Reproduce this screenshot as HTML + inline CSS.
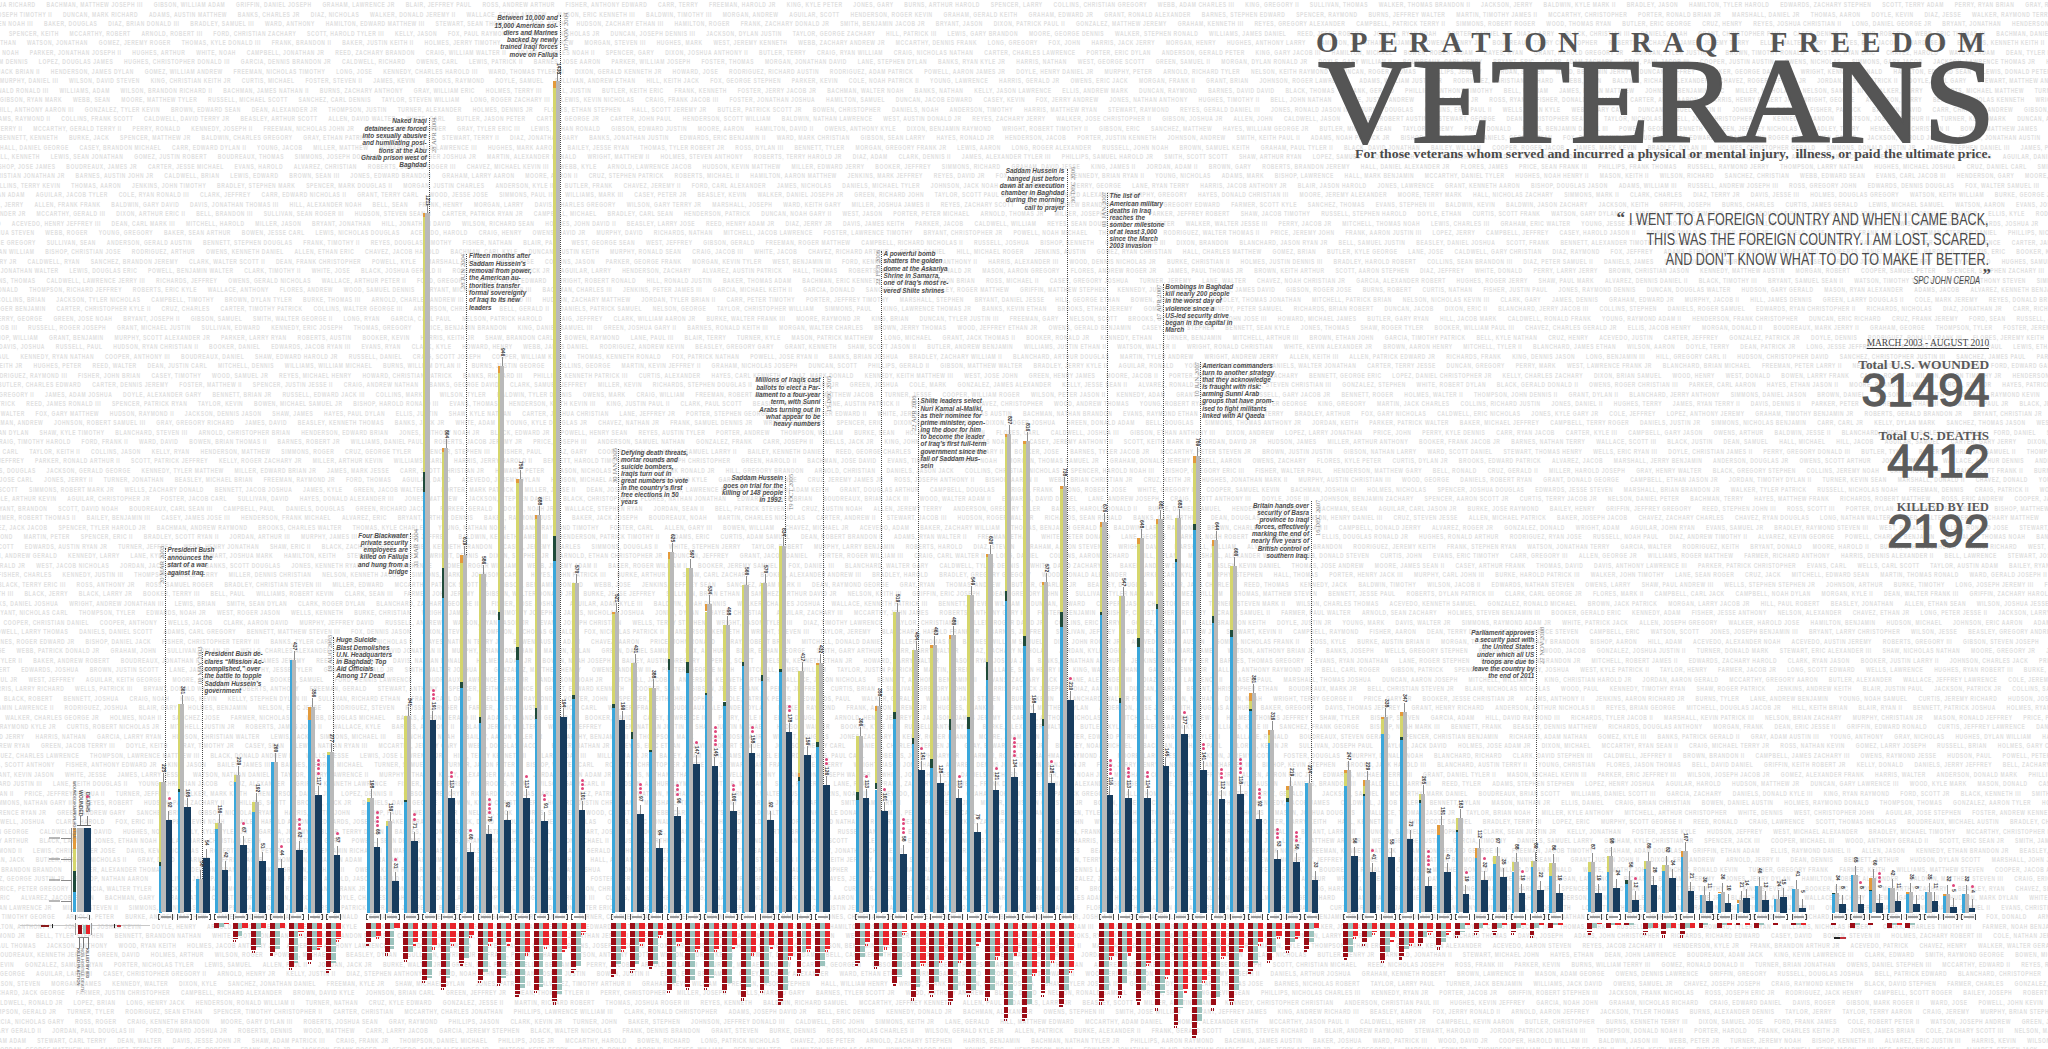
<!DOCTYPE html><html><head><meta charset="utf-8"><style>
html,body{margin:0;padding:0;}
body{width:2048px;height:1049px;position:relative;overflow:hidden;background:#fff;font-family:"Liberation Sans",sans-serif;}
.nm{position:absolute;left:0;white-space:nowrap;font:bold 7.4px/8px "Liberation Sans",sans-serif;color:#e0e0e0;transform:scaleX(0.67);transform-origin:0 0;letter-spacing:0.9px;}
.r{position:absolute;}
.bk{position:absolute;top:914px;width:15px;height:6px;}.bk i,.bk s{position:absolute;top:0;width:1.6px;height:6px;border:1px solid #4a4a4a;box-sizing:border-box;}.bk i{left:0;border-right:none;}.bk s{right:0;border-left:none;}.bk u{position:absolute;left:2.6px;right:2.6px;top:2.2px;height:1.6px;background:#9a9a9a;}
.st{position:absolute;width:3px;height:3px;border-radius:50%;background:#e0457b;}
.nm b{display:inline-block;width:16px;}
.an{position:absolute;white-space:nowrap;font:bold italic 6.4px/7px "Liberation Sans",sans-serif;color:#4c4c4c;}
.dt{position:absolute;white-space:nowrap;font:6.6px/7px "Liberation Serif",serif;color:#7d7d7d;transform:rotate(-90deg);transform-origin:0 0;}
.dl{position:absolute;width:0;border-left:1px dotted #4a4a4a;}
.vl{position:absolute;white-space:nowrap;font:bold 5px/5px "Liberation Sans",sans-serif;color:#333;transform:rotate(90deg);transform-origin:0 0;}
</style></head><body>
<div class="nm" style="top:1.4px;left:-40px">LEWIS, JOSHUA RICHARD<b></b>BACHMAN, MATTHEW JOSEPH III<b></b>GIBSON, WILLIAM ADAM<b></b>GRIFFIN, DANIEL JOSEPH<b></b>GRAHAM, LAWRENCE JR<b></b>BLAIR, JEFFREY PAUL<b></b>ROSS, ANDREW ARTHUR<b></b>FISHER, ANTHONY EDWARD<b></b>CARR, TERRY<b></b>FREEMAN, HAROLD JR<b></b>KING, KYLE PETER<b></b>JONES, GARY<b></b>BURNS, ARTHUR HAROLD<b></b>SPENCER, LARRY<b></b>COLLINS, CHRISTIAN GREGORY<b></b>WEBB, ADAM CHARLES III<b></b>KING, GREGORY II<b></b>SULLIVAN, THOMAS<b></b>WALKER, THOMAS BRANDON II<b></b>JACKSON, JERRY<b></b>BALDWIN, KYLE MARK II<b></b>BRADLEY, JASON<b></b>HAMILTON, TYLER HAROLD<b></b>EDWARDS, ZACHARY STEPHEN<b></b>SCOTT, TERRY ADAM<b></b>PERRY, RYAN BRIAN<b></b>GRAY, RYAN JESSE<b></b>HILL, LARRY ADAM III<b></b>NELSON, AUSTIN STEVEN III<b></b>BOOKER, PETER III<b></b>POWELL, TYLER ANTHONY II</div>
<div class="nm" style="top:10.9px;left:-26px">REED, JOSEPH TIMOTHY II<b></b>DUNCAN, MARK RICHARD<b></b>ADAMS, AUSTIN MATTHEW<b></b>BANKS, CHARLES JR<b></b>DIAZ, NICHOLAS<b></b>WALKER, DONALD JEREMY II<b></b>WALLACE, ETHAN ANDREW<b></b>MASON, ERIC KENNETH III<b></b>BALDWIN, TIMOTHY III<b></b>MORGAN, ANDREW<b></b>AGUILAR, SCOTT<b></b>HENDERSON, ROGER KEVIN<b></b>GRAHAM, GERALD KEITH<b></b>GRAHAM, EDWARD JR<b></b>GRANT, RONALD ALEXANDER<b></b>BARNES, STEPHEN EDWARD<b></b>SPENCER, RAYMOND<b></b>BURNS, JEFFREY WALTER<b></b>MARTIN, TIMOTHY JAMES II<b></b>MCCARTHY, CHRISTOPHER<b></b>PORTER, RONALD BRIAN JR<b></b>MARSHALL, DANIEL JR<b></b>THOMAS, AARON<b></b>DOYLE, KEVIN<b></b>DIAZ, JESSE<b></b>WALKER, RAYMOND TERRY<b></b>BALDWIN, JOHN<b></b>ACEVEDO, PAUL EDWARD<b></b>BARNES, NICHOLAS KEITH<b></b>LONG, ERIC STEVEN<b></b>MITCHELL, PETER III</div>
<div class="nm" style="top:20.4px;left:-40px">WHITE, STEVEN NOAH III<b></b>BAKER, DOUGLAS<b></b>DIAZ, BRIAN DONALD III<b></b>BRADLEY, SAMUEL III<b></b>WARD, ANTHONY<b></b>HAMILTON, EDWARD MATTHEW III<b></b>STEWART, SEAN THOMAS II<b></b>LONG, KEITH<b></b>HUDSON, ZACHARY ETHAN III<b></b>HAMILTON, ROGER<b></b>FRANK, ZACHARY DONALD JR<b></b>SMITH, BENJAMIN JACOB JR<b></b>BRYANT, JASON<b></b>DIXON, PATRICK PAUL II<b></b>GONZALEZ, MATTHEW JEREMY<b></b>GRAHAM, KENNETH III<b></b>REYES, GREGORY ALEXANDER<b></b>CAMPBELL, PATRICK TERRY II<b></b>SIMMONS, ROBERT ROGER<b></b>WOOD, THOMAS RYAN<b></b>BUTLER, ERIC GEORGE<b></b>CRUZ, HENRY<b></b>REYES, JOSHUA CHRISTIAN II<b></b>LONG, DANIEL GEORGE JR<b></b>BRYANT, JONATHAN<b></b>HENDERSON, CHRISTOPHER<b></b>BROWN, ERIC II<b></b>ANDERSON, GREGORY JR<b></b>HOLMES, STEVEN JACOB<b></b>DUNCAN, ERIC RONALD</div>
<div class="nm" style="top:29.9px;left:-41px">KELLY, NOAH<b></b>SPENCER, KEITH<b></b>MCCARTHY, ROBERT<b></b>ARNOLD, ROBERT III<b></b>FORD, CHRISTIAN ZACHARY<b></b>SCOTT, HAROLD TYLER III<b></b>KELLY, JASON<b></b>FOX, PAUL RAYMOND<b></b>CRUZ, JOHN NICHOLAS JR<b></b>DUNCAN, JOSEPH DENNIS III<b></b>JACKSON, DYLAN JUSTIN<b></b>TAYLOR, GEORGE ZACHARY<b></b>HILL, PATRICK III<b></b>LEWIS, GARY BRANDON<b></b>MOORE, GEORGE DENNIS<b></b>WALKER, STEPHEN RONALD<b></b>WILLIAMS, JAMES DANIEL<b></b>REED, JESSE ROBERT<b></b>JORDAN, RYAN NOAH<b></b>PORTER, SAMUEL II<b></b>DIAZ, LARRY<b></b>BLACK, CHRISTIAN III<b></b>DANIELS, NOAH<b></b>GRANT, CHRISTOPHER PAUL<b></b>CASEY, DENNIS III<b></b>BLAIR, ROBERT<b></b>WEBB, ERIC THOMAS III<b></b>BACHMAN, DANIEL<b></b>WALKER, NICHOLAS<b></b>GREEN, TIMOTHY PETER II<b></b>PERRY, CHARLES LARRY<b></b>FOX, CHARLES FRANK</div>
<div class="nm" style="top:39.4px;left:-56px">JORDAN, AUSTIN ETHAN<b></b>WATSON, JONATHAN<b></b>GOMEZ, JEREMY ROGER<b></b>THOMAS, KYLE DONALD III<b></b>FRANK, BRANDON II<b></b>BAKER, JUSTIN KEITH II<b></b>HOLMES, JERRY TIMOTHY<b></b>CAMPBELL, ANDREW<b></b>MORGAN, STEVEN III<b></b>HUGHES, MARK<b></b>WEST, JEREMY KENNETH<b></b>WEBB, ZACHARY ANDREW JR<b></b>MCCARTHY, DENNIS FRANK<b></b>LONG, GREGORY<b></b>FOX, JOHN<b></b>HARRIS, JACK JERRY<b></b>MORGAN, HENRY<b></b>HUGHES, ANTHONY LARRY<b></b>HAMILTON, JONATHAN BENJAMIN<b></b>OWENS, HENRY JR<b></b>BOUDREAUX, TERRY CHRISTOPHER<b></b>ROBERTS, ZACHARY<b></b>JAMES, JEREMY TERRY<b></b>ELLIS, WALTER LARRY<b></b>HAYES, ERIC JACOB<b></b>WARD, SEAN<b></b>EDWARDS, KENNETH KEITH II<b></b>BLANCHARD, JEFFREY FRANK II<b></b>SANCHEZ, PAUL GARY<b></b>EVANS, GREGORY BENJAMIN<b></b>NELSON, ERIC</div>
<div class="nm" style="top:48.9px;left:-47px">BALDWIN, JOSE NOAH<b></b>PARKER, JONATHAN JOSEPH II<b></b>HUGHES, ARTHUR<b></b>WHITE, NOAH<b></b>CAMPBELL, JONATHAN JR<b></b>REED, ZACHARY BRANDON<b></b>CRAIG, WILLIAM WALTER II<b></b>ADAMS, CHARLES NOAH II<b></b>SPENCER, GARY<b></b>DIXON, JOSHUA ANTHONY II<b></b>BUTLER, TERRY<b></b>CRAIG, RYAN WILLIAM<b></b>CRAIG, NICHOLAS NATHAN<b></b>CARTER, CHARLES LAWRENCE<b></b>PORTER, ERIC DYLAN<b></b>ANDERSON, GERALD PETER<b></b>KING, GARY JACOB III<b></b>HAMILTON, MICHAEL<b></b>BOWEN, ROBERT ADAM<b></b>HAYES, RYAN<b></b>GRANT, HAROLD GREGORY JR<b></b>MORGAN, TYLER JUSTIN III<b></b>BROWN, TIMOTHY RONALD<b></b>FOSTER, RYAN ERIC<b></b>CHAVEZ, HAROLD<b></b>WATSON, ADAM<b></b>DEAN, TYLER MICHAEL<b></b>RODRIGUEZ, RICHARD<b></b>POWELL, ZACHARY<b></b>CLARK, CHRISTOPHER<b></b>FORD, GEORGE III</div>
<div class="nm" style="top:58.4px;left:-59px">THOMPSON, WILLIAM DENNIS<b></b>LOPEZ, DOUGLAS JAMES<b></b>HUGHES, CHRISTOPHER DONALD III<b></b>GARCIA, DENNIS BRANDON JR<b></b>CALDWELL, RICHARD<b></b>OWENS, CARL<b></b>LEWIS, PATRICK II<b></b>BARNES, JOSE AARON<b></b>PARKER, WILLIAM JOSEPH<b></b>FOSTER, THOMAS<b></b>MORGAN, JONATHAN DAVID<b></b>LANE, STEPHEN DYLAN<b></b>BANKS, RYAN KYLE JR<b></b>HARRIS, NATHAN<b></b>WEST, GEORGE SCOTT<b></b>GREEN, SAMUEL II<b></b>MORGAN, DYLAN RONALD JR<b></b>DOYLE, GARY WILLIAM II<b></b>BOUDREAUX, CARL HENRY<b></b>BRYANT, ERIC<b></b>CARR, ADAM ZACHARY<b></b>GRAY, PAUL JACOB III<b></b>COOPER, JUSTIN AUSTIN<b></b>OWENS, NICHOLAS<b></b>SIMMONS, GARY JACOB<b></b>JACKSON, LAWRENCE THOMAS JR<b></b>HARRIS, GARY RYAN<b></b>THOMAS, WILLIAM WALTER<b></b>SPENCER, JACK JUSTIN<b></b>COLLINS, RICHARD LAWRENCE</div>
<div class="nm" style="top:67.9px;left:-27px">BURKE, JACK BRIAN II<b></b>HENDERSON, JAMES DYLAN<b></b>GOMEZ, WILLIAM ANDREW<b></b>FREEMAN, NICHOLAS TIMOTHY<b></b>LONG, JOSE<b></b>KENNEDY, CHARLES HAROLD III<b></b>WARD, THOMAS TYLER III<b></b>DIXON, GERALD KENNETH JR<b></b>HOWARD, JOSE<b></b>RODRIGUEZ, RICHARD AUSTIN<b></b>RODRIGUEZ, ADAM PATRICK<b></b>POWELL, AARON JAMES JR<b></b>DOYLE, HENRY DANIEL JR<b></b>MURPHY, PETER<b></b>ARNOLD, RICHARD TYLER<b></b>NELSON, KEITH RAYMOND<b></b>DUNCAN, ROGER THOMAS<b></b>PHILLIPS, JEREMY<b></b>JORDAN, STEVEN<b></b>WARD, BENJAMIN JERRY<b></b>DUNCAN, JEFFREY<b></b>WALKER, GEORGE DAVID JR<b></b>WRIGHT, KENNETH DONALD<b></b>HAMILTON, EDWARD SEAN<b></b>LEWIS, DONALD PETER III<b></b>KELLY, ADAM GARY JR<b></b>PORTER, JACK DOUGLAS<b></b>BALDWIN, JAMES II<b></b>THOMPSON, JACOB PETER<b></b>WALKER, AARON STEVEN</div>
<div class="nm" style="top:77.4px;left:0px">MURPHY, DANIEL III<b></b>WILSON, DAVID STEVEN<b></b>KING, CHRISTIAN KEITH JR<b></b>CURTIS, MICHAEL<b></b>FOSTER, STEVEN II<b></b>JAMES, KEVIN<b></b>BROOKS, RAYMOND<b></b>DOYLE, SAMUEL<b></b>SULLIVAN, ANDREW ETHAN<b></b>HILL, KEITH JACK<b></b>FOX, GEORGE STEPHEN<b></b>PARKER, KEVIN<b></b>COLE, NOAH PATRICK II<b></b>YOUNG, LAWRENCE<b></b>HARRIS, GERALD JR<b></b>OWENS, ERIC JACK<b></b>MORGAN, FRANK II<b></b>GRANT, BRIAN<b></b>JOHNSON, ROGER LAWRENCE<b></b>ADAMS, WILLIAM JUSTIN JR<b></b>RODRIGUEZ, CHRISTIAN RICHARD<b></b>WEBB, RYAN<b></b>BALDWIN, RICHARD ALEXANDER<b></b>CHAVEZ, ROGER JEFFREY JR<b></b>JORDAN, JESSE PATRICK II<b></b>DOYLE, PAUL GARY<b></b>STEWART, MATTHEW ANDREW<b></b>REED, ERIC<b></b>MILLER, DYLAN II<b></b>WRIGHT, HAROLD JAMES<b></b>BRADLEY, GERALD GEORGE<b></b>DOYLE, JOSEPH</div>
<div class="nm" style="top:86.9px;left:-52px">BOUDREAUX, RONALD RONALD III<b></b>WILLIAMS, ADAM<b></b>WILSON, BRANDON RICHARD II<b></b>BACHMAN, JAMES NATHAN II<b></b>BURNS, ZACHARY ANTHONY<b></b>GRAY, WILLIAM ERIC<b></b>HOLMES, TERRY III<b></b>HILL, JUSTIN<b></b>BUTLER, KEITH ERIC<b></b>FRANK, KENNETH<b></b>FOSTER, JERRY JACOB JR<b></b>BACHMAN, WALTER NOAH<b></b>BANKS, NATHAN<b></b>KELLY, JASON LAWRENCE<b></b>ELLIS, ANDREW MARK<b></b>DUNCAN, RAYMOND<b></b>BARNES, DAVID DAVID<b></b>BLACK, THOMAS<b></b>FRANK, GERALD<b></b>PHILLIPS, ANTHONY TIMOTHY<b></b>BELL, WILLIAM<b></b>JAMES, ETHAN MATTHEW<b></b>JOHNSON, BENJAMIN ERIC<b></b>MILLER, NICHOLAS<b></b>NELSON, SAMUEL III<b></b>WALKER, LARRY<b></b>ROBERTS, MICHAEL MATTHEW<b></b>TURNER, RICHARD JASON<b></b>JAMES, KEVIN NOAH<b></b>JAMES, RICHARD JEREMY<b></b>WEBB, GEORGE<b></b>WOOD, ERIC KENNETH</div>
<div class="nm" style="top:96.4px;left:0px">GIBSON, RYAN MARK<b></b>WEBB, SEAN<b></b>MOORE, MATTHEW TYLER<b></b>RUSSELL, MICHAEL SCOTT<b></b>SANCHEZ, CARL DENNIS<b></b>TAYLOR, STEVEN WILLIAM<b></b>LONG, ROGER ZACHARY III<b></b>LEWIS, KEVIN NICHOLAS<b></b>CRAIG, FRANK JACOB III<b></b>FOSTER, JONATHAN JOSHUA<b></b>HAMILTON, SAMUEL<b></b>DUNCAN, JACOB EDWARD<b></b>CASEY, KEVIN<b></b>FOX, JERRY ANDREW<b></b>JONES, NATHAN ANTHONY<b></b>HUGHES, TIMOTHY II<b></b>BELL, JOHN NATHAN<b></b>WHITE, JUSTIN ANDREW<b></b>REYES, JAMES JR<b></b>ROSS, RYAN<b></b>FISHER, DONALD BENJAMIN<b></b>CARTER, ADAM AARON<b></b>HARRIS, HENRY ROBERT JR<b></b>WRIGHT, GEORGE<b></b>ANDERSON, JERRY<b></b>BENNETT, NICHOLAS KENNETH<b></b>WRIGHT, RAYMOND ARTHUR II<b></b>BAILEY, TIMOTHY III<b></b>BAKER, JACK JOSE II<b></b>GARCIA, GEORGE DONALD<b></b>BOWEN, NICHOLAS AARON</div>
<div class="nm" style="top:105.9px;left:-55px">BURKE, ADAM<b></b>HILL, ANTHONY AARON III<b></b>GONZALEZ, TYLER KEVIN<b></b>BROWN, EDWARD SEAN<b></b>DEAN, ALEXANDER JR<b></b>THOMPSON, JUSTIN<b></b>TURNER, ALEXANDER<b></b>HOLMES, DENNIS JR<b></b>FLORES, ETHAN STEPHEN<b></b>HALL, SCOTT JEREMY JR<b></b>BUTLER, PATRICK SCOTT JR<b></b>BOWEN, CHRISTOPHER<b></b>DANIELS, NOAH<b></b>ANDERSON, TIMOTHY<b></b>HARRIS, MATTHEW RYAN<b></b>STEWART, RAYMOND<b></b>REYES, GERALD DANIEL III<b></b>JONES, RONALD JASON III<b></b>BURNS, DOUGLAS<b></b>COLLINS, ERIC PAUL II<b></b>WELLS, SEAN KYLE<b></b>WEBB, GARY CARL<b></b>DUNCAN, SAMUEL AUSTIN II<b></b>JOHNSON, KYLE ADAM<b></b>FISHER, PATRICK<b></b>BALDWIN, DAVID<b></b>CARR, CHRISTIAN ANDREW<b></b>GIBSON, ADAM<b></b>CARR, PATRICK NOAH III<b></b>GARCIA, LARRY HENRY<b></b>BOUDREAUX, RICHARD<b></b>MITCHELL, HAROLD KEITH</div>
<div class="nm" style="top:115.4px;left:-18px">WILLIAMS, RAYMOND II<b></b>COLLINS, FRANK SCOTT<b></b>CALDWELL, DAVID TERRY JR<b></b>BEASLEY, ARTHUR SCOTT<b></b>ALLEN, DAVID WALTER<b></b>WHITE, CARL<b></b>BUTLER, JASON PETER<b></b>CARTER, GEORGE JR<b></b>CARTER, JOHN PAUL<b></b>HENDERSON, SCOTT WILLIAM<b></b>BALDWIN, NATHAN LAWRENCE<b></b>WEST, AUSTIN DONALD JR<b></b>REYES, ZACHARY JERRY<b></b>WALKER, JOSE CHRISTOPHER II<b></b>GIBSON, JOSHUA JR<b></b>ALLEN, JOHN<b></b>CALDWELL, JASON<b></b>TURNER, ROBERT AUSTIN<b></b>STEWART, GEORGE<b></b>DEAN, CHRISTOPHER SEAN II<b></b>TAYLOR, NICHOLAS<b></b>BELL, JOHN CHRISTOPHER JR<b></b>KENNEDY, BRANDON<b></b>WATSON, JOSEPH ARTHUR II<b></b>TURNER, KEVIN MARK<b></b>DUNCAN, ADAM ZACHARY<b></b>MARSHALL, JUSTIN DYLAN<b></b>ARNOLD, JOSHUA<b></b>SANCHEZ, GARY DENNIS<b></b>STEWART, LARRY<b></b>HILL, JONATHAN JESSE</div>
<div class="nm" style="top:124.9px;left:-51px">DAVIS, ARTHUR TERRY II<b></b>MCCARTHY, GERALD TERRY II<b></b>PERRY, RONALD<b></b>KENNEDY, JOSEPH II<b></b>FREEMAN, NICHOLAS JOHN JR<b></b>TAYLOR, CARL ALEXANDER<b></b>GRAY, TYLER ERIC III<b></b>LEWIS, ETHAN RONALD<b></b>GIBSON, EDWARD JUSTIN<b></b>MOORE, AARON<b></b>HAMILTON, DAVID II<b></b>OWENS, ANTHONY KYLE<b></b>DIXON, BENJAMIN RAYMOND<b></b>WRIGHT, ROBERT TIMOTHY II<b></b>GIBSON, ERIC<b></b>SANCHEZ, MATTHEW<b></b>HAYES, WILLIAM GEORGE JR<b></b>BUTLER, MICHAEL SEAN<b></b>TAYLOR, JEREMY<b></b>PRICE, DONALD<b></b>HAYES, BENJAMIN DANIEL III<b></b>POWELL, GEORGE KENNETH<b></b>GREEN, JEFFREY NICHOLAS<b></b>BRADLEY, TERRY<b></b>HENDERSON, CHRISTIAN II<b></b>BOWEN, MATTHEW JAMES<b></b>JONES, JESSE ANTHONY II<b></b>LEWIS, JACK DONALD<b></b>WARD, DENNIS JACOB<b></b>ARNOLD, KYLE</div>
<div class="nm" style="top:134.4px;left:-1px">BENNETT, KENNETH<b></b>BURKE, JACK<b></b>SPENCER, MATTHEW JR<b></b>BALDWIN, CHARLES GREGORY<b></b>GRAY, ETHAN PATRICK<b></b>LOPEZ, JEFFREY<b></b>STEWART, TERRY II<b></b>DIAZ, JONATHAN GARY<b></b>BANKS, JONATHAN JUSTIN<b></b>EDWARDS, ERIC BENJAMIN II<b></b>WARD, MARK CHRISTIAN<b></b>GIBSON, SEAN LARRY<b></b>HAYES, RONALD JR<b></b>HENDERSON, JACOB<b></b>PORTER, JUSTIN KENNETH<b></b>JOHNSON, ANDREW<b></b>SMITH, KEITH PAUL II<b></b>ADAMS, NOAH PATRICK JR<b></b>BISHOP, JOSE ARTHUR<b></b>DANIELS, GEORGE RYAN<b></b>FOX, DYLAN DANIEL II<b></b>HUDSON, BRIAN EDWARD<b></b>FRANK, JOHN ROGER JR<b></b>BOWEN, ROGER<b></b>JACKSON, HAROLD JOSE II<b></b>CURTIS, JONATHAN AUSTIN<b></b>BENNETT, KENNETH<b></b>MOORE, ROGER III<b></b>BRYANT, DONALD GARY<b></b>PERRY, ARTHUR<b></b>JENKINS, ANTHONY II<b></b>SPENCER, CHRISTIAN GERALD</div>
<div class="nm" style="top:143.9px;left:0px">HALL, DANIEL GEORGE<b></b>CASEY, BRANDON MICHAEL<b></b>CARR, EDWARD DYLAN II<b></b>YOUNG, JACOB<b></b>MILLER, MATTHEW<b></b>HOWARD, DONALD LAWRENCE III<b></b>HUGHES, MARK AARON<b></b>BAILEY, JESSE RYAN<b></b>THOMAS, TYLER ROBERT JR<b></b>ROSS, DYLAN III<b></b>BENNETT, TYLER<b></b>MORGAN, GREGORY FRANK JR<b></b>LEWIS, AARON<b></b>LONG, ROGER ALEXANDER<b></b>RUSSELL, JOHN NOAH<b></b>BROWN, SAMUEL KEITH<b></b>GRAHAM, PAUL TYLER II<b></b>BLACK, DAVID JONATHAN<b></b>BAILEY, WILLIAM<b></b>COOPER, ROGER JACOB<b></b>JAMES, MARK KEVIN<b></b>BRADLEY, DYLAN III<b></b>HOLMES, CHRISTOPHER GERALD<b></b>SIMMONS, DONALD JUSTIN JR<b></b>JAMES, STEPHEN DANIEL III<b></b>JAMES, PETER<b></b>PHILLIPS, RONALD PATRICK II<b></b>BLANCHARD, SCOTT II<b></b>KENNEDY, MICHAEL JEFFREY<b></b>WOOD, CARL LAWRENCE JR</div>
<div class="nm" style="top:153.4px;left:-22px">MITCHELL, KENNETH<b></b>LEWIS, SEAN JONATHAN<b></b>GOMEZ, JUSTIN ROBERT<b></b>BOUDREAUX, THOMAS<b></b>SIMMONS, JOSEPH DOUGLAS<b></b>CHAVEZ, ROGER JOSHUA JR<b></b>MARTIN, ALEXANDER RONALD<b></b>WRIGHT, MATTHEW II<b></b>HOLMES, STEVEN ANTHONY<b></b>ROBERTS, TERRY HAROLD JR<b></b>DIAZ, ADAM<b></b>CLARK, DENNIS II<b></b>JAMES, ALEXANDER TYLER III<b></b>PHILLIPS, SAMUEL HAROLD JR<b></b>SMITH, SCOTT SCOTT<b></b>SHAW, ARTHUR RYAN<b></b>LOPEZ, SAMUEL<b></b>LONG, TIMOTHY<b></b>BANKS, RICHARD HAROLD<b></b>BACHMAN, BRANDON NATHAN III<b></b>WRIGHT, NATHAN ALEXANDER<b></b>MILLER, ZACHARY<b></b>ACEVEDO, RYAN JACK III<b></b>REED, SEAN<b></b>FORD, ADAM DOUGLAS<b></b>AGUILAR, DANIEL BENJAMIN<b></b>BURKE, BRANDON MARK<b></b>MASON, CHRISTIAN JR<b></b>DOYLE, NOAH CHRISTIAN<b></b>WILLIAMS, EDWARD JOSEPH</div>
<div class="nm" style="top:162.9px;left:-8px">BISHOP, JOSE JAMES<b></b>BOUDREAUX, JAMES JR<b></b>CARTER, JESSE MICHAEL<b></b>EVANS, HAROLD<b></b>ALVAREZ, CHRISTIAN<b></b>ROBERTS, DONALD ROGER III<b></b>CHAVEZ, MICHAEL KEVIN III<b></b>WEBB, KYLE<b></b>ARNOLD, LAWRENCE JACOB<b></b>HUDSON, KEVIN MATTHEW<b></b>MILLER, EDWARD JERRY<b></b>BOOKER, JEFFREY<b></b>SIMMONS, RICHARD<b></b>GRAHAM, DAVID JESSE<b></b>KING, JAMES II<b></b>JORDAN, ADAM II<b></b>BROWN, GARY<b></b>ROBERTS, BRANDON JEREMY<b></b>HALL, DANIEL ALEXANDER JR<b></b>FLORES, JAMES<b></b>PRICE, SEAN FRANK III<b></b>PHILLIPS, FRANK THOMAS<b></b>RUSSELL, RAYMOND JERRY<b></b>THOMPSON, LARRY NATHAN<b></b>HUGHES, MICHAEL JOSHUA<b></b>CRUZ, DANIEL CARL<b></b>SMITH, KYLE<b></b>DOYLE, JACK AARON JR<b></b>GARCIA, SCOTT III<b></b>FREEMAN, RYAN<b></b>HENDERSON, DYLAN<b></b>ALVAREZ, GARY CHRISTIAN</div>
<div class="nm" style="top:172.4px;left:-40px">COOPER, CHRISTIAN JONATHAN JR<b></b>BARNES, AUSTIN JOHN JR<b></b>CALDWELL, BRIAN<b></b>LEWIS, EDWARD<b></b>BROWN, SEAN III<b></b>JONES, EDWARD BRANDON<b></b>GRAHAM, LARRY AARON<b></b>MOORE, AARON II<b></b>CRUZ, STEPHEN PATRICK<b></b>ROBERTS, MICHAEL II<b></b>HAMILTON, AARON MATTHEW<b></b>JENKINS, MARK JEFFREY<b></b>REYES, DAVID JR<b></b>FOX, SCOTT DAVID III<b></b>KENNEDY, BRIAN RYAN II<b></b>YOUNG, NICHOLAS<b></b>ADAMS, MARK<b></b>BISHOP, LAWRENCE<b></b>HALL, MARK BENJAMIN<b></b>MCCARTHY, DANIEL TYLER<b></b>HUGHES, NOAH HENRY II<b></b>MASON, KEITH II<b></b>WILSON, RICHARD<b></b>SANCHEZ, CHRISTIAN<b></b>WEBB, EDWARD SEAN<b></b>EVANS, CARL JACOB III<b></b>HENDERSON, GARY<b></b>MOORE, RAYMOND RONALD<b></b>DANIELS, PAUL II<b></b>WARD, JACOB<b></b>WOOD, DOUGLAS RAYMOND<b></b>CURTIS, ANDREW JACOB</div>
<div class="nm" style="top:181.9px;left:-9px">COLLINS, TERRY KEVIN<b></b>THOMAS, AARON<b></b>JENKINS, JOHN TIMOTHY<b></b>BRADLEY, STEPHEN MARK<b></b>SPENCER, MARK DOUGLAS II<b></b>MORGAN, JUSTIN CHARLES<b></b>ANDERSON, KYLE II<b></b>BUTLER, FRANK<b></b>CHAVEZ, JEREMY II<b></b>FORD, CARL ALEXANDER<b></b>JAMES, NICHOLAS<b></b>DANIELS, MICHAEL TYLER<b></b>JOHNSON, JACK NOAH<b></b>CASEY, BRANDON<b></b>PERRY, GEORGE<b></b>LANE, RYAN TERRY<b></b>HARRIS, JACOB ANTHONY JR<b></b>BLAIR, JASON HAROLD<b></b>JONES, LAWRENCE<b></b>GRANT, KENNETH AARON<b></b>BISHOP, DOUGLAS JASON<b></b>ADAMS, WILLIAM III<b></b>RUSSELL, ANDREW JOSEPH III<b></b>ROSS, GREGORY JOHN<b></b>EDWARDS, DENNIS DOUGLAS<b></b>FOX, WALTER SAMUEL III<b></b>TAYLOR, HENRY<b></b>REED, CHRISTOPHER<b></b>LOPEZ, SCOTT ADAM<b></b>WARD, PAUL GREGORY III<b></b>BARNES, EDWARD ZACHARY</div>
<div class="nm" style="top:191.4px;left:-36px">OWENS, SEAN ADAM<b></b>AGUILAR, JACOB TYLER<b></b>COLE, RYAN RONALD III<b></b>CLARK, JEFFREY<b></b>CARR, EDWARD NICHOLAS II<b></b>GRANT, TERRY CARL<b></b>WOOD, JESSE JOSE<b></b>SIMMONS, PAUL III<b></b>WILLIAMS, MARK III<b></b>CASEY, PETER JR<b></b>BEASLEY, KEVIN<b></b>WALKER, DANIEL JOSEPH JR<b></b>GREEN, RICHARD JOHN<b></b>TAYLOR, SCOTT PAUL JR<b></b>CALDWELL, RONALD ALEXANDER<b></b>MURPHY, GREGORY<b></b>HAYES, DONALD CHRISTIAN III<b></b>MOORE, JEREMY ALEXANDER<b></b>MOORE, TERRY MARK<b></b>HALL, NICHOLAS ZACHARY<b></b>SIMMONS, MARK II<b></b>CLARK, CHARLES<b></b>DIAZ, TERRY JR<b></b>DAVIS, JESSE III<b></b>HOLMES, DOUGLAS GREGORY<b></b>WATSON, KEITH WILLIAM<b></b>BURKE, GEORGE JR<b></b>WALKER, KENNETH II<b></b>POWELL, RYAN III<b></b>BURKE, PATRICK JASON<b></b>CRUZ, JESSE<b></b>ELLIS, PATRICK</div>
<div class="nm" style="top:200.9px;left:-33px">THOMPSON, JERRY<b></b>ALLEN, FRANK FRANK<b></b>BALDWIN, GARY DAVID<b></b>DAVIS, JONATHAN THOMAS III<b></b>HILL, ALEXANDER NOAH<b></b>BELL, SEAN<b></b>FRANK, HENRY<b></b>MORGAN, LARRY<b></b>DAVIS, CHARLES GREGORY<b></b>WILSON, GARY TERRY JR<b></b>MARSHALL, JOSEPH<b></b>WARD, KEITH GARY<b></b>MILLER, JOSHUA JAMES II<b></b>REYES, ZACHARY SCOTT<b></b>BROOKS, ANDREW BRANDON<b></b>BOUDREAUX, GREGORY EDWARD<b></b>FARMER, SCOTT KYLE<b></b>SANCHEZ, THOMAS<b></b>EVANS, STEPHEN III<b></b>BALDWIN, KEVIN<b></b>BALDWIN, JASON ZACHARY<b></b>JACKSON, KEITH<b></b>GRIFFIN, JOSEPH<b></b>BURNS, CHARLES<b></b>CURTIS, JAMES GERALD<b></b>LEWIS, MICHAEL SAMUEL<b></b>WATSON, AARON<b></b>EVANS, JOSEPH<b></b>CALDWELL, FRANK JR<b></b>HAYES, KYLE<b></b>LANE, AUSTIN<b></b>BOWEN, ADAM<b></b>DOYLE, DANIEL TIMOTHY</div>
<div class="nm" style="top:210.4px;left:-56px">CAMPBELL, ALEXANDER JR<b></b>MCCARTHY, GERALD III<b></b>DIXON, ARTHUR ERIC II<b></b>BELL, BRANDON III<b></b>SULLIVAN, SEAN ROGER III<b></b>HUDSON, STEVEN SEAN II<b></b>CARTER, PATRICK RYAN JR<b></b>CAMPBELL, MICHAEL<b></b>BRADLEY, CARL SEAN<b></b>HENDERSON, PATRICK<b></b>DUNCAN, NOAH GARY II<b></b>WEST, JASON<b></b>PORTER, PETER MICHAEL<b></b>ARNOLD, THOMAS JR<b></b>MILLER, JOSEPH DENNIS JR<b></b>PARKER, JEFFREY ROBERT<b></b>SHAW, JACOB TIMOTHY<b></b>RUSSELL, STEPHEN HAROLD<b></b>DOYLE, ETHAN<b></b>CURTIS, SCOTT FRANK<b></b>WATSON, GARY DYLAN II<b></b>GIBSON, LAWRENCE TIMOTHY<b></b>BLACK, DOUGLAS PAUL<b></b>BANKS, MARK JOHN<b></b>JORDAN, JOSHUA ALEXANDER<b></b>ELLIS, KYLE<b></b>RODRIGUEZ, GREGORY JR<b></b>MARSHALL, WILLIAM RONALD<b></b>BENNETT, PAUL RYAN JR<b></b>CASEY, ROBERT BENJAMIN</div>
<div class="nm" style="top:219.9px;left:-48px">CLARK, DONALD<b></b>ACEVEDO, HENRY JEFFREY III<b></b>DEAN, CARL MARK III<b></b>MITCHELL, HAROLD<b></b>MILLER, JASON<b></b>BRYANT, JONATHAN<b></b>HILL, JONATHAN DAVID<b></b>WILSON, RICHARD SEAN<b></b>HOLMES, JOHN DAVID II<b></b>BEASLEY, LARRY JOSE<b></b>REED, HENRY ADAM JR<b></b>DIAZ, JERRY JR<b></b>DAVIS, JAMES KEITH<b></b>PARKER, JACOB<b></b>CALDWELL, WILLIAM<b></b>REYES, SEAN DOUGLAS III<b></b>KING, PETER<b></b>WALKER, WALTER JESSE III<b></b>PERRY, JACOB JR<b></b>MITCHELL, THOMAS NOAH<b></b>LEWIS, CHARLES III<b></b>GRAHAM, ERIC WALTER<b></b>YOUNG, JESSE JEFFREY<b></b>BROOKS, NOAH TIMOTHY III<b></b>ELLIS, PATRICK BRIAN<b></b>TAYLOR, BRIAN<b></b>LEWIS, DENNIS HENRY<b></b>RICHARDS, JOSHUA JR<b></b>CASEY, PATRICK ROGER III<b></b>JORDAN, ZACHARY<b></b>PRICE, JUSTIN<b></b>STEWART, ETHAN</div>
<div class="nm" style="top:229.4px;left:-42px">WRIGHT, JOSHUA STEVEN<b></b>WEBB, ROGER<b></b>YOUNG, GREGORY<b></b>BAKER, SEAN ARTHUR<b></b>BOWEN, JESSE CARL<b></b>LEWIS, NICHOLAS DOUGLAS<b></b>ACEVEDO, HAROLD<b></b>CRAIG, HENRY<b></b>OWENS, DAVID JR<b></b>MURPHY, DAVID<b></b>RICHARDS, NATHAN<b></b>MITCHELL, JACOB LAWRENCE<b></b>FOSTER, LAWRENCE TIMOTHY<b></b>BRYANT, CHRISTOPHER JR<b></b>POWELL, NOAH MICHAEL<b></b>THOMAS, KYLE JR<b></b>RODRIGUEZ, WALTER THOMAS II<b></b>PRICE, JEREMY JOHN<b></b>FRANK, AARON JUSTIN III<b></b>LOPEZ, JERRY<b></b>CAMPBELL, JEFFREY<b></b>CASEY, HAROLD JASON II<b></b>BOWEN, RONALD II<b></b>BOWEN, TERRY JR<b></b>DANIELS, JOSE<b></b>LEWIS, FRANK JAMES<b></b>BACHMAN, STEPHEN DANIEL<b></b>PHILLIPS, NICHOLAS<b></b>PRICE, CHRISTIAN<b></b>KELLY, SCOTT DENNIS JR<b></b>BAILEY, NICHOLAS STEVEN<b></b>GARCIA, GERALD II</div>
<div class="nm" style="top:238.9px;left:-50px">WEBB, LAWRENCE GREGORY<b></b>SULLIVAN, SEAN<b></b>ANDERSON, GERALD AUSTIN<b></b>BENNETT, STEPHEN DOUGLAS<b></b>FRANK, TIMOTHY II<b></b>REYES, DOUGLAS TIMOTHY<b></b>FISHER, NATHAN<b></b>BLAIR, PAUL<b></b>WEST, GEORGE SEAN<b></b>WEST, JEFFREY<b></b>GIBSON, GERALD<b></b>FREEMAN, ROGER MATTHEW<b></b>CAMPBELL, RICHARD NICHOLAS II<b></b>RUSSELL, JOSHUA<b></b>BISHOP, KENNETH<b></b>GRAY, LAWRENCE III<b></b>DIXON, BRANDON<b></b>BLANCHARD, JASON RYAN JR<b></b>BELL, SAMUEL JUSTIN<b></b>BEASLEY, DANIEL JOSHUA<b></b>SCOTT, FRANK<b></b>BENNETT, ALEXANDER TIMOTHY III<b></b>ACEVEDO, CHARLES RAYMOND<b></b>WEST, DANIEL STEPHEN<b></b>BAILEY, DANIEL WALTER<b></b>GRANT, LAWRENCE<b></b>CARTER, JAMES JOSHUA<b></b>BLAIR, BRIAN ZACHARY II<b></b>HAMILTON, FRANK<b></b>CLARK, SCOTT III<b></b>SULLIVAN, MATTHEW</div>
<div class="nm" style="top:248.4px;left:-42px">DUNCAN, DYLAN WILLIAM<b></b>BISHOP, CHRISTIAN JOSE<b></b>RODRIGUEZ, ARTHUR<b></b>OWENS, KENNETH DANIEL<b></b>ALLEN, ETHAN ERIC<b></b>CHAVEZ, JACOB HAROLD<b></b>BACHMAN, CARL KYLE<b></b>DUNCAN, AUSTIN KEITH<b></b>MURPHY, RONALD SEAN<b></b>CRAIG, JACOB III<b></b>WHITE, JACOB<b></b>CHAVEZ, RICHARD ARTHUR<b></b>GRANT, DANIEL<b></b>HILL, MICHAEL ROGER<b></b>JENKINS, AUSTIN<b></b>GOMEZ, RYAN CHRISTIAN<b></b>HALL, CHARLES MATTHEW<b></b>GOMEZ, BRIAN<b></b>BUTLER, KYLE GEORGE<b></b>LANE, JOSE<b></b>CALDWELL, GARY CHRISTIAN<b></b>DIAZ, RAYMOND<b></b>FOX, JEFFREY<b></b>ADAMS, ETHAN NOAH<b></b>BROWN, THOMAS RICHARD<b></b>ROBERTS, DANIEL<b></b>DUNCAN, HAROLD II<b></b>CURTIS, ERIC<b></b>BOOKER, KYLE<b></b>SHAW, JERRY III<b></b>JONES, JESSE MARK<b></b>HARRIS, RYAN JESSE II<b></b>GREEN, HAROLD RICHARD JR</div>
<div class="nm" style="top:257.9px;left:-44px">PRICE, GREGORY JR<b></b>CALDWELL, RYAN<b></b>SANCHEZ, BRANDON JEREMY<b></b>CLARK, WALTER SCOTT II<b></b>DEAN, FRANK CHRISTOPHER<b></b>POWELL, KYLE<b></b>MARSHALL, DANIEL<b></b>SMITH, JOSE<b></b>COLLINS, JASON<b></b>PARKER, GEORGE FRANK<b></b>MORGAN, KEVIN TYLER<b></b>WEST, BENJAMIN III<b></b>FORD, KENNETH JOHN<b></b>EVANS, ANTHONY II<b></b>HARRIS, ALEXANDER III<b></b>WOOD, DENNIS NICHOLAS JR<b></b>BURKE, CHRISTIAN II<b></b>HOLMES, JUSTIN DENNIS III<b></b>BRADLEY, HAROLD ROBERT<b></b>COLLINS, SEAN BRANDON III<b></b>DIAZ, PETER SAMUEL II<b></b>DANIELS, JAMES<b></b>DAVIS, EDWARD ARTHUR III<b></b>BLACK, TYLER JESSE<b></b>GRIFFIN, JUSTIN<b></b>ROSS, TERRY<b></b>PERRY, HAROLD<b></b>HUGHES, SAMUEL ARTHUR II<b></b>BLAIR, GERALD PAUL<b></b>WRIGHT, JOSEPH ROGER<b></b>KENNEDY, RICHARD JERRY</div>
<div class="nm" style="top:267.4px;left:-27px">FLORES, JONATHAN WALTER<b></b>LEWIS, DOUGLAS ERIC<b></b>POWELL, BENJAMIN WALTER<b></b>CLARK, TIMOTHY II<b></b>WHITE, JOSE<b></b>BLACK, JOSHUA GERALD II<b></b>ROBERTS, CHARLES PATRICK JR<b></b>AGUILAR, LARRY<b></b>HENDERSON, ZACHARY<b></b>ALVAREZ, AUSTIN PATRICK<b></b>HALL, THOMAS<b></b>ROBERTS, MARK<b></b>FARMER, DONALD JR<b></b>MASON, AARON GREGORY<b></b>FLORES, ANDREW ROGER JR<b></b>JAMES, PAUL THOMAS JR<b></b>BROWN, KEITH ARTHUR<b></b>SCOTT, AARON STEPHEN<b></b>DIAZ, JEFFREY<b></b>WHITE, DONALD<b></b>PERRY, LARRY JERRY<b></b>BROWN, CHRISTIAN JASON<b></b>KENNEDY, MATTHEW AUSTIN<b></b>MORGAN, ROBERT<b></b>COOPER, SAMUEL PETER<b></b>SPENCER, STEPHEN ZACHARY III<b></b>BELL, DAVID KYLE<b></b>WARD, JEFFREY GREGORY<b></b>AGUILAR, AUSTIN SEAN<b></b>JACKSON, ARTHUR MICHAEL<b></b>EVANS, MICHAEL</div>
<div class="nm" style="top:276.9px;left:-15px">OWENS, THOMAS<b></b>CALDWELL, LAWRENCE JERRY III<b></b>RICHARDS, JEFFREY<b></b>OWENS, GERALD NICHOLAS<b></b>WALLACE, ARTHUR PETER II<b></b>FORD, GREGORY<b></b>REYES, KEVIN EDWARD<b></b>WRIGHT, ROBERT RONALD<b></b>HILL, RONALD JUSTIN<b></b>BAKER, THOMAS ADAM<b></b>BACHMAN, ERIC KENNETH<b></b>MITCHELL, BRANDON BRIAN<b></b>ROSS, MICHAEL II<b></b>CASEY, GREGORY JOSHUA<b></b>TURNER, JEREMY<b></b>LANE, WALTER<b></b>CHAVEZ, NOAH CHRISTIAN JR<b></b>GARCIA, ALEXANDER ROBERT<b></b>HUGHES, ROGER JERRY<b></b>SHAW, PAUL MARK<b></b>ALVAREZ, DENNIS DANIEL II<b></b>BLACK, TIMOTHY III<b></b>BRYANT, SAMUEL SEAN II<b></b>WATSON, TIMOTHY TIMOTHY<b></b>PERRY, ANTHONY STEVEN<b></b>SIMMONS, PETER DOUGLAS<b></b>BOOKER, WALTER JACOB II<b></b>TURNER, ANDREW HAROLD JR<b></b>BROOKS, JACOB<b></b>ALLEN, TYLER JEFFREY</div>
<div class="nm" style="top:286.4px;left:-27px">CARR, RONALD<b></b>THOMPSON, RICHARD JEFFREY<b></b>ROBERTS, ERIC KYLE<b></b>WALLACE, ANTHONY<b></b>FLORES, ANDREW<b></b>WOOD, SAMUEL DENNIS<b></b>BRYANT, MICHAEL CHRISTOPHER III<b></b>BACHMAN, CHARLES III<b></b>JENKINS, PETER JAMES III<b></b>GARCIA, MICHAEL KEITH II<b></b>GARCIA, DONALD<b></b>SANCHEZ, MARK<b></b>BEASLEY, ROGER MATTHEW<b></b>GRIFFIN, MATTHEW STEPHEN<b></b>KENNEDY, JUSTIN ARTHUR<b></b>FOSTER, JAMES DAVID<b></b>GIBSON, ROGER JOSE<b></b>BURNS, ROBERT<b></b>CURTIS, NATHAN<b></b>FISHER, JUSTIN PAUL<b></b>JONES, RAYMOND DENNIS<b></b>DUNCAN, DOUGLAS WALTER<b></b>HUDSON, GARY GERALD<b></b>MASON, RYAN ALEXANDER<b></b>ADAMS, JACOB<b></b>ALVAREZ, KENNETH BENJAMIN JR<b></b>MARTIN, PATRICK DONALD II<b></b>DUNCAN, JASON GERALD<b></b>RICHARDS, ROGER<b></b>GIBSON, JASON JOHN</div>
<div class="nm" style="top:295.9px;left:-3px">COLLINS, BRIAN<b></b>JACKSON, TYLER NICHOLAS<b></b>CAMPBELL, TIMOTHY<b></b>BROWN, DYLAN TYLER<b></b>BURKE, THOMAS III<b></b>ARNOLD, CHARLES ANDREW III<b></b>CLARK, HAROLD III<b></b>HUDSON, ZACHARY MATTHEW<b></b>JORDAN, TYLER BRIAN II<b></b>CARR, PETER TIMOTHY<b></b>PORTER, JEFFREY TIMOTHY<b></b>MARSHALL, STEPHEN<b></b>BRYANT, DANIEL JESSE<b></b>HILL, GEORGE ETHAN<b></b>BOWEN, JERRY DANIEL<b></b>BRADLEY, THOMAS JONATHAN<b></b>MITCHELL, PATRICK BRIAN<b></b>NELSON, NICHOLAS KEVIN III<b></b>CLARK, GARY<b></b>JAMES, DENNIS<b></b>GRAHAM, EDWARD JR<b></b>MURPHY, JACOB II<b></b>HILL, JAMES DENNIS<b></b>GREEN, LARRY DOUGLAS II<b></b>COLE, MARK JEREMY<b></b>REYES, DONALD BRIAN<b></b>SANCHEZ, DOUGLAS EDWARD<b></b>HOLMES, PATRICK JACOB<b></b>BOWEN, CHARLES ETHAN<b></b>PARKER, MARK NATHAN III</div>
<div class="nm" style="top:305.4px;left:-36px">GRIFFIN, ROGER BENJAMIN<b></b>CARTER, CHRISTOPHER KYLE II<b></b>CRUZ, CHARLES<b></b>CARTER, TIMOTHY PATRICK<b></b>COLLINS, WALTER GEORGE III<b></b>ANDERSON, CHRISTIAN II<b></b>BELL, GERALD II<b></b>DANIELS, PATRICK SAMUEL<b></b>NELSON, GEORGE<b></b>TAYLOR, CHRISTOPHER WILLIAM<b></b>SIMMONS, PAUL<b></b>KING, LAWRENCE THOMAS JR<b></b>BANKS, KEVIN ETHAN<b></b>BROOKS, ETHAN JEREMY<b></b>GOMEZ, EDWARD<b></b>KENNEDY, PETER SAMUEL<b></b>RICHARDS, BRIAN ROBERT<b></b>DUNCAN, JACOB<b></b>DIXON, ERIC II<b></b>BLANCHARD, JERRY JACOB III<b></b>COLLINS, STEPHEN<b></b>DANIELS, ROGER SAMUEL<b></b>EDWARDS, RYAN CHRISTOPHER II<b></b>RICHARDS, NICHOLAS<b></b>DIAZ, JONATHAN JR<b></b>CARR, RICHARD ANTHONY<b></b>JENKINS, CHARLES BRIAN<b></b>ROSS, CHARLES SCOTT III<b></b>COLE, ZACHARY NOAH<b></b>YOUNG, SEAN CHARLES</div>
<div class="nm" style="top:314.9px;left:-6px">PERRY, GEORGE<b></b>GREEN, JOSE NOAH<b></b>BRYANT, JOSEPH II<b></b>GIBSON, SAMUEL<b></b>SMITH, WALTER GEORGE II<b></b>LONG, RYAN<b></b>GARCIA, CARL PAUL<b></b>NELSON, PATRICK HAROLD<b></b>CRAIG, JEFFREY<b></b>CLARK, WILLIAM AARON JR<b></b>BURKE, WALTER FRANK III<b></b>MOORE, RAYMOND JR<b></b>KING, BRIAN<b></b>DUNCAN, TYLER JUSTIN III<b></b>FREEMAN, GARY<b></b>NELSON, SCOTT<b></b>BROOKS, DYLAN JESSE<b></b>FOX, JOHN JOSE III<b></b>HOWARD, MICHAEL JAMES<b></b>BUTLER, GARY RYAN<b></b>HILL, JACOB MARK<b></b>CALDWELL, RONALD FRANK<b></b>YOUNG, RAYMOND ADAM II<b></b>HENDERSON, FRANK CHRISTOPHER<b></b>DUNCAN, ERIC RICHARD<b></b>CRUZ, FRANK JEREMY<b></b>FORD, SEAN<b></b>RUSSELL, JERRY ROBERT<b></b>KENNEDY, CHARLES<b></b>BROOKS, JESSE ZACHARY II<b></b>GRAY, DANIEL II<b></b>SHAW, PAUL LAWRENCE</div>
<div class="nm" style="top:324.4px;left:-38px">TAYLOR, JACOB III<b></b>RUSSELL, ROGER JOSEPH<b></b>GRANT, MICHAEL JUSTIN<b></b>SULLIVAN, EDWARD<b></b>KENNEDY, ERIC JOSEPH<b></b>THOMAS, GREGORY<b></b>PRICE, BENJAMIN BRANDON<b></b>KING, DANIEL SAMUEL III<b></b>GREEN, JOSHUA GARY II<b></b>BARNES, RONALD KEITH III<b></b>MORGAN, WALTER CHARLES<b></b>BROWN, JERRY THOMAS<b></b>WOOD, JEFFREY ETHAN JR<b></b>OWENS, GERALD BENJAMIN<b></b>CASEY, PETER STEPHEN<b></b>BENNETT, SEAN KYLE<b></b>JONES, THOMAS<b></b>SHAW, ROGER TYLER<b></b>BOOKER, WILLIAM PAUL III<b></b>CHAVEZ, CHARLES GERALD JR<b></b>ELLIS, JACOB HENRY<b></b>MORGAN, DONALD II<b></b>BOUDREAUX, MARK JERRY II<b></b>GRAHAM, GEORGE<b></b>THOMPSON, TYLER<b></b>FOSTER, JEREMY CHRISTIAN<b></b>HAMILTON, MICHAEL WALTER<b></b>LEWIS, BENJAMIN GREGORY<b></b>ROSS, JOSEPH<b></b>MCCARTHY, JOHN</div>
<div class="nm" style="top:333.9px;left:-13px">BISHOP, WILLIAM<b></b>GRANT, BENJAMIN<b></b>MURPHY, SCOTT ALEXANDER JR<b></b>PARKER, LARRY RYAN<b></b>ROBERTS, AUSTIN<b></b>BOOKER, KEVIN<b></b>HARRIS, KEITH JR<b></b>SHAW, BRANDON CARL<b></b>BOWEN, RAYMOND<b></b>LANE, PAUL III<b></b>BLAIR, TERRY<b></b>TURNER, KYLE<b></b>MASON, PATRICK MATTHEW<b></b>LONG, MICHAEL<b></b>GRANT, JACK THOMAS II<b></b>BOOKER, RONALD JR<b></b>KENNEDY, ETHAN<b></b>TURNER, BENJAMIN<b></b>MITCHELL, ARTHUR III<b></b>BROWN, ETHAN JOHN<b></b>GARCIA, TIMOTHY PATRICK<b></b>BELL, KYLE NATHAN<b></b>CRUZ, HENRY<b></b>ACEVEDO, JUSTIN<b></b>CARTER, JEFFREY<b></b>GONZALEZ, PATRICK JR<b></b>DOYLE, DENNIS<b></b>RODRIGUEZ, RONALD FRANK III<b></b>FLORES, JEREMY KEITH<b></b>DAVIS, DENNIS III<b></b>EDWARDS, GEORGE TERRY<b></b>MORGAN, RICHARD<b></b>WILLIAMS, ROBERT<b></b>WILSON, KYLE III</div>
<div class="nm" style="top:343.4px;left:-1px">DAVIS, JOSHUA<b></b>RUSSELL, PAUL<b></b>HUDSON, RYAN CHRISTIAN II<b></b>BOOKER, DANIEL<b></b>EDWARDS, JACOB RYAN III<b></b>EVANS, RYAN<b></b>CLARK, KYLE<b></b>HOWARD, HENRY<b></b>WEBB, JAMES DANIEL<b></b>RODRIGUEZ, ANDREW KEVIN<b></b>BEASLEY, GREGORY GARY<b></b>GRANT, KENNETH<b></b>SHAW, SCOTT JASON II<b></b>BUTLER, ANDREW BENJAMIN<b></b>WILLIAMS, JUSTIN ETHAN II<b></b>WATSON, WALTER II<b></b>WRIGHT, RONALD CHRISTIAN<b></b>WHITE, KEVIN ALEXANDER JR<b></b>BROWN, AARON HENRY<b></b>MITCHELL, TYLER II<b></b>BLANCHARD, JAMES ETHAN<b></b>WILSON, AARON<b></b>DOYLE, TERRY<b></b>DEAN, PATRICK JR<b></b>LONG, JESSE JEFFREY<b></b>DOYLE, TERRY GEORGE<b></b>COLE, PAUL<b></b>LEWIS, ETHAN STEPHEN<b></b>YOUNG, ROBERT GERALD<b></b>WALLACE, MARK JERRY<b></b>BAKER, JACK<b></b>MORGAN, GERALD FRANK<b></b>WELLS, KENNETH JR</div>
<div class="nm" style="top:352.9px;left:-58px">BURKE, EDWARD PAUL<b></b>KENNEDY, RYAN NATHAN<b></b>COOPER, ANTHONY III<b></b>BOUDREAUX, DANIEL<b></b>SHAW, EDWARD HAROLD JR<b></b>RUSSELL, DANIEL<b></b>CRAIG, SCOTT JOSEPH<b></b>COOPER, WILLIAM KEVIN<b></b>THOMAS, KENNETH RONALD<b></b>FOX, PATRICK NATHAN<b></b>POWELL, JOSE RYAN II<b></b>BANKS, BRIAN JOSHUA<b></b>BRADLEY, ZACHARY WILLIAM II<b></b>BLANCHARD, ARTHUR DOUGLAS<b></b>MARTIN, TYLER ANDREW<b></b>WRIGHT, ANDREW JERRY<b></b>ALLEN, KEITH III<b></b>ALLEN, PATRICK EDWARD JR<b></b>RICHARDS, FRANK<b></b>KING, DENNIS JASON<b></b>LONG, BENJAMIN III<b></b>HILL, GREGORY CARL II<b></b>HUDSON, CHRISTOPHER DAVID<b></b>SANCHEZ, CHRISTOPHER JUSTIN III<b></b>SANCHEZ, JAMES PAUL<b></b>PARKER, STEPHEN JR<b></b>SMITH, NICHOLAS ZACHARY<b></b>CARR, WILLIAM SCOTT<b></b>BROOKS, ERIC JACK</div>
<div class="nm" style="top:362.4px;left:-32px">WILSON, KEITH JR<b></b>HUGHES, PETER<b></b>REED, WALTER<b></b>DEAN, JUSTIN CARL<b></b>MITCHELL, DENNIS<b></b>WILLIAMS, WILLIAM MICHAEL<b></b>BURNS, WILLIAM DYLAN II<b></b>BURNS, JUSTIN GEORGE<b></b>COLLINS, GEORGE<b></b>MARTIN, KEVIN JEFFREY II<b></b>GRAHAM, NICHOLAS JOSEPH<b></b>DUNCAN, SCOTT<b></b>PHILLIPS, GERALD II<b></b>GIBSON, MATTHEW WALTER<b></b>BRADLEY, JERRY KYLE II<b></b>AGUILAR, RONALD<b></b>YOUNG, DONALD AARON<b></b>DANIELS, WALTER JONATHAN<b></b>CARTER, TERRY JESSE<b></b>DUNCAN, GREGORY<b></b>PERRY, MARK<b></b>WEST, LAWRENCE FRANK JR<b></b>BLANCHARD, BRIAN MICHAEL<b></b>FREEMAN, PETER LARRY II<b></b>NELSON, AUSTIN<b></b>WARD, RONALD BRIAN<b></b>FORD, EDWARD GARY<b></b>ROSS, JOHN CHARLES<b></b>WOOD, KEITH<b></b>CLARK, LARRY<b></b>ADAMS, JONATHAN HENRY<b></b>HUGHES, BENJAMIN</div>
<div class="nm" style="top:371.9px;left:-9px">RODRIGUEZ, RAYMOND III<b></b>FISHER, JOHN BRIAN<b></b>CASEY, TIMOTHY<b></b>WOOD, SAMUEL JR<b></b>REYES, MICHAEL HENRY<b></b>HOWARD, CHRISTIAN PATRICK<b></b>BANKS, RICHARD III<b></b>PHILLIPS, KENNETH PATRICK III<b></b>CURTIS, ALEXANDER<b></b>HAYES, CARL KENNETH<b></b>DIAZ, MARK DONALD<b></b>KENNEDY, KEITH MATTHEW III<b></b>WEST, JOSE JOHN<b></b>GREEN, HENRY JAMES<b></b>MOORE, JACOB II<b></b>PORTER, HENRY DAVID<b></b>BLAIR, ZACHARY<b></b>BENNETT, GEORGE ERIC<b></b>LOPEZ, DANIEL CHRISTOPHER JR<b></b>KELLY, CHARLES ZACHARY<b></b>DIXON, BRIAN SAMUEL<b></b>WOOD, HENRY<b></b>WEST, DONALD<b></b>BOWEN, LARRY FRANK<b></b>CASEY, ROGER<b></b>WILSON, AARON TIMOTHY JR<b></b>HENDERSON, PETER KYLE<b></b>GRAHAM, TYLER JOSE<b></b>BACHMAN, LARRY<b></b>HAMILTON, JONATHAN<b></b>GONZALEZ, WILLIAM NATHAN</div>
<div class="nm" style="top:381.4px;left:-2px">BUTLER, CHARLES EDWARD<b></b>CARTER, DENNIS JEREMY<b></b>FOSTER, MATTHEW II<b></b>SPENCER, JUSTIN JESSE II<b></b>CRAIG, ANDREW NATHAN<b></b>BANKS, GEORGE DAVID<b></b>CLARK, SAMUEL JEFFREY<b></b>MILLER, KEVIN<b></b>RICHARDS, STEPHEN DOUGLAS II<b></b>FARMER, JAMES CARL JR<b></b>GREEN, JOSHUA<b></b>COLE, MARK<b></b>GONZALEZ, JAMES ALEXANDER<b></b>KELLY, JESSE SEAN II<b></b>ALVAREZ, RONALD TIMOTHY II<b></b>MARTIN, STEVEN CHRISTIAN III<b></b>GONZALEZ, STEPHEN<b></b>WHITE, ROBERT DYLAN<b></b>BLACK, GERALD DONALD II<b></b>OWENS, ROGER CHRISTIAN III<b></b>PARKER, CARL AARON<b></b>HAYES, ETHAN JASON II<b></b>MOORE, BRANDON DANIEL<b></b>GARCIA, RYAN JR<b></b>HAYES, PATRICK<b></b>BLANCHARD, JOSEPH JOSE<b></b>SHAW, NOAH<b></b>GRANT, GREGORY ANTHONY<b></b>WATSON, ANTHONY JONATHAN II</div>
<div class="nm" style="top:390.9px;left:-21px">CRUZ, GREGORY II<b></b>JAMES, ADAM JOSHUA<b></b>DOYLE, ALEXANDER GARY<b></b>BENNETT, BRIAN JR<b></b>RUSSELL, EDWARD JACK III<b></b>COLLINS, MARK II<b></b>WILSON, TYLER<b></b>BALDWIN, TYLER DENNIS<b></b>OWENS, MARK<b></b>CRAIG, WILLIAM<b></b>FREEMAN, ROBERT ARTHUR<b></b>JOHNSON, MATTHEW JACOB<b></b>TURNER, JESSE<b></b>COOPER, WILLIAM ROGER<b></b>WILSON, PETER JASON II<b></b>KENNEDY, ADAM<b></b>GRANT, MARK AARON<b></b>RUSSELL, GARY JACOB JR<b></b>BENNETT, ROGER<b></b>HOLMES, WALTER II<b></b>THOMPSON, JOHN DENNIS II<b></b>GRANT, DYLAN II<b></b>BLANCHARD, JERRY ANTHONY<b></b>SIMMONS, DANIEL JASON<b></b>BROWN, DANIEL<b></b>NELSON, JAMES KEITH II<b></b>JENKINS, RAYMOND KEVIN<b></b>WILSON, NOAH JACK<b></b>BAILEY, TIMOTHY JERRY<b></b>MARSHALL, SEAN LARRY<b></b>NELSON, MARK GERALD<b></b>DANIELS, FRANK</div>
<div class="nm" style="top:400.4px;left:-58px">DUNCAN, ADAM PATRICK<b></b>REED, JAMES RONALD III<b></b>SPENCER, PATRICK RYAN<b></b>TAYLOR, KEVIN<b></b>BOWEN, MICHAEL SAMUEL JR<b></b>BISHOP, HAROLD RONALD III<b></b>EVANS, THOMAS<b></b>HENDERSON, KEITH KEVIN III<b></b>KING, JUSTIN PAUL II<b></b>CLARK, PAUL SCOTT<b></b>BEASLEY, ARTHUR II<b></b>LANE, AUSTIN PATRICK II<b></b>SPENCER, TERRY<b></b>CHAVEZ, CHRISTOPHER<b></b>WOOD, ANDREW THOMAS<b></b>YOUNG, ROBERT RYAN II<b></b>CALDWELL, PETER GEORGE<b></b>KING, GREGORY<b></b>MARTIN, JACK CHARLES<b></b>COLLINS, RICHARD JUSTIN<b></b>JONES, DANIEL II<b></b>HUGHES, TERRY<b></b>JAMES, RYAN TERRY II<b></b>DAVIS, DENNIS II<b></b>PARKER, PETER<b></b>HUGHES, JONATHAN III<b></b>HAMILTON, PAUL JR<b></b>BLACK, JEFFREY DOUGLAS<b></b>THOMAS, CHRISTIAN JEREMY<b></b>MOORE, AARON RAYMOND II<b></b>REYES, KENNETH JOSHUA JR</div>
<div class="nm" style="top:409.9px;left:-27px">FLORES, WALTER<b></b>FOX, GARY MATTHEW<b></b>HUDSON, RAYMOND II<b></b>JACKSON, DENNIS JASON<b></b>SHAW, JAMES<b></b>HAYES, PAUL DYLAN<b></b>ELLIS, JUSTIN<b></b>SHAW, KYLE NATHAN<b></b>CARTER, JOSHUA CHRISTIAN<b></b>LANE, JEFFREY JR<b></b>PORTER, STEPHEN GEORGE<b></b>DUNCAN, WALTER EDWARD II<b></b>WHITE, JEREMY<b></b>FRANK, DOUGLAS AUSTIN<b></b>BACHMAN, NATHAN BRANDON<b></b>EVANS, RAYMOND ETHAN<b></b>DOYLE, BRANDON TERRY<b></b>BRADLEY, ARTHUR<b></b>FOX, GARY NICHOLAS<b></b>CALDWELL, ERIC NICHOLAS<b></b>JONES, KYLE GARY JR<b></b>COLE, JEFFREY<b></b>LOPEZ, ANTHONY JEREMY<b></b>GRAHAM, TIMOTHY BENJAMIN JR<b></b>ROBERTS, GERALD BRANDON JR<b></b>BRYANT, CHRISTIAN JR<b></b>AGUILAR, WALTER JOSE JR<b></b>GIBSON, RICHARD KYLE<b></b>WILSON, DONALD JACK JR<b></b>ANDERSON, JOHN JEREMY<b></b>FOSTER, WALTER</div>
<div class="nm" style="top:419.4px;left:-15px">FREEMAN, ANDREW<b></b>JOHNSON, ROBERT SAMUEL III<b></b>GRAY, GREGORY RICHARD<b></b>JAMES, DAVID<b></b>BEASLEY, KENNETH THOMAS<b></b>BANKS, JACK JR<b></b>WHITE, ADAM<b></b>YOUNG, KYLE DOUGLAS JR<b></b>CHAVEZ, NATHAN JR<b></b>FRANK, SAMUEL DENNIS JR<b></b>WRIGHT, SEAN MARK<b></b>SPENCER, ERIC<b></b>DIXON, DOUGLAS STEPHEN<b></b>DIXON, ROGER JOSHUA<b></b>GREEN, DONALD ADAM<b></b>BELL, DOUGLAS<b></b>SIMMONS, THOMAS ANTHONY JR<b></b>JORDAN, KEITH<b></b>PARKER, PATRICK WALTER<b></b>BAKER, MICHAEL JEFFREY<b></b>CAMPBELL, TERRY ROGER<b></b>DANIELS, JUSTIN JR<b></b>SIMMONS, NICHOLAS BENJAMIN<b></b>CARR, CARL JR<b></b>KELLY, DYLAN MARK<b></b>SANCHEZ, THOMAS JASON<b></b>WEST, JUSTIN NATHAN<b></b>JACKSON, PETER SCOTT III<b></b>HUDSON, CHRISTIAN ROGER II<b></b>MASON, RYAN BENJAMIN III<b></b>WHITE, JUSTIN</div>
<div class="nm" style="top:428.9px;left:-58px">ROBERTS, CHRISTIAN DYLAN<b></b>SHAW, KYLE TIMOTHY<b></b>BLANCHARD, STEVEN III<b></b>ARNOLD, CHRISTOPHER BRIAN<b></b>HENDERSON, EDWARD BRIAN<b></b>JONES, ANTHONY NOAH JR<b></b>BLACK, EDWARD JR<b></b>POWELL, HENRY SEAN<b></b>REYES, AUSTIN TYLER<b></b>PORTER, ANDREW<b></b>THOMPSON, WILLIAM<b></b>BURKE, SEAN<b></b>HOLMES, PETER BRANDON<b></b>FLORES, CARL<b></b>CALDWELL, JOSHUA III<b></b>GIBSON, ETHAN ANTHONY III<b></b>DIXON, ANDREW<b></b>LOPEZ, LARRY JONATHAN<b></b>PRICE, JOHN<b></b>PERRY, KYLE DENNIS<b></b>CARR, RYAN JACOB<b></b>CARTER, KYLE III<b></b>CAMPBELL, GARY JASON<b></b>OWENS, ARTHUR<b></b>BALDWIN, JESSE II<b></b>BLANCHARD, ANDREW<b></b>BAILEY, KYLE AARON<b></b>FORD, DANIEL<b></b>SHAW, EDWARD<b></b>BLAIR, KEITH ANTHONY<b></b>MARSHALL, NICHOLAS<b></b>HUDSON, NATHAN II<b></b>STEWART, KYLE AUSTIN</div>
<div class="nm" style="top:438.4px;left:-59px">CLARK, BRIAN<b></b>CRAIG, TIMOTHY HAROLD<b></b>FORD, FRANK II<b></b>WARD, DAVID<b></b>BOWEN, BRIAN THOMAS II<b></b>BARNES, ROBERT JR<b></b>WILLIAMS, DANIEL PAUL<b></b>ROBERTS, JACOB JEREMY JR<b></b>PRICE, JOSEPH III<b></b>ANDERSON, SAMUEL NATHAN<b></b>GONZALEZ, FRANK<b></b>CARR, JOSEPH II<b></b>WELLS, JACK JR<b></b>KING, JOHN<b></b>RICHARDS, THOMAS NOAH JR<b></b>CASEY, JEREMY ANTHONY II<b></b>SCOTT, KEITH MARK II<b></b>JORDAN, DAVID JR<b></b>HUDSON, JAMES<b></b>MILLER, ARTHUR ANTHONY<b></b>BOOKER, FRANK JACOB JR<b></b>BARNES, NATHAN TERRY<b></b>WALLACE, SCOTT III<b></b>BLACK, JUSTIN<b></b>DEAN, SAMUEL<b></b>HALL, MICHAEL<b></b>HILL, JACOB<b></b>AGUILAR, SAMUEL<b></b>CARTER, GARY JERRY<b></b>DIXON, ZACHARY SEAN<b></b>NELSON, ROBERT HAROLD<b></b>COOPER, KENNETH<b></b>PRICE, TERRY<b></b>LONG, FRANK DENNIS</div>
<div class="nm" style="top:447.9px;left:-26px">JORDAN, CARL<b></b>TAYLOR, KEITH II<b></b>COLLINS, JASON<b></b>KELLY, RYAN<b></b>HENDERSON, MATTHEW<b></b>SIMMONS, ROGER<b></b>CRUZ, GEORGE TYLER<b></b>SPENCER, STEPHEN III<b></b>FISHER, PAUL<b></b>DIAZ, GARY<b></b>COOPER, RONALD<b></b>KELLY, SAMUEL LARRY II<b></b>BAILEY, KENNETH DANIEL<b></b>REED, GEORGE CHARLES<b></b>CAMPBELL, AARON GARY II<b></b>BOOKER, JOSE<b></b>BARNES, TYLER JACOB JR<b></b>MCCARTHY, PETER STEVEN JR<b></b>BROWN, JUSTIN JUSTIN<b></b>GIBSON, NATHAN LARRY<b></b>WARD, SCOTT DANIEL<b></b>STEWART, THOMAS HENRY<b></b>WELLS, ERIC RYAN III<b></b>DOYLE, CHRISTIAN JAMES II<b></b>PERRY, GREGORY DONALD III<b></b>BUTLER, TYLER<b></b>ROBERTS, CHRISTIAN SAMUEL II<b></b>THOMPSON, LARRY II<b></b>DANIELS, BRIAN III<b></b>BAKER, JOSE<b></b>HUDSON, GERALD<b></b>GIBSON, HENRY II</div>
<div class="nm" style="top:457.4px;left:-42px">FOX, DANIEL JEFFREY<b></b>PARKER, RONALD ARTHUR II<b></b>SCOTT, PATRICK JEFFREY<b></b>KELLY, ROGER ZACHARY JR<b></b>MILLER, ARTHUR KEVIN<b></b>WILLIAMS, CARL<b></b>HARRIS, JERRY HAROLD II<b></b>BENNETT, HAROLD TIMOTHY<b></b>DOYLE, JOSEPH CHRISTOPHER<b></b>GREEN, HAROLD II<b></b>BACHMAN, JOSE DAVID<b></b>EVANS, TIMOTHY JR<b></b>DIXON, NOAH<b></b>MORGAN, THOMAS SAMUEL JR<b></b>GRAHAM, DONALD JEREMY<b></b>BELL, AARON<b></b>OWENS, ZACHARY<b></b>FLORES, KYLE PETER<b></b>CURTIS, DYLAN JR<b></b>BROOKS, EDWARD PATRICK<b></b>ALVAREZ, JACOB<b></b>MARSHALL, JERRY BENJAMIN<b></b>ANDERSON, DOUGLAS JR<b></b>OWENS, SCOTT ARTHUR<b></b>JONES, TIMOTHY<b></b>WALLACE, ARTHUR DENNIS<b></b>ANDERSON, ARTHUR<b></b>BEASLEY, JERRY<b></b>WEST, TIMOTHY TERRY<b></b>WEBB, WILLIAM JASON<b></b>TURNER, JAMES</div>
<div class="nm" style="top:466.9px;left:-23px">DANIELS, DOUGLAS<b></b>JACKSON, GERALD GEORGE<b></b>KENNEDY, TYLER MATTHEW<b></b>MILLER, EDWARD BRIAN JR<b></b>JAMES, MARK JESSE<b></b>CARR, SCOTT CHRISTIAN JR<b></b>HOWARD, PETER<b></b>MASON, NICHOLAS<b></b>GONZALEZ, FRANK RONALD JR<b></b>HILL, GREGORY BRANDON<b></b>ARNOLD, CHRISTIAN<b></b>DANIELS, JASON JACK<b></b>COLLINS, CHRISTIAN NICHOLAS<b></b>SPENCER, HAROLD NOAH III<b></b>BISHOP, GREGORY ERIC III<b></b>FISHER, WALTER PAUL<b></b>HENDERSON, MATTHEW GARY<b></b>BELL, RONALD<b></b>CRUZ, GERALD II<b></b>MILLER, HAROLD JOSEPH<b></b>GRAY, HENRY WALTER<b></b>BLACK, GREGORY STEPHEN<b></b>COLLINS, JEREMY NOAH<b></b>CARR, ROGER JR<b></b>CRAIG, SCOTT FRANK II<b></b>BURNS, ETHAN TYLER<b></b>MCCARTHY, ROBERT II<b></b>FRANK, RONALD DONALD II<b></b>GRAHAM, DYLAN<b></b>DIAZ, ANTHONY SEAN</div>
<div class="nm" style="top:476.4px;left:-25px">BURNS, JOSE CARL<b></b>JONES, JERRY II<b></b>TURNER, JONATHAN<b></b>BEASLEY, MICHAEL BRIAN<b></b>FREEMAN, RAYMOND JR<b></b>FORD, THOMAS<b></b>AGUILAR, DAVID<b></b>ACEVEDO, JEREMY DYLAN<b></b>HUDSON, MICHAEL AUSTIN<b></b>AGUILAR, DAVID KYLE<b></b>GARCIA, GARY LAWRENCE<b></b>CRUZ, JEREMY JAMES JR<b></b>ROSS, JOSEPH ANTHONY II<b></b>BISHOP, AARON II<b></b>WEBB, BRIAN CHRISTIAN JR<b></b>CRUZ, KEITH JR<b></b>HUGHES, JONATHAN MARK II<b></b>MURPHY, AUSTIN CHRISTIAN III<b></b>WOOD, GEORGE<b></b>DANIELS, ROBERT RYAN<b></b>GRANT, DONALD GEORGE<b></b>CAMPBELL, ETHAN JASON JR<b></b>JORDAN, TIMOTHY DYLAN II<b></b>TURNER, KEVIN SEAN<b></b>MARSHALL, DONALD II<b></b>CHAVEZ, DONALD<b></b>YOUNG, ROGER ANDREW<b></b>HOLMES, JESSE ARTHUR JR<b></b>BOOKER, STEVEN ADAM<b></b>SCOTT, JACOB PATRICK III</div>
<div class="nm" style="top:485.9px;left:-44px">DEAN, HENRY SCOTT<b></b>SIMMONS, ROBERT MARK JR<b></b>WELLS, ZACHARY DONALD<b></b>BENNETT, JACOB JOSHUA<b></b>JAMES, KYLE<b></b>GREEN, JACOB WALTER II<b></b>PORTER, MARK PATRICK<b></b>MILLER, JESSE II<b></b>DEAN, JOSEPH JASON<b></b>SMITH, LAWRENCE STEVEN<b></b>ANDERSON, ADAM KEITH<b></b>GRANT, DOUGLAS ARTHUR<b></b>CAMPBELL, DOUGLAS<b></b>WRIGHT, FRANK<b></b>LONG, ROBERT JOSE<b></b>WHITE, GREGORY II<b></b>COOPER, SAMUEL KEVIN<b></b>BACHMAN, JOSHUA III<b></b>HOLMES, NICHOLAS<b></b>SPENCER, JOSHUA DOUGLAS<b></b>EDWARDS, JESSE STEVEN<b></b>MARSHALL, BRIAN BRANDON JR<b></b>WALKER, TYLER PATRICK<b></b>RUSSELL, NICHOLAS NOAH<b></b>FREEMAN, DENNIS<b></b>CRAIG, PATRICK II<b></b>WOOD, NOAH PAUL<b></b>MARTIN, CARL NATHAN<b></b>BROWN, ERIC ANTHONY<b></b>BLANCHARD, HAROLD GARY<b></b>HUGHES, RAYMOND</div>
<div class="nm" style="top:495.4px;left:-8px">COLE, ARTHUR KEVIN<b></b>AGUILAR, CHRISTOPHER JR<b></b>FOSTER, JACOB CARL<b></b>SULLIVAN, DAVID<b></b>HAYES, DONALD ALEXANDER III<b></b>JONES, MATTHEW<b></b>JACKSON, STEPHEN DANIEL<b></b>BLACK, CHRISTOPHER<b></b>FLORES, NATHAN JONATHAN<b></b>EDWARDS, ROGER BRIAN<b></b>BOUDREAUX, BRIAN JACK III<b></b>WOOD, WALTER ADAM II<b></b>EDWARDS, DAVID DANIEL<b></b>LANE, ANDREW JOSEPH<b></b>CRAIG, SCOTT ANTHONY III<b></b>DOYLE, JOSE III<b></b>JOHNSON, BENJAMIN ZACHARY<b></b>SPENCER, AARON SCOTT JR<b></b>CURTIS, TERRY JACOB JR<b></b>NELSON, DANIEL PETER<b></b>BACHMAN, TERRY<b></b>HAYES, MATTHEW FRANK<b></b>RICHARDS, ROBERT MATTHEW<b></b>ROSS, ERIC ANDREW<b></b>COOPER, JACK JOSHUA II<b></b>TAYLOR, DAVID SAMUEL III<b></b>CARTER, BENJAMIN<b></b>AGUILAR, AARON<b></b>BOUDREAUX, SEAN ZACHARY</div>
<div class="nm" style="top:504.9px;left:-9px">BRYANT, BRANDON<b></b>SCOTT, DAVID NOAH<b></b>BOUDREAUX, CARL SEAN III<b></b>CAMPBELL, PAUL<b></b>DANIELS, DOUGLAS<b></b>GREEN, RICHARD JACOB<b></b>PARKER, GERALD<b></b>DOYLE, NOAH JR<b></b>WALLACE, STEPHEN RYAN<b></b>JORDAN, SEAN II<b></b>BELL, PATRICK STEVEN II<b></b>CRUZ, AUSTIN NOAH<b></b>ALLEN, JEREMY TERRY<b></b>ANDERSON, GREGORY TYLER<b></b>BARNES, HAROLD DONALD II<b></b>BURKE, DANIEL SAMUEL<b></b>HENDERSON, ZACHARY II<b></b>BACHMAN, SEAN<b></b>AGUILAR, CARL JASON JR<b></b>BURKE, JOSE RAYMOND<b></b>BAILEY, HENRY<b></b>GRIFFIN, JEFFREY GREGORY<b></b>REED, STEPHEN JOHN III<b></b>ROSS, SCOTT III<b></b>PORTER, DYLAN<b></b>TURNER, PETER LARRY JR<b></b>BISHOP, MATTHEW SAMUEL<b></b>WILLIAMS, MICHAEL II<b></b>EVANS, RYAN MARK<b></b>ALLEN, LAWRENCE RAYMOND JR<b></b>CLARK, GREGORY FRANK</div>
<div class="nm" style="top:514.4px;left:-10px">FARMER, ROBERT THOMAS II<b></b>BAILEY, BENJAMIN III<b></b>CASEY, JAMES JOSE III<b></b>HENDERSON, FRANK MICHAEL<b></b>ALVAREZ, ERIC<b></b>BRYANT, ARTHUR DENNIS<b></b>BAKER, RAYMOND JUSTIN<b></b>BAKER, JACK JOSEPH<b></b>BOUDREAUX, NOAH<b></b>MARTIN, CHARLES NICHOLAS<b></b>CARTER, ANDREW II<b></b>STEWART, JACOB III<b></b>HUDSON, ROGER WALTER<b></b>RICHARDS, SEAN RONALD<b></b>BANKS, CARL ARTHUR<b></b>DEAN, DOUGLAS JOSE JR<b></b>JOHNSON, HENRY DANIEL III<b></b>CRUZ, STEVEN JESSE<b></b>ALLEN, MICHAEL PATRICK<b></b>BAKER, JOSEPH JACOB<b></b>CHAVEZ, ZACHARY CHARLES<b></b>CHAVEZ, RYAN DOUGLAS<b></b>LONG, NATHAN WALTER<b></b>REED, WALTER<b></b>PERRY, ZACHARY MATTHEW<b></b>STEWART, SEAN<b></b>BRYANT, JACOB<b></b>CRAIG, CHRISTOPHER JR<b></b>TURNER, WALTER PAUL JR<b></b>WEST, GEORGE<b></b>BLANCHARD, MATTHEW III</div>
<div class="nm" style="top:523.9px;left:-14px">LOPEZ, JACK JACOB<b></b>SPENCER, TYLER HAROLD JR<b></b>BACHMAN, ANDREW RAYMOND<b></b>BROOKS, CHARLES WALTER<b></b>THOMAS, KYLE CHARLES<b></b>YOUNG, NATHAN NOAH<b></b>FRANK, RAYMOND TIMOTHY<b></b>FOSTER, CARL<b></b>ALLEN, GARY III<b></b>BOWEN, WILLIAM<b></b>CHAVEZ, MICHAEL JR<b></b>ACEVEDO, ADAM<b></b>BAKER, ZACHARY WILLIAM<b></b>THOMAS, BENJAMIN GERALD II<b></b>BALDWIN, LARRY RAYMOND<b></b>BROWN, CHARLES<b></b>ACEVEDO, ADAM II<b></b>CAMPBELL, DONALD JERRY<b></b>ALVAREZ, ROGER JR<b></b>GONZALEZ, DONALD<b></b>WRIGHT, ADAM<b></b>AGUILAR, JOHN RYAN<b></b>EVANS, SAMUEL JR<b></b>BRADLEY, RAYMOND STEVEN III<b></b>WEST, RONALD III<b></b>ALLEN, RONALD JOSE<b></b>STEWART, RYAN GREGORY JR<b></b>GRANT, JOSE JR<b></b>BURKE, DANIEL BRANDON III<b></b>COOPER, JEREMY DANIEL<b></b>FREEMAN, WILLIAM III</div>
<div class="nm" style="top:533.4px;left:-58px">ROSS, TYLER RAYMOND<b></b>MARTIN, PETER<b></b>SPENCER, ERIC II<b></b>BRADLEY, SCOTT RYAN II<b></b>JORDAN, ARTHUR III<b></b>MURPHY, JAMES III<b></b>CRAIG, CHARLES JEFFREY<b></b>BALDWIN, KENNETH JAMES III<b></b>HENDERSON, PATRICK TIMOTHY II<b></b>ADAMS, ERIC<b></b>CURTIS, ADAM SAMUEL<b></b>DEAN, ROBERT BRANDON II<b></b>ADAMS, RYAN WALTER II<b></b>FREEMAN, ETHAN<b></b>WHITE, PETER DONALD<b></b>LANE, GEORGE<b></b>PARKER, NOAH ROBERT<b></b>JONES, CHARLES<b></b>ELLIS, DOUGLAS RONALD JR<b></b>HUGHES, RONALD ARTHUR<b></b>RODRIGUEZ, RYAN JOSE<b></b>RUSSELL, NOAH PAUL<b></b>DIAZ, ANDREW TIMOTHY II<b></b>ALVAREZ, KEVIN GEORGE<b></b>POWELL, CHARLES BENJAMIN<b></b>GONZALEZ, THOMAS NOAH<b></b>BANKS, MATTHEW DYLAN<b></b>CASEY, JACK JESSE JR<b></b>AGUILAR, GREGORY TYLER JR<b></b>BAILEY, KENNETH III</div>
<div class="nm" style="top:542.9px;left:-30px">BLACK, SCOTT<b></b>EDWARDS, AUSTIN RYAN JR<b></b>TURNER, JEFFREY<b></b>WEBB, HENRY JONATHAN<b></b>SHAW, ERIC II<b></b>BLACK, ZACHARY KEITH<b></b>TURNER, KENNETH BRANDON<b></b>CASEY, JEREMY CHARLES<b></b>SIMMONS, DOUGLAS II<b></b>WHITE, STEPHEN JERRY<b></b>TAYLOR, ROBERT<b></b>MURPHY, LARRY BENJAMIN<b></b>ROBERTS, HAROLD<b></b>DIAZ, STEVEN<b></b>GRAHAM, AARON STEVEN II<b></b>WRIGHT, DAVID<b></b>MARSHALL, WILLIAM<b></b>ALVAREZ, LAWRENCE BRANDON<b></b>RODRIGUEZ, JEREMY KEITH<b></b>FRANK, STEPHEN RYAN<b></b>WATSON, JONATHAN TERRY<b></b>GARCIA, WALTER<b></b>RODRIGUEZ, KEITH<b></b>BRYANT, DONALD<b></b>MOORE, HAROLD II<b></b>BURNS, ETHAN JOSHUA II<b></b>CRAIG, RICHARD<b></b>WEST, JOSHUA JONATHAN II<b></b>ALLEN, ANTHONY JACOB III<b></b>JACKSON, ANTHONY<b></b>HARRIS, KEVIN<b></b>WOOD, LAWRENCE</div>
<div class="nm" style="top:552.4px;left:-32px">ANDERSON, ANDREW GERALD<b></b>KENNEDY, LARRY<b></b>LANE, KYLE JERRY<b></b>STEWART, JOSHUA MARK<b></b>HAMILTON, KEITH<b></b>STEWART, KEVIN PETER<b></b>WRIGHT, DENNIS<b></b>DIXON, STEPHEN JR<b></b>ARNOLD, ETHAN CHRISTOPHER JR<b></b>DUNCAN, JEFFREY<b></b>GRANT, JACOB DANIEL<b></b>PORTER, ROGER WILLIAM III<b></b>CRAIG, CARL WALTER II<b></b>LONG, DANIEL<b></b>COLLINS, AARON RICHARD<b></b>HILL, DYLAN<b></b>MARSHALL, ALEXANDER WALTER<b></b>WEBB, DONALD STEVEN<b></b>CURTIS, JOHN<b></b>EVANS, ERIC TIMOTHY<b></b>CARR, GREGORY III<b></b>ALLEN, GEORGE JR<b></b>WILLIAMS, ROGER MATTHEW<b></b>FARMER, RICHARD ANTHONY<b></b>HARRIS, DENNIS ALEXANDER II<b></b>BELL, LAWRENCE<b></b>STEWART, JOSEPH NATHAN II<b></b>PERRY, HENRY LAWRENCE<b></b>WALKER, JOHN<b></b>WILLIAMS, ERIC DYLAN II<b></b>THOMPSON, DANIEL NICHOLAS</div>
<div class="nm" style="top:561.9px;left:-37px">BARNES, GERALD JR<b></b>WEST, JACOB NICHOLAS<b></b>JORDAN, JACK CHARLES<b></b>BANKS, SCOTT DOUGLAS<b></b>JONES, KENNETH RYAN<b></b>TAYLOR, LAWRENCE<b></b>GOMEZ, ROGER WILLIAM<b></b>WEBB, JEREMY ADAM II<b></b>BAKER, ROGER WILLIAM II<b></b>BOOKER, JEREMY SAMUEL<b></b>FOX, DANIEL III<b></b>BLANCHARD, WALTER GARY<b></b>CALDWELL, TYLER DENNIS<b></b>WHITE, DAVID ZACHARY III<b></b>BAKER, ANDREW DONALD<b></b>BEASLEY, KEVIN DANIEL<b></b>THOMAS, JOSE ANDREW<b></b>MOORE, JAMES SEAN II<b></b>CASEY, ARTHUR FRANK<b></b>THOMAS, DAVID<b></b>DAVIS, ANTHONY LAWRENCE III<b></b>PARKER, PATRICK CHRISTOPHER<b></b>EVANS, CARL<b></b>WELLS, CARL SCOTT<b></b>TAYLOR, AUSTIN ADAM<b></b>BAILEY, RYAN JUSTIN II<b></b>MURPHY, DENNIS JONATHAN II<b></b>BRADLEY, JONATHAN<b></b>CHAVEZ, CHRISTOPHER JOSHUA<b></b>BLAIR, HENRY TIMOTHY III</div>
<div class="nm" style="top:571.4px;left:-2px">FISHER, CHARLES<b></b>KENNEDY, JUSTIN III<b></b>THOMPSON, HAROLD TERRY<b></b>MILLER, DENNIS CHRISTIAN<b></b>NELSON, KENNETH JACOB<b></b>SIMMONS, MARK<b></b>JOHNSON, CARL<b></b>HAYES, JOHN PATRICK III<b></b>BURKE, ARTHUR II<b></b>SHAW, CARL ZACHARY<b></b>BOOKER, ALEXANDER ANDREW III<b></b>BRADLEY, HAROLD<b></b>BRADLEY, GREGORY GREGORY<b></b>WOOD, RONALD ALEXANDER<b></b>BURKE, CARL KYLE<b></b>MURPHY, STEPHEN<b></b>HALL, THOMAS<b></b>PORTER, HENRY JACK III<b></b>MURPHY, CARL JOHN III<b></b>BURKE, HAROLD PATRICK III<b></b>WALKER, JOHN TIMOTHY<b></b>LANE, SEAN ROGER<b></b>CRUZ, JACK<b></b>MITCHELL, EDWARD SEAN<b></b>MARTIN, THOMAS RONALD<b></b>WARD, GERALD JOSEPH II<b></b>LONG, CHARLES BRIAN<b></b>PORTER, PATRICK III<b></b>GARCIA, DOUGLAS TERRY<b></b>ACEVEDO, ETHAN<b></b>DEAN, NOAH AARON JR</div>
<div class="nm" style="top:580.9px;left:-60px">BRADLEY, JOSE<b></b>BLACK, TERRY ERIC III<b></b>ROSS, ANTHONY JR<b></b>ROSS, SAMUEL ROGER<b></b>BRADLEY, CHRISTIAN STEVEN III<b></b>MILLER, EDWARD<b></b>MCCARTHY, PATRICK SCOTT JR<b></b>GIBSON, BENJAMIN DONALD<b></b>WEBB, JOSE<b></b>JENKINS, JEFFREY SEAN<b></b>SANCHEZ, ADAM MARK II<b></b>DEAN, RAYMOND GEORGE<b></b>GRAY, RYAN<b></b>THOMAS, ANDREW<b></b>BUTLER, CHARLES JR<b></b>BEASLEY, DOUGLAS<b></b>WALKER, JACK CHARLES<b></b>REED, THOMAS<b></b>KENNEDY, JACK<b></b>BALDWIN, TIMOTHY<b></b>WILSON, JACOB II<b></b>EDWARDS, NATHAN STEVEN<b></b>OWENS, LARRY<b></b>SHAW, PAUL ANDREW III<b></b>WELLS, STEPHEN STEPHEN JR<b></b>JOHNSON, ARTHUR<b></b>BURKE, TIMOTHY<b></b>LONG, JOSEPH JEREMY III<b></b>FREEMAN, DENNIS BRANDON<b></b>BLAIR, RYAN PAUL<b></b>WILSON, CHRISTOPHER III<b></b>WEST, ALEXANDER WALTER</div>
<div class="nm" style="top:590.4px;left:-59px">POWELL, SEAN KEITH III<b></b>BLACK, JERRY<b></b>BLACK, LARRY JR<b></b>BOOKER, TERRY III<b></b>BELL, PAUL<b></b>WILLIAMS, ROBERT KEVIN<b></b>CLARK, SEAN III<b></b>FARMER, JOHN JEREMY<b></b>GIBSON, WALTER DONALD JR<b></b>BURKE, JESSE JEFFREY<b></b>SULLIVAN, BRIAN ETHAN<b></b>SANCHEZ, ARTHUR DAVID JR<b></b>NELSON, KEITH III<b></b>GRIFFIN, ERIC JOSEPH<b></b>DEAN, GREGORY JOHN II<b></b>SULLIVAN, TYLER NATHAN III<b></b>GOMEZ, WILLIAM<b></b>THOMAS, MATTHEW STEVEN<b></b>BENNETT, JESSE PAUL<b></b>ROBERTS, DYLAN PATRICK III<b></b>CLARK, CARL GEORGE JR<b></b>FLORES, MARK II<b></b>CAMPBELL, CARL JACK<b></b>CAMPBELL, NOAH DYLAN<b></b>MORGAN, KYLE II<b></b>DEAN, WALTER FRANK III<b></b>GRIFFIN, ZACHARY HAROLD JR<b></b>ARNOLD, ADAM ETHAN JR<b></b>TURNER, PATRICK II<b></b>ARNOLD, JASON<b></b>BEASLEY, LARRY</div>
<div class="nm" style="top:599.9px;left:-19px">BROOKS, DANIEL JOSHUA<b></b>WRIGHT, ANDREW JONATHAN III<b></b>LEWIS, BRIAN<b></b>SMITH, SEAN DYLAN<b></b>CLARK, ROGER DYLAN<b></b>BLANCHARD, ZACHARY GEORGE III<b></b>FISHER, JOSE JOSHUA<b></b>AGUILAR, ADAM KYLE III<b></b>BALDWIN, NOAH DENNIS<b></b>WALKER, CHARLES JOSHUA<b></b>WALLACE, KENNETH PATRICK III<b></b>BENNETT, STEVEN WILLIAM<b></b>DUNCAN, EDWARD<b></b>COOPER, JASON CHRISTOPHER III<b></b>TURNER, STEVEN MARK II<b></b>WILSON, CHARLES THOMAS<b></b>ACEVEDO, KENNETH SAMUEL<b></b>GONZALEZ, RONALD MICHAEL<b></b>BROWN, JACK PATRICK<b></b>MORGAN, LARRY JACOB JR<b></b>HILL, PAUL ROBERT<b></b>BEASLEY, JONATHAN<b></b>ALLEN, ETHAN SEAN<b></b>WILSON, JOSHUA JESSE<b></b>WATSON, TIMOTHY KYLE<b></b>ADAMS, JONATHAN JOHN<b></b>WRIGHT, HAROLD JUSTIN III<b></b>SPENCER, CHARLES HAROLD</div>
<div class="nm" style="top:609.4px;left:-53px">HILL, MARK<b></b>BRYANT, NICHOLAS CARL<b></b>THOMPSON, TYLER<b></b>EDWARDS, NOAH JR<b></b>WEST, ROGER JASON<b></b>WELLS, KENNETH<b></b>BURKE, CHRISTIAN<b></b>WRIGHT, JAMES<b></b>SHAW, TIMOTHY JOSEPH<b></b>JAMES, NICHOLAS JOSHUA<b></b>JONES, DYLAN<b></b>HAYES, CHRISTIAN<b></b>AGUILAR, ZACHARY III<b></b>MCCARTHY, JOHN JAMES<b></b>ROBERTS, ANTHONY GARY III<b></b>FOSTER, BENJAMIN<b></b>BISHOP, CHRISTOPHER GREGORY<b></b>CRAIG, SAMUEL II<b></b>FARMER, PAUL WALTER<b></b>ARNOLD, SEAN ZACHARY<b></b>HOLMES, STEVEN BENJAMIN III<b></b>BOOKER, GERALD ERIC<b></b>KENNEDY, ADAM<b></b>FISHER, JESSE ANTHONY<b></b>NELSON, ALEXANDER<b></b>CHAVEZ, ETHAN JR<b></b>LONG, PETER JESSE II<b></b>JACKSON, LARRY GEORGE<b></b>BAILEY, MICHAEL<b></b>MORGAN, ROBERT III<b></b>LANE, LARRY THOMAS<b></b>GOMEZ, KEITH</div>
<div class="nm" style="top:618.9px;left:-58px">WALKER, AUSTIN<b></b>COOPER, CHRISTIAN DANIEL<b></b>COOPER, ANTHONY<b></b>WELLS, JACOB<b></b>CLARK, AARON DAVID<b></b>MURPHY, JEFFREY DAVID<b></b>RUSSELL, ANDREW<b></b>WATSON, RYAN JASON JR<b></b>EVANS, JOSEPH CHRISTIAN<b></b>WELLS, TERRY STEPHEN<b></b>WRIGHT, JASON TYLER III<b></b>DIAZ, TIMOTHY LAWRENCE<b></b>TAYLOR, CHRISTIAN II<b></b>ALLEN, ROGER DAVID JR<b></b>COLLINS, ERIC LARRY<b></b>GOMEZ, JEREMY II<b></b>HALL, BRANDON KEITH<b></b>DOYLE, JUSTIN JR<b></b>YOUNG, MARK<b></b>DAVIS, WALTER JR<b></b>SIMMONS, RAYMOND ADAM JR<b></b>WHITE, PATRICK JACK<b></b>ALLEN, JOSEPH GREGORY<b></b>WALKER, HAROLD JOSE<b></b>HAMILTON, BENJAMIN<b></b>HUDSON, MICHAEL<b></b>JOHNSON, ERIC AARON<b></b>ADAMS, ROBERT RICHARD<b></b>JACKSON, HENRY<b></b>BURKE, RYAN<b></b>FISHER, GARY DAVID III<b></b>BURNS, JASON BRIAN</div>
<div class="nm" style="top:628.4px;left:-15px">CALDWELL, LARRY THOMAS<b></b>DANIELS, DANIEL SCOTT<b></b>ADAMS, CARL GREGORY<b></b>BENNETT, MATTHEW STEVEN III<b></b>FOX, DENNIS JASON<b></b>DIXON, STEVEN<b></b>THOMPSON, NICHOLAS GERALD<b></b>FOX, NICHOLAS PATRICK II<b></b>ANDERSON, KENNETH<b></b>WRIGHT, STEVEN III<b></b>TAYLOR, JEREMY<b></b>BLANCHARD, HAROLD FRANK JR<b></b>BARNES, JEFFREY<b></b>SULLIVAN, JEFFREY<b></b>BUTLER, ROGER MATTHEW JR<b></b>STEWART, KEVIN II<b></b>CAMPBELL, RAYMOND<b></b>FISHER, AARON<b></b>DEAN, TERRY DYLAN<b></b>DEAN, LAWRENCE STEVEN<b></b>CAMPBELL, ERIC<b></b>WATSON, SCOTT<b></b>JONES, JOSEPH BENJAMIN III<b></b>BRYANT, LARRY CHRISTOPHER<b></b>WILSON, JESSE<b></b>BEASLEY, GREGORY ANDREW<b></b>GONZALEZ, ADAM RAYMOND III<b></b>FISHER, DENNIS JAMES<b></b>ROSS, JOSEPH STEVEN<b></b>COLE, SCOTT SAMUEL III</div>
<div class="nm" style="top:637.9px;left:-12px">BARNES, ROGER EDWARD JR<b></b>BISHOP, DANIEL JACK<b></b>FISHER, CHRISTOPHER TERRY III<b></b>BANKS, TYLER CARL III<b></b>MOORE, NICHOLAS II<b></b>HAYES, NATHAN TERRY JR<b></b>BOWEN, AUSTIN ADAM<b></b>CHAVEZ, AARON<b></b>PRICE, JOHN RONALD<b></b>GRAY, ROBERT BRIAN<b></b>MITCHELL, DONALD DANIEL<b></b>MILLER, THOMAS II<b></b>BARNES, WILLIAM SAMUEL<b></b>DIAZ, JOHN ROGER JR<b></b>ACEVEDO, ADAM AUSTIN<b></b>GOMEZ, NICHOLAS FRANK II<b></b>ROSS, KYLE<b></b>BURKE, AUSTIN BRIAN II<b></b>MORGAN, TERRY II<b></b>WELLS, GARY BRANDON<b></b>BISHOP, AARON<b></b>HILL, ADAM<b></b>ACEVEDO, ALEXANDER NOAH<b></b>ACEVEDO, AUSTIN JEREMY<b></b>ROBERTS, GREGORY III<b></b>GIBSON, STEVEN JOSEPH<b></b>FISHER, DENNIS JR<b></b>MORGAN, JOSEPH<b></b>GRANT, JESSE SAMUEL<b></b>BEASLEY, LAWRENCE ADAM<b></b>ANDERSON, ALEXANDER JEREMY</div>
<div class="nm" style="top:647.4px;left:-45px">MASON, GEORGE<b></b>WEBB, PATRICK DONALD JR<b></b>GRAHAM, JOHN<b></b>SULLIVAN, DYLAN JR<b></b>WELLS, CHARLES ALEXANDER III<b></b>EDWARDS, DAVID JONATHAN II<b></b>MURPHY, BRIAN JONATHAN<b></b>MARTIN, DYLAN<b></b>GREEN, DANIEL SAMUEL<b></b>FOX, ARTHUR<b></b>BLAIR, ETHAN GEORGE<b></b>SMITH, GARY ARTHUR<b></b>CARR, LARRY WALTER<b></b>DIAZ, ZACHARY NICHOLAS<b></b>JORDAN, KYLE ROGER<b></b>AGUILAR, RICHARD JAMES<b></b>WATSON, ANTHONY BRIAN JR<b></b>BANKS, JOSEPH<b></b>WELLS, GREGORY STEPHEN<b></b>BROOKS, GERALD<b></b>WOOD, JACOB<b></b>GONZALEZ, JOSHUA JUSTIN II<b></b>TURNER, DONALD MARK<b></b>STEWART, ERIC ALEXANDER III<b></b>SHAW, NICHOLAS NATHAN<b></b>MOORE, GREGORY JR<b></b>JONES, JASON BRIAN<b></b>DIXON, FRANK THOMAS<b></b>DANIELS, JEREMY JR<b></b>HUDSON, DENNIS<b></b>ACEVEDO, ROGER JOSEPH III</div>
<div class="nm" style="top:656.9px;left:-39px">CAMPBELL, TYLER II<b></b>BAKER, ANDREW ROBERT<b></b>BOUDREAUX, JONATHAN RYAN III<b></b>WALKER, JAMES JEREMY<b></b>REED, TERRY GERALD<b></b>DAVIS, NATHAN DONALD<b></b>HOLMES, ADAM JR<b></b>BOWEN, NOAH JOSEPH<b></b>BAILEY, AUSTIN GREGORY<b></b>PERRY, SCOTT<b></b>NELSON, KENNETH ETHAN JR<b></b>HOWARD, LARRY WALTER<b></b>MASON, RYAN JOSHUA JR<b></b>BANKS, JONATHAN ARTHUR<b></b>JENKINS, TIMOTHY PETER<b></b>BARNES, THOMAS GREGORY<b></b>EVANS, RYAN JONATHAN<b></b>LANE, ROGER STEPHEN<b></b>RODRIGUEZ, ETHAN BRANDON JR<b></b>MITCHELL, ROBERT JAMES II<b></b>EDWARDS, ZACHARY HAROLD<b></b>CLARK, RYAN JASON<b></b>BOOKER, JUSTIN LARRY II<b></b>JOHNSON, CHARLES JACK<b></b>PRICE, STEVEN DENNIS<b></b>WHITE, DOUGLAS III<b></b>BRYANT, MICHAEL NATHAN<b></b>WARD, PAUL RYAN<b></b>THOMAS, CHARLES STEVEN II</div>
<div class="nm" style="top:666.4px;left:-32px">DIAZ, ROBERT<b></b>EDWARDS, JOSHUA<b></b>BROWN, JUSTIN SCOTT<b></b>LANE, JAMES DANIEL<b></b>MURPHY, JESSE TYLER<b></b>GONZALEZ, RONALD JR<b></b>SMITH, WALTER JOSHUA II<b></b>GONZALEZ, MATTHEW HENRY<b></b>OWENS, ANDREW III<b></b>PORTER, GEORGE NOAH<b></b>MITCHELL, JAMES WILLIAM<b></b>TAYLOR, JUSTIN PATRICK<b></b>MARTIN, JEREMY<b></b>WALLACE, SEAN HENRY II<b></b>KING, WALTER ETHAN<b></b>GARCIA, DENNIS JR<b></b>ALLEN, ANTHONY RAYMOND JR<b></b>BELL, CARL ROGER<b></b>GIBSON, PATRICK<b></b>SPENCER, ADAM<b></b>BEASLEY, JOSHUA<b></b>WEST, KYLE PATRICK II<b></b>TAYLOR, HENRY<b></b>FARMER, JACOB JR<b></b>LONG, SCOTT EDWARD<b></b>WELLS, LAWRENCE<b></b>HUGHES, RYAN ROBERT III<b></b>BURKE, JEFFREY JR<b></b>WATSON, JERRY GARY<b></b>ROSS, LARRY GREGORY<b></b>ROBERTS, TIMOTHY<b></b>FISHER, CHRISTOPHER III</div>
<div class="nm" style="top:675.9px;left:-31px">JONES, PAUL JR<b></b>WEST, JEFFREY<b></b>AGUILAR, KEITH GEORGE<b></b>MOORE, ARTHUR RICHARD III<b></b>BOOKER, SAMUEL<b></b>FORD, DENNIS LAWRENCE<b></b>BOUDREAUX, LAWRENCE TERRY JR<b></b>ANDERSON, NOAH JR<b></b>MITCHELL, JACOB<b></b>ANDERSON, KENNETH ARTHUR<b></b>WALLACE, JASON NICHOLAS<b></b>BENNETT, ANTHONY BENJAMIN III<b></b>EVANS, ZACHARY JACK<b></b>LANE, ALEXANDER III<b></b>DIAZ, JUSTIN LAWRENCE II<b></b>CASEY, PAUL<b></b>MARSHALL, THOMAS JOSHUA<b></b>DUNCAN, AARON JOSEPH<b></b>MITCHELL, WILLIAM II<b></b>KING, CHRISTIAN HAROLD JR<b></b>JORDAN, AARON GERALD<b></b>MCCARTHY, GREGORY AARON<b></b>BUTLER, ALEXANDER<b></b>WALLACE, JEFFREY LAWRENCE<b></b>COLE, JEREMY<b></b>GONZALEZ, ETHAN SCOTT<b></b>HUGHES, TYLER<b></b>TAYLOR, JEREMY TYLER III<b></b>FOX, SCOTT LAWRENCE<b></b>FORD, CHRISTIAN HAROLD</div>
<div class="nm" style="top:685.4px;left:-11px">HARRIS, LARRY RICHARD<b></b>WELLS, PATRICK III<b></b>BRYANT, DONALD WALTER II<b></b>ROBERTS, ANTHONY<b></b>FREEMAN, GERALD<b></b>STEWART, ANTHONY<b></b>SPENCER, KEITH LAWRENCE<b></b>GRANT, EDWARD KENNETH<b></b>COOPER, SEAN<b></b>GIBSON, JESSE FRANK<b></b>PERRY, JEFFREY<b></b>CURTIS, BRIAN<b></b>SULLIVAN, GREGORY JOHN III<b></b>HARRIS, PATRICK JOSEPH<b></b>DIAZ, AARON II<b></b>DUNCAN, MARK<b></b>BRYANT, CHRISTOPHER ETHAN<b></b>BOUDREAUX, MARK JR<b></b>BELL, CHRISTIAN STEVEN JR<b></b>BLAIR, NICHOLAS NICHOLAS<b></b>WOOD, PAUL<b></b>KENNEDY, TIMOTHY RYAN<b></b>SHAW, ROGER PATRICK<b></b>JENKINS, ANDREW KEITH<b></b>BLAIR, JUSTIN PAUL<b></b>JACKSON, PATRICK JR<b></b>COLLINS, SAMUEL ANTHONY JR<b></b>COLE, ZACHARY<b></b>PRICE, BRIAN MATTHEW JR<b></b>BROWN, BRANDON ANTHONY<b></b>PERRY, ADAM HENRY</div>
<div class="nm" style="top:694.9px;left:-55px">SANCHEZ, SEAN<b></b>BLACK, ROBERT<b></b>BENNETT, JOSHUA<b></b>CRAIG, NOAH<b></b>KING, KEVIN<b></b>KELLY, STEPHEN DYLAN III<b></b>SULLIVAN, RICHARD ETHAN<b></b>FRANK, CARL DAVID<b></b>BELL, HENRY RAYMOND<b></b>PORTER, JOHN<b></b>SPENCER, KEITH CHRISTOPHER<b></b>COLE, PATRICK PETER<b></b>EDWARDS, PAUL<b></b>WALKER, GERALD<b></b>WILLIAMS, JACK STEVEN<b></b>BURKE, KEVIN<b></b>BLANCHARD, WALTER FRANK<b></b>GIBSON, NATHAN<b></b>DEAN, NOAH<b></b>WRIGHT, TERRY GEORGE II<b></b>PRICE, GARY JR<b></b>BOOKER, JESSE CHRISTIAN JR<b></b>ADAMS, ANTHONY II<b></b>JENKINS, AARON RICHARD JR<b></b>BURNS, TYLER<b></b>LANE, ANDREW BENJAMIN<b></b>YOUNG, NOAH SAMUEL<b></b>CURTIS, JEREMY RICHARD<b></b>HUDSON, JOSE KEITH<b></b>COLLINS, JOHN JACK JR<b></b>MARTIN, FRANK<b></b>THOMAS, NICHOLAS RAYMOND<b></b>NELSON, JESSE NOAH</div>
<div class="nm" style="top:704.4px;left:-50px">SANCHEZ, BENJAMIN LAWRENCE II<b></b>RODRIGUEZ, JOSHUA<b></b>BLAIR, GARY<b></b>HOLMES, BENJAMIN<b></b>NELSON, ERIC JESSE<b></b>RODRIGUEZ, STEVEN<b></b>RUSSELL, ROGER<b></b>FARMER, JUSTIN AUSTIN II<b></b>PRICE, CARL<b></b>WALKER, FRANK<b></b>BOUDREAUX, ALEXANDER DYLAN<b></b>PARKER, RAYMOND<b></b>FRANK, AARON JEREMY JR<b></b>HUGHES, FRANK III<b></b>KENNEDY, MATTHEW DYLAN<b></b>ANDERSON, JOSE JR<b></b>SMITH, DOUGLAS ARTHUR<b></b>BAKER, GREGORY<b></b>DAVIS, THOMAS JEFFREY<b></b>GRANT, HENRY RICHARD<b></b>ANDERSON, ARTHUR NICHOLAS II<b></b>REYES, BRIAN GEORGE<b></b>MITCHELL, DOUGLAS JACOB JR<b></b>HILL, KEITH BRIAN<b></b>BLAIR, RYAN II<b></b>BENNETT, PATRICK JOSHUA<b></b>HOLMES, RYAN TERRY III<b></b>FOSTER, JOSE<b></b>LANE, JOSEPH CHARLES<b></b>PORTER, KYLE AUSTIN<b></b>JORDAN, KENNETH KYLE III</div>
<div class="nm" style="top:713.9px;left:-56px">SULLIVAN, MARK<b></b>WALKER, CHARLES GEORGE JR<b></b>HOLMES, NOAH II<b></b>SANCHEZ, JOSE<b></b>FARMER, NICHOLAS II<b></b>WEBB, DOUGLAS MICHAEL<b></b>BANKS, AARON GERALD III<b></b>ADAMS, BRANDON GERALD II<b></b>BOOKER, DAVID<b></b>CASEY, LAWRENCE III<b></b>PERRY, KYLE II<b></b>ELLIS, DOUGLAS<b></b>ARNOLD, HENRY JEFFREY<b></b>JACKSON, JAMES JEREMY<b></b>CARTER, ANTHONY NICHOLAS III<b></b>MITCHELL, THOMAS MATTHEW II<b></b>HOLMES, THOMAS JEFFREY<b></b>SHAW, TYLER<b></b>BISHOP, STEVEN<b></b>GARCIA, ADAM<b></b>HILL, DAVID RAYMOND III<b></b>RICHARDS, TYLER JACOB II<b></b>MARSHALL, KEVIN PATRICK III<b></b>NELSON, BRIAN ZACHARY<b></b>MURPHY, CHRISTIAN JR<b></b>MASON, RONALD JEFFREY<b></b>PRICE, PAUL DAVID<b></b>SHAW, RYAN SAMUEL<b></b>WILLIAMS, DONALD<b></b>PHILLIPS, FRANK JR<b></b>SHAW, DYLAN DAVID</div>
<div class="nm" style="top:723.4px;left:-33px">FREEMAN, RAYMOND KYLE JR<b></b>CURTIS, ROBERT NICHOLAS JR<b></b>MITCHELL, JUSTIN JR<b></b>ROBERTS, JAMES JOHN II<b></b>WALLACE, KYLE<b></b>BARNES, ANTHONY II<b></b>BLAIR, JEREMY WALTER<b></b>WRIGHT, JEFFREY<b></b>GREEN, NATHAN JUSTIN<b></b>SHAW, JUSTIN MICHAEL<b></b>HUDSON, WALTER<b></b>BOOKER, KYLE III<b></b>RUSSELL, ANTHONY III<b></b>BURKE, ALEXANDER WALTER<b></b>BUTLER, KYLE<b></b>FARMER, AARON KYLE<b></b>WILLIAMS, KYLE III<b></b>SANCHEZ, FRANK GEORGE<b></b>BISHOP, NOAH MARK III<b></b>BENNETT, FRANK<b></b>BEASLEY, DENNIS MATTHEW<b></b>RICHARDS, DOUGLAS ANTHONY<b></b>MORGAN, FRANK<b></b>DEAN, ERIC JESSE II<b></b>GRIFFIN, EDWARD RONALD<b></b>CURTIS, JEFFREY LAWRENCE<b></b>DANIELS, JONATHAN JOSEPH JR<b></b>WILLIAMS, GARY JOSEPH II<b></b>WOOD, MARK DENNIS<b></b>DANIELS, SCOTT JR</div>
<div class="nm" style="top:732.9px;left:-44px">DIXON, HAROLD JERRY<b></b>HARRIS, NATHAN<b></b>GARCIA, LARRY RYAN<b></b>HUDSON, CHRISTIAN WALTER<b></b>LEWIS, JACK<b></b>SIMMONS, MICHAEL III<b></b>BLANCHARD, NOAH<b></b>BAILEY, AARON TYLER JR<b></b>MCCARTHY, BENJAMIN III<b></b>THOMPSON, MARK<b></b>GRANT, JOSHUA JR<b></b>WRIGHT, DOUGLAS<b></b>JONES, ZACHARY<b></b>KELLY, ROGER FRANK<b></b>MOORE, ADAM SEAN JR<b></b>PORTER, EDWARD PATRICK II<b></b>LONG, JOHN KYLE III<b></b>WALLACE, RONALD<b></b>BOUDREAUX, STEVEN GERALD<b></b>SPENCER, CHRISTIAN BENJAMIN<b></b>RICHARDS, ADAM NATHAN<b></b>GOMEZ, KYLE III<b></b>BANKS, PATRICK GERALD II<b></b>GRAY, ADAM AUSTIN III<b></b>YOUNG, ANTHONY<b></b>GRAY, NICHOLAS<b></b>HUGHES, DYLAN WILLIAM<b></b>HALL, NOAH BRANDON<b></b>BOUDREAUX, GEORGE<b></b>ROBERTS, THOMAS RAYMOND JR<b></b>CALDWELL, JUSTIN</div>
<div class="nm" style="top:742.4px;left:-41px">FLORES, ANDREW RYAN<b></b>GREEN, JACOB TERRY III<b></b>DOYLE, KEITH<b></b>GRAY, TIMOTHY JR<b></b>CASEY, SEAN<b></b>LEWIS, NATHAN RYAN III<b></b>MCCARTHY, JEREMY GARY<b></b>WEBB, DOUGLAS JACOB<b></b>BAKER, NATHAN JR<b></b>REYES, ERIC ETHAN<b></b>DAVIS, ROBERT SAMUEL<b></b>JOHNSON, HENRY CARL<b></b>DANIELS, CHARLES STEPHEN JR<b></b>GRAY, EDWARD STEVEN JR<b></b>BEASLEY, NOAH MICHAEL<b></b>BACHMAN, ZACHARY PAUL<b></b>FLORES, KEVIN JR<b></b>SULLIVAN, JOSEPH PAUL<b></b>TAYLOR, JACK DAVID<b></b>HOLMES, JOSE ADAM JR<b></b>DIXON, MICHAEL<b></b>MCCARTHY, RYAN SEAN II<b></b>CRAIG, MICHAEL TERRY JR<b></b>ROSS, NATHAN KEVIN<b></b>GOMEZ, LARRY JOSEPH<b></b>RUSSELL, BRIAN<b></b>HOLMES, GARY CHRISTIAN III<b></b>BLANCHARD, ANTHONY ERIC<b></b>EVANS, JOSEPH<b></b>ROSS, STEVEN JUSTIN<b></b>BUTLER, SEAN KYLE</div>
<div class="nm" style="top:751.9px;left:-23px">RODRIGUEZ, CHARLES LAWRENCE<b></b>THOMPSON, LAWRENCE MATTHEW III<b></b>BLACK, DONALD ANDREW III<b></b>WELLS, JESSE<b></b>LEWIS, JOSE LAWRENCE JR<b></b>HILL, TERRY KENNETH II<b></b>CLARK, ADAM III<b></b>MILLER, JACK JR<b></b>BAILEY, ADAM<b></b>WILLIAMS, MICHAEL EDWARD<b></b>LONG, PAUL CARL<b></b>ROBERTS, JOSEPH GARY JR<b></b>FARMER, RONALD<b></b>BACHMAN, RAYMOND JR<b></b>MOORE, LARRY JESSE<b></b>JACKSON, JEREMY SCOTT<b></b>FOSTER, DOUGLAS<b></b>MURPHY, DONALD NOAH<b></b>BLANCHARD, RICHARD<b></b>CLARK, DAVID STEPHEN III<b></b>CALDWELL, JEFFREY II<b></b>BROWN, BRANDON II<b></b>CAMPBELL, JAMES ZACHARY III<b></b>OWENS, RAYMOND JESSE<b></b>HUDSON, PAUL<b></b>POWELL, PETER<b></b>SCOTT, GREGORY KEVIN<b></b>HUDSON, JESSE<b></b>EVANS, CHARLES SCOTT<b></b>ADAMS, GERALD ZACHARY<b></b>BALDWIN, STEPHEN DOUGLAS III</div>
<div class="nm" style="top:761.4px;left:-25px">JENKINS, SCOTT ANTHONY<b></b>FISHER, ANTHONY EDWARD JR<b></b>KING, JASON<b></b>BAILEY, JAMES III<b></b>BARNES, GEORGE MICHAEL<b></b>TURNER, SAMUEL III<b></b>TURNER, JASON PETER<b></b>BISHOP, WALTER CARL<b></b>ROBERTS, CHRISTOPHER JEFFREY<b></b>STEWART, CARL FRANK<b></b>ALLEN, JERRY<b></b>WRIGHT, JASON JONATHAN<b></b>ALVAREZ, DENNIS JR<b></b>MARTIN, BENJAMIN JR<b></b>FORD, JERRY HENRY<b></b>NELSON, RYAN CHARLES III<b></b>BISHOP, KEVIN STEPHEN<b></b>BROOKS, JACK HAROLD III<b></b>BLANCHARD, AUSTIN TERRY II<b></b>YOUNG, CHRISTIAN<b></b>FLORES, JASON THOMAS<b></b>BELL, DAVID DANIEL<b></b>GRIFFIN, KEITH ROBERT JR<b></b>KELLY, DONALD<b></b>DANIELS, JERRY JEFFREY<b></b>BELL, ZACHARY NICHOLAS JR<b></b>BOOKER, JOSE BENJAMIN<b></b>WARD, BENJAMIN<b></b>GOMEZ, SAMUEL JONATHAN<b></b>DOYLE, MATTHEW RAYMOND JR</div>
<div class="nm" style="top:770.9px;left:-13px">BRYANT, KEVIN JASON<b></b>WHITE, JESSE<b></b>JAMES, LARRY JESSE<b></b>WATSON, NATHAN DANIEL<b></b>TAYLOR, TERRY LAWRENCE II<b></b>MURPHY, ETHAN<b></b>KELLY, ALEXANDER RYAN III<b></b>JORDAN, JUSTIN ADAM JR<b></b>EVANS, NATHAN ETHAN III<b></b>CALDWELL, ANTHONY<b></b>HAMILTON, JOSEPH WALTER<b></b>WHITE, JOSE CHARLES<b></b>DANIELS, RICHARD<b></b>SPENCER, ERIC NOAH JR<b></b>MARSHALL, CHRISTOPHER JEFFREY JR<b></b>ALLEN, AARON ERIC JR<b></b>EDWARDS, MICHAEL JERRY III<b></b>GRANT, DANIEL TYLER II<b></b>MASON, MICHAEL KEVIN III<b></b>PARKER, ERIC JEFFREY III<b></b>WILSON, JOSEPH JACOB JR<b></b>GOMEZ, ALEXANDER FRANK<b></b>HARRIS, WALTER<b></b>ANDERSON, DONALD MARK<b></b>PHILLIPS, KEITH JERRY<b></b>SHAW, CHRISTIAN II<b></b>WILLIAMS, KEITH JR<b></b>COOPER, STEPHEN<b></b>WILSON, PATRICK</div>
<div class="nm" style="top:780.4px;left:-38px">HAYES, EDWARD JUSTIN III<b></b>LANE, KEITH DOUGLAS II<b></b>YOUNG, CHRISTIAN JACOB<b></b>CRUZ, ALEXANDER<b></b>GRIFFIN, KENNETH LAWRENCE<b></b>FISHER, ROGER JEREMY<b></b>BROOKS, RYAN<b></b>WILSON, GARY CARL II<b></b>HUDSON, ARTHUR RAYMOND<b></b>BUTLER, WILLIAM<b></b>SHAW, ROGER II<b></b>LANE, RYAN<b></b>FRANK, ZACHARY<b></b>CALDWELL, FRANK DENNIS JR<b></b>HOWARD, ALEXANDER GEORGE III<b></b>COLE, SCOTT II<b></b>YOUNG, KYLE AUSTIN<b></b>DANIELS, BRANDON III<b></b>CALDWELL, LARRY III<b></b>REED, TYLER<b></b>ADAMS, STEPHEN STEPHEN<b></b>LOPEZ, HENRY JOSHUA<b></b>AGUILAR, HAROLD<b></b>HUDSON, MATTHEW JR<b></b>DUNCAN, GARY LAWRENCE III<b></b>WOOD, KYLE MARK<b></b>MASON, DONALD<b></b>CASEY, EDWARD II<b></b>GIBSON, WALTER JR<b></b>POWELL, JERRY KYLE<b></b>JAMES, BRIAN ANTHONY JR<b></b>STEWART, NICHOLAS JR</div>
<div class="nm" style="top:789.9px;left:-40px">REYES, NATHAN II<b></b>PRICE, JEFFREY JOSHUA II<b></b>TURNER, JEFFREY<b></b>WALKER, MARK KEITH<b></b>HENDERSON, DANIEL JR<b></b>LOPEZ, DENNIS II<b></b>GIBSON, GREGORY<b></b>RICHARDS, DOUGLAS CARL III<b></b>LOPEZ, PATRICK II<b></b>WATSON, NATHAN ZACHARY<b></b>ARNOLD, WALTER AUSTIN<b></b>BURNS, NOAH III<b></b>ACEVEDO, HAROLD ADAM<b></b>GRAHAM, JOHN III<b></b>PERRY, PATRICK GREGORY<b></b>HALL, THOMAS<b></b>HUGHES, AARON PETER<b></b>CRUZ, GERALD III<b></b>JACKSON, SAMUEL<b></b>MCCARTHY, MARK DANIEL<b></b>BOUDREAUX, BRIAN SCOTT<b></b>WILLIAMS, DANIEL SCOTT III<b></b>GARCIA, ZACHARY<b></b>DANIELS, DONALD KYLE III<b></b>KING, RYAN RAYMOND<b></b>FORD, SCOTT JR<b></b>BLACK, KENNETH III<b></b>SMITH, FRANK<b></b>BARNES, JAMES ANDREW III<b></b>BRADLEY, THOMAS<b></b>MARTIN, JESSE ANDREW<b></b>COOPER, HAROLD</div>
<div class="nm" style="top:799.4px;left:-8px">SIMMONS, NATHAN GARY III<b></b>REYES, ROBERT<b></b>HUDSON, PAUL ZACHARY II<b></b>PHILLIPS, SCOTT<b></b>BROOKS, JACK JR<b></b>DANIELS, DAVID GEORGE<b></b>BOWEN, KEVIN CHRISTOPHER<b></b>HOWARD, JUSTIN CHRISTIAN<b></b>MARSHALL, TIMOTHY ANTHONY<b></b>GARCIA, JERRY EDWARD III<b></b>SMITH, JAMES RYAN<b></b>COOPER, PETER JR<b></b>MILLER, CHRISTIAN CHRISTIAN JR<b></b>BOWEN, ROGER<b></b>CRAIG, DYLAN CHRISTOPHER II<b></b>KENNEDY, JACOB JAMES<b></b>CALDWELL, JACOB TYLER<b></b>BENNETT, DYLAN<b></b>MASON, NATHAN JR<b></b>ELLIS, DANIEL<b></b>CRAIG, BRIAN CHRISTIAN<b></b>BOWEN, DANIEL AUSTIN<b></b>HOLMES, RAYMOND DONALD<b></b>THOMPSON, THOMAS<b></b>GONZALEZ, AARON TYLER<b></b>HOLMES, KENNETH JR<b></b>OWENS, RICHARD<b></b>THOMPSON, JEFFREY GREGORY<b></b>CALDWELL, PAUL<b></b>DEAN, KENNETH BRANDON</div>
<div class="nm" style="top:808.9px;left:-35px">SHAW, LAWRENCE RYAN JR<b></b>GREEN, ANDREW GARY<b></b>SANCHEZ, BRIAN<b></b>GIBSON, NICHOLAS RYAN<b></b>HARRIS, JUSTIN JOHN<b></b>BISHOP, PAUL<b></b>WEST, ARTHUR<b></b>NELSON, JACK<b></b>BURNS, STEPHEN<b></b>WOOD, CHRISTIAN<b></b>WEBB, CARL III<b></b>WATSON, GERALD WALTER<b></b>FRANK, KYLE DONALD<b></b>THOMAS, PETER<b></b>OWENS, CARL<b></b>WEBB, JOHN ADAM II<b></b>GREEN, TYLER PAUL<b></b>HAMILTON, NATHAN<b></b>RUSSELL, NICHOLAS<b></b>MASON, JOSHUA DOUGLAS<b></b>WALLACE, THOMAS JASON JR<b></b>TAYLOR, BRIAN NOAH<b></b>MILLER, KYLE ANTHONY<b></b>MITCHELL, ARTHUR CHRISTOPHER<b></b>WHITE, DENNIS<b></b>WEST, CHRISTOPHER JOHN<b></b>AGUILAR, JOSE STEPHEN<b></b>FOSTER, ANDREW KENNETH II<b></b>HALL, LAWRENCE ANTHONY<b></b>BURKE, DANIEL<b></b>WARD, SAMUEL ETHAN III<b></b>LONG, DANIEL ZACHARY</div>
<div class="nm" style="top:818.4px;left:-8px">POWELL, JOSHUA<b></b>CLARK, HAROLD<b></b>FOX, ERIC III<b></b>LOPEZ, KEVIN NOAH<b></b>BAILEY, HAROLD AARON<b></b>EDWARDS, JOSEPH<b></b>BAKER, BRANDON<b></b>CLARK, DAVID<b></b>BOUDREAUX, JERRY DOUGLAS<b></b>OWENS, ERIC RONALD<b></b>SMITH, ZACHARY DONALD JR<b></b>MOORE, EDWARD NATHAN<b></b>ROBERTS, JESSE ADAM<b></b>PARKER, ZACHARY JEFFREY<b></b>ROSS, JOHN<b></b>WRIGHT, JOSHUA CHRISTIAN<b></b>FISHER, TIMOTHY II<b></b>FOSTER, LARRY KEITH<b></b>HALL, KENNETH III<b></b>DAVIS, SCOTT SAMUEL<b></b>BRADLEY, TERRY III<b></b>LOPEZ, ERIC<b></b>MURPHY, SCOTT GEORGE II<b></b>REED, RONALD<b></b>CRAIG, LAWRENCE<b></b>SCOTT, THOMAS NICHOLAS<b></b>BOUDREAUX, MICHAEL AUSTIN<b></b>BRADLEY, CHRISTIAN JR<b></b>FRANK, MICHAEL<b></b>MILLER, GEORGE ADAM<b></b>GRIFFIN, LARRY BRIAN<b></b>HOLMES, KENNETH<b></b>MITCHELL, KENNETH</div>
<div class="nm" style="top:827.9px;left:-51px">ALVAREZ, AUSTIN GEORGE<b></b>CALDWELL, RYAN DAVID<b></b>HUGHES, NOAH<b></b>KELLY, KYLE TYLER JR<b></b>GARCIA, JEREMY<b></b>BLAIR, TERRY DYLAN<b></b>BARNES, JASON HAROLD<b></b>FOSTER, THOMAS PAUL III<b></b>STEWART, JOSEPH III<b></b>DOYLE, EDWARD II<b></b>DIXON, FRANK<b></b>MARTIN, BRIAN PAUL<b></b>RUSSELL, ANTHONY<b></b>EVANS, JASON DYLAN<b></b>GRAY, HAROLD<b></b>HENDERSON, FRANK DOUGLAS<b></b>ALLEN, JEFFREY JR<b></b>BLAIR, ANTHONY DONALD<b></b>BRYANT, LARRY III<b></b>DUNCAN, SAMUEL CHRISTOPHER III<b></b>CLARK, SEAN JUSTIN JR<b></b>KELLY, JONATHAN<b></b>FOSTER, JESSE KYLE<b></b>HUDSON, JEFFREY<b></b>WEST, MICHAEL ALEXANDER<b></b>BRADLEY, MICHAEL TIMOTHY<b></b>MCCARTHY, CHRISTOPHER III<b></b>CAMPBELL, FRANK BRANDON<b></b>HALL, WILLIAM NOAH<b></b>HOLMES, RICHARD KEITH II<b></b>HILL, MARK</div>
<div class="nm" style="top:837.4px;left:-47px">DANIELS, TERRY ARTHUR<b></b>BLACK, LARRY<b></b>JONES, ETHAN NOAH<b></b>BLANCHARD, CHRISTIAN KEITH<b></b>TAYLOR, STEVEN GARY<b></b>POWELL, SEAN DENNIS II<b></b>YOUNG, BRIAN DONALD JR<b></b>YOUNG, AARON MICHAEL II<b></b>RUSSELL, ARTHUR JR<b></b>FRANK, SCOTT BRANDON<b></b>FRANK, DYLAN SCOTT<b></b>COLE, KEVIN<b></b>EVANS, GARY FRANK<b></b>STEWART, JOSEPH ROBERT<b></b>HARRIS, KENNETH NICHOLAS<b></b>BALDWIN, JONATHAN DONALD JR<b></b>LOPEZ, MATTHEW ARTHUR<b></b>WEBB, GEORGE JUSTIN<b></b>GARCIA, TIMOTHY<b></b>DANIELS, SAMUEL LARRY<b></b>GRAHAM, KYLE CHRISTIAN JR<b></b>SPENCER, JACK III<b></b>COOPER, MICHAEL III<b></b>WOOD, ANTHONY GERALD II<b></b>SCOTT, ERIC SEAN JR<b></b>SMITH, JAMES DYLAN<b></b>HOWARD, JOHN SCOTT<b></b>PRICE, JERRY JOSHUA<b></b>SHAW, NOAH NICHOLAS<b></b>YOUNG, DANIEL</div>
<div class="nm" style="top:846.9px;left:-44px">BENNETT, RAYMOND II<b></b>LEWIS, CHRISTOPHER JOSE<b></b>DAVIS, KEVIN NICHOLAS<b></b>ROBERTS, ADAM PETER<b></b>MASON, BENJAMIN RICHARD II<b></b>WARD, DOUGLAS II<b></b>WELLS, DYLAN JOSEPH<b></b>LOPEZ, LARRY GERALD<b></b>THOMPSON, STEVEN<b></b>BOWEN, CHRISTIAN SAMUEL JR<b></b>MCCARTHY, JONATHAN CHARLES II<b></b>CALDWELL, ANDREW NOAH<b></b>PERRY, MATTHEW JAMES<b></b>BEASLEY, SAMUEL III<b></b>BANKS, GREGORY JR<b></b>BLAIR, MARK NOAH<b></b>FREEMAN, KENNETH PATRICK<b></b>HAMILTON, GERALD GEORGE III<b></b>FREEMAN, JACOB TIMOTHY<b></b>GRAHAM, ADAM DOUGLAS<b></b>GRIFFIN, ETHAN ADAM<b></b>ELLIS, RAYMOND DANIEL II<b></b>ALLEN, JASON<b></b>KENNEDY, ETHAN BRANDON JR<b></b>BEASLEY, HENRY NOAH<b></b>MCCARTHY, KENNETH ROGER<b></b>ROBERTS, FRANK KEVIN<b></b>CAMPBELL, CHRISTIAN HAROLD<b></b>SPENCER, SAMUEL DAVID</div>
<div class="nm" style="top:856.4px;left:-21px">MORGAN, JACK<b></b>BUTLER, RONALD NICHOLAS II<b></b>GRAY, DAVID<b></b>FARMER, JEFFREY JACOB<b></b>THOMPSON, JONATHAN ADAM<b></b>GRAHAM, RICHARD TIMOTHY III<b></b>BAILEY, PAUL<b></b>REYES, STEPHEN<b></b>HALL, ALEXANDER II<b></b>FLORES, ETHAN<b></b>GRAY, CHRISTIAN BRIAN II<b></b>FOX, KEITH JEFFREY<b></b>OWENS, SCOTT DENNIS II<b></b>SIMMONS, KEITH DENNIS<b></b>NELSON, TERRY<b></b>PORTER, KYLE TIMOTHY<b></b>BAILEY, JAMES ANDREW<b></b>MCCARTHY, JEFFREY LAWRENCE JR<b></b>BRYANT, NATHAN RAYMOND<b></b>GRAY, DENNIS SEAN III<b></b>GRANT, JUSTIN JOHN II<b></b>DIXON, ERIC ANDREW<b></b>ARNOLD, JERRY II<b></b>DEAN, DENNIS<b></b>BENNETT, ARTHUR<b></b>HUDSON, DYLAN SCOTT<b></b>MARSHALL, JOHN JUSTIN<b></b>BLAIR, WILLIAM<b></b>FLORES, HENRY STEPHEN<b></b>REED, KYLE III<b></b>ALVAREZ, BRIAN<b></b>HALL, DONALD DONALD III</div>
<div class="nm" style="top:865.9px;left:-24px">GOMEZ, BRANDON BRANDON<b></b>CARTER, ALEXANDER THOMAS III<b></b>ANDERSON, BRANDON FRANK<b></b>GRIFFIN, ZACHARY II<b></b>OWENS, KEVIN RICHARD<b></b>SULLIVAN, MICHAEL III<b></b>CARTER, DOUGLAS JOSHUA<b></b>BROOKS, TIMOTHY III<b></b>HAMILTON, TERRY<b></b>JORDAN, RONALD CHRISTOPHER<b></b>WALLACE, THOMAS WALTER<b></b>SHAW, CHRISTIAN DANIEL<b></b>WATSON, DENNIS LAWRENCE<b></b>JONES, ALEXANDER II<b></b>BOUDREAUX, STEVEN FRANK II<b></b>BOUDREAUX, RONALD<b></b>CALDWELL, MATTHEW RONALD<b></b>MILLER, DYLAN RONALD<b></b>WHITE, TIMOTHY JOHN<b></b>SANCHEZ, RONALD KEVIN<b></b>TURNER, GREGORY FRANK<b></b>FARMER, KEITH<b></b>WILLIAMS, MATTHEW STEVEN<b></b>COOPER, JACOB ADAM II<b></b>FOSTER, HENRY NICHOLAS JR<b></b>PHILLIPS, ERIC JERRY<b></b>JENKINS, CHRISTOPHER JOSE<b></b>HALL, SEAN JR</div>
<div class="nm" style="top:875.4px;left:-24px">ALVAREZ, GEORGE JUSTIN JR<b></b>BISHOP, NATHAN AARON<b></b>SULLIVAN, JACK PAUL II<b></b>WARD, AUSTIN PETER II<b></b>ARNOLD, JASON HAROLD II<b></b>JORDAN, DAVID SAMUEL<b></b>MILLER, ANTHONY STEVEN<b></b>FOSTER, GERALD CHRISTOPHER<b></b>WEST, JACK JR<b></b>GRIFFIN, JEFFREY II<b></b>HAYES, JEREMY<b></b>GIBSON, ALEXANDER III<b></b>EDWARDS, HAROLD WILLIAM<b></b>GONZALEZ, ZACHARY DONALD III<b></b>JACKSON, JONATHAN DONALD<b></b>PORTER, ARTHUR<b></b>WRIGHT, ROBERT<b></b>THOMAS, DAVID<b></b>LEWIS, LAWRENCE ARTHUR<b></b>MORGAN, LAWRENCE<b></b>RICHARDS, BENJAMIN JEREMY<b></b>JONES, JERRY DYLAN<b></b>HAMILTON, ROBERT ALEXANDER<b></b>BALDWIN, MATTHEW STEVEN III<b></b>CRAIG, ERIC JAMES<b></b>WHITE, JOSHUA BENJAMIN<b></b>CALDWELL, RONALD JERRY<b></b>DAVIS, CHRISTOPHER ROGER<b></b>HARRIS, TIMOTHY FRANK</div>
<div class="nm" style="top:884.9px;left:-4px">PRICE, PETER GREGORY<b></b>GARCIA, WALTER TYLER<b></b>JACKSON, WILLIAM TIMOTHY II<b></b>REED, RYAN<b></b>EVANS, FRANK JR<b></b>JOHNSON, THOMAS CHARLES<b></b>SULLIVAN, KEVIN JONATHAN<b></b>GIBSON, CHRISTIAN CHRISTIAN<b></b>ELLIS, JOSHUA ZACHARY JR<b></b>FLORES, JOHN CARL<b></b>CURTIS, SAMUEL<b></b>FOSTER, ETHAN WILLIAM III<b></b>MCCARTHY, MARK WALTER<b></b>BROOKS, RICHARD II<b></b>LOPEZ, SEAN NOAH<b></b>EVANS, TYLER JOSE<b></b>YOUNG, HAROLD JAMES<b></b>GARCIA, ARTHUR II<b></b>YOUNG, JONATHAN CHARLES JR<b></b>SPENCER, SAMUEL DYLAN<b></b>MOORE, TYLER TIMOTHY III<b></b>KING, STEVEN JR<b></b>BOOKER, ERIC AARON<b></b>MCCARTHY, ZACHARY<b></b>BEASLEY, RYAN<b></b>CHAVEZ, SEAN CARL<b></b>SIMMONS, FRANK ARTHUR<b></b>LEWIS, JUSTIN<b></b>BOWEN, BRANDON NOAH II<b></b>CRUZ, NOAH DONALD II</div>
<div class="nm" style="top:894.4px;left:-45px">HENDERSON, ERIC<b></b>ALVAREZ, JACOB ETHAN<b></b>BACHMAN, GARY<b></b>GRAY, NATHAN CHRISTIAN JR<b></b>NELSON, HAROLD II<b></b>DOYLE, CHARLES NOAH<b></b>FORD, DOUGLAS CHRISTOPHER<b></b>KING, ROBERT ROGER III<b></b>CURTIS, CHRISTOPHER<b></b>CRAIG, RONALD ALEXANDER<b></b>BANKS, WILLIAM AARON<b></b>MILLER, WALTER<b></b>ANDERSON, KENNETH CARL JR<b></b>WRIGHT, CHARLES ADAM<b></b>HUDSON, WALTER<b></b>TAYLOR, ALEXANDER<b></b>HOLMES, GEORGE RICHARD<b></b>BRYANT, MARK<b></b>DANIELS, DENNIS GERALD<b></b>JONES, NOAH III<b></b>HENDERSON, JOHN JR<b></b>MILLER, DANIEL LAWRENCE JR<b></b>BLANCHARD, AUSTIN<b></b>WALLACE, ZACHARY<b></b>LEWIS, GARY JOHN II<b></b>HUDSON, MARK DYLAN<b></b>WHITE, MARK JEREMY<b></b>LOPEZ, SCOTT<b></b>RUSSELL, AUSTIN HENRY<b></b>STEWART, AUSTIN JR<b></b>BURKE, ROGER PETER</div>
<div class="nm" style="top:903.9px;left:-37px">OWENS, BRIAN LAWRENCE JR<b></b>MILLER, STEVEN II<b></b>SIMMONS, DENNIS JASON<b></b>COOPER, JACK ROGER JR<b></b>ANDERSON, PATRICK<b></b>FRANK, JEFFREY<b></b>BENNETT, ROGER NICHOLAS II<b></b>ANDERSON, PETER ERIC III<b></b>WILSON, DONALD JR<b></b>MARTIN, JEFFREY JEREMY III<b></b>DIXON, JUSTIN JEFFREY<b></b>HARRIS, PAUL KEVIN<b></b>FOX, ANTHONY JOHN<b></b>CARR, JACK III<b></b>FLORES, JONATHAN NATHAN II<b></b>ANDERSON, ARTHUR III<b></b>GRAHAM, JACOB<b></b>CURTIS, ARTHUR BENJAMIN<b></b>GREEN, ANTHONY DAVID<b></b>ALLEN, JACOB KEITH<b></b>LONG, TIMOTHY JOSEPH<b></b>FRANK, BRANDON<b></b>DIAZ, TIMOTHY BENJAMIN III<b></b>OWENS, TYLER DONALD<b></b>TURNER, DANIEL SAMUEL II<b></b>EVANS, CHRISTIAN ZACHARY JR<b></b>WATSON, HENRY TIMOTHY<b></b>KENNEDY, GREGORY<b></b>CAMPBELL, RONALD MATTHEW</div>
<div class="nm" style="top:913.4px;left:-26px">FOSTER, TIMOTHY GEORGE<b></b>ARNOLD, PETER<b></b>BURKE, ANDREW MATTHEW<b></b>JAMES, ANDREW WILLIAM III<b></b>LONG, DONALD<b></b>EDWARDS, CHRISTOPHER SCOTT<b></b>MORGAN, GREGORY FRANK III<b></b>TURNER, CHARLES ADAM II<b></b>HAYES, BRANDON PATRICK<b></b>WEST, DANIEL JR<b></b>JONES, CHRISTIAN ETHAN<b></b>LOPEZ, HENRY III<b></b>YOUNG, BENJAMIN NOAH<b></b>BLAIR, JOSHUA III<b></b>LEWIS, JASON LAWRENCE<b></b>ADAMS, JOSHUA<b></b>BOUDREAUX, BENJAMIN FRANK<b></b>COLLINS, JONATHAN ERIC II<b></b>WEST, JOSEPH II<b></b>MARTIN, NATHAN DAVID III<b></b>FRANK, JOSHUA KYLE<b></b>RUSSELL, BRIAN RAYMOND<b></b>BLANCHARD, BENJAMIN III<b></b>REED, CHRISTIAN ANTHONY JR<b></b>FOX, DONALD<b></b>ARNOLD, BRANDON<b></b>SCOTT, EDWARD III<b></b>SHAW, JOSHUA<b></b>SCOTT, KEVIN KEITH<b></b>FARMER, DAVID STEVEN II</div>
<div class="nm" style="top:922.9px;left:-17px">HAMILTON, ANTHONY III<b></b>JOHNSON, JOSHUA KEVIN<b></b>DOYLE, HENRY<b></b>ARNOLD, HAROLD GERALD<b></b>WEST, AUSTIN KYLE<b></b>BOOKER, AARON II<b></b>GOMEZ, GREGORY III<b></b>MARSHALL, BENJAMIN<b></b>EDWARDS, ANTHONY<b></b>BAILEY, THOMAS ALEXANDER<b></b>MASON, ALEXANDER<b></b>HAMILTON, JOSHUA BRIAN II<b></b>HENDERSON, ANDREW III<b></b>LEWIS, LAWRENCE ADAM III<b></b>AGUILAR, KEVIN SAMUEL<b></b>GRAY, TYLER III<b></b>ARNOLD, HENRY<b></b>WALKER, JOSHUA DENNIS<b></b>LEWIS, ANDREW<b></b>BALDWIN, CHRISTIAN SCOTT III<b></b>THOMAS, MARK<b></b>RUSSELL, CARL JUSTIN II<b></b>HOWARD, TYLER RYAN<b></b>WILLIAMS, NICHOLAS ROBERT<b></b>CLARK, CHARLES TIMOTHY III<b></b>FARMER, NOAH BENJAMIN II<b></b>MITCHELL, NATHAN CHRISTOPHER III<b></b>RUSSELL, GARY<b></b>FLORES, GERALD GERALD<b></b>HOWARD, KYLE AARON II</div>
<div class="nm" style="top:932.4px;left:-43px">BOOKER, RAYMOND JR<b></b>BELL, TYLER STEPHEN<b></b>BENNETT, BRANDON NATHAN<b></b>WHITE, SCOTT JONATHAN<b></b>SULLIVAN, BRANDON DENNIS<b></b>CRAIG, CARL II<b></b>BURKE, ANTHONY GARY<b></b>JOHNSON, JONATHAN JESSE III<b></b>BENNETT, ROBERT<b></b>FRANK, RYAN<b></b>MORGAN, KENNETH KEVIN<b></b>WEBB, CHRISTOPHER<b></b>YOUNG, DAVID<b></b>THOMAS, NOAH BENJAMIN<b></b>BROOKS, RYAN III<b></b>BLANCHARD, MATTHEW JR<b></b>FORD, NATHAN KEITH<b></b>DUNCAN, LARRY JEFFREY<b></b>FORD, GARY<b></b>CLARK, RICHARD THOMAS<b></b>DAVIS, JOSEPH<b></b>ADAMS, JOHN CHRISTOPHER<b></b>RICHARDS, RICHARD EDWARD<b></b>CASEY, DAVID<b></b>BOWEN, STEVEN III<b></b>HOLMES, ZACHARY ROBERT III<b></b>COLE, NATHAN JERRY JR<b></b>BROOKS, SCOTT CARL<b></b>GRIFFIN, ROBERT DYLAN II<b></b>PERRY, KEVIN PETER II<b></b>WALKER, PAUL</div>
<div class="nm" style="top:941.9px;left:-38px">BRADLEY, PAUL THOMAS<b></b>JACKSON, ANTHONY<b></b>WOOD, RYAN KEITH<b></b>HOLMES, JACOB ANTHONY JR<b></b>ANDERSON, ANTHONY LAWRENCE II<b></b>BOUDREAUX, EDWARD<b></b>REYES, HAROLD KEITH II<b></b>OWENS, JOSEPH RICHARD<b></b>FOX, HAROLD JERRY II<b></b>DOYLE, GEORGE SCOTT<b></b>NELSON, BENJAMIN WALTER<b></b>SANCHEZ, DAVID PAUL<b></b>RODRIGUEZ, JOSEPH JASON II<b></b>MARSHALL, ADAM KENNETH<b></b>ROBERTS, FRANK JR<b></b>MASON, KYLE<b></b>THOMPSON, ETHAN ERIC<b></b>GRAHAM, KEVIN ALEXANDER<b></b>ACEVEDO, AARON STEVEN<b></b>REYES, JACOB ZACHARY II<b></b>HENDERSON, KYLE JR<b></b>FRANK, BRANDON ARTHUR JR<b></b>ACEVEDO, PATRICK<b></b>CHAVEZ, HENRY<b></b>WALKER, WALTER GERALD<b></b>GRAHAM, CHRISTIAN<b></b>GREEN, KEITH<b></b>DUNCAN, JEREMY WALTER<b></b>GIBSON, JACK EDWARD<b></b>HOWARD, HAROLD SEAN</div>
<div class="nm" style="top:951.4px;left:-4px">BOUDREAUX, KENNETH JERRY<b></b>GREEN, DAVID<b></b>HOLMES, ARTHUR<b></b>WILSON, ROGER<b></b>POWELL, MICHAEL II<b></b>BEASLEY, DYLAN<b></b>SULLIVAN, PATRICK JR<b></b>FRANK, PETER RICHARD<b></b>WATSON, ANTHONY SCOTT<b></b>WILSON, ANDREW KEVIN<b></b>STEWART, DYLAN ADAM<b></b>BELL, CARL KENNETH<b></b>COLE, HAROLD GEORGE<b></b>FOSTER, MATTHEW MICHAEL<b></b>JORDAN, BRIAN<b></b>MURPHY, THOMAS<b></b>KING, AARON<b></b>BLAIR, NICHOLAS<b></b>BUTLER, HENRY JR<b></b>ARNOLD, JONATHAN II<b></b>STEWART, MICHAEL JOHN<b></b>HAYES, ETHAN<b></b>DEAN, JOHN LAWRENCE<b></b>BOUDREAUX, ADAM JACK<b></b>KING, KEVIN LAWRENCE III<b></b>CLARK, EDWARD<b></b>SMITH, RAYMOND GEORGE<b></b>BOWEN, MICHAEL FRANK JR<b></b>RUSSELL, DOUGLAS II<b></b>WARD, FRANK III<b></b>TAYLOR, RICHARD JEFFREY JR<b></b>CAMPBELL, NOAH<b></b>JOHNSON, CHARLES III</div>
<div class="nm" style="top:960.9px;left:-29px">GOMEZ, KEVIN<b></b>GONZALEZ, SAMUEL RYAN<b></b>PORTER, NICHOLAS TYLER<b></b>LEWIS, SAMUEL<b></b>ALLEN, PAUL II<b></b>JORDAN, JACK JR<b></b>BURKE, WALTER JR<b></b>GREEN, PAUL PETER<b></b>ELLIS, BENJAMIN<b></b>PERRY, JACOB<b></b>ARNOLD, DYLAN III<b></b>MURPHY, MICHAEL ANDREW<b></b>CARTER, GEORGE II<b></b>GIBSON, JUSTIN GEORGE<b></b>THOMPSON, ARTHUR<b></b>MCCARTHY, RYAN<b></b>ALVAREZ, AUSTIN KEVIN II<b></b>DUNCAN, JOSEPH JOSEPH<b></b>SCOTT, CHRISTIAN MICHAEL<b></b>REED, NICHOLAS JOSEPH<b></b>ROSS, FRANK III<b></b>PARKER, KEVIN<b></b>BURNS, WILLIAM TERRY III<b></b>GOMEZ, RONALD DONALD II<b></b>TURNER, BRIAN JONATHAN<b></b>OWENS, DANIEL STEPHEN III<b></b>MCCARTHY, EDWARD II<b></b>REYES, ROGER<b></b>ROBERTS, NOAH<b></b>FOX, WALTER STEVEN<b></b>TAYLOR, DOUGLAS GERALD<b></b>MITCHELL, ROGER JAMES</div>
<div class="nm" style="top:970.4px;left:-24px">GRANT, GEORGE<b></b>AGUILAR, LARRY II<b></b>CASEY, CHRISTOPHER GREGORY II<b></b>ARNOLD, HENRY JR<b></b>KELLY, JUSTIN II<b></b>DIAZ, STEPHEN ANTHONY II<b></b>FORD, NOAH JOHN<b></b>BACHMAN, JOSEPH JUSTIN<b></b>BOWEN, JUSTIN II<b></b>ELLIS, ERIC BENJAMIN<b></b>CASEY, ZACHARY ALEXANDER<b></b>WARD, ETHAN ETHAN<b></b>BURNS, GARY RONALD<b></b>COOPER, SCOTT EDWARD II<b></b>WOOD, ERIC BRANDON III<b></b>SPENCER, JEREMY JOSEPH II<b></b>DANIELS, ARTHUR JOSHUA<b></b>GRAHAM, KENNETH ROBERT<b></b>BROWN, LAWRENCE III<b></b>MASON, ADAM GEORGE<b></b>OWENS, DENNIS LAWRENCE<b></b>GRIFFIN, GREGORY<b></b>RUSSELL, DOUGLAS JOSHUA<b></b>BELL, PATRICK EDWARD<b></b>BLANCHARD, CHRISTOPHER<b></b>PRICE, CHRISTOPHER GEORGE II<b></b>CRUZ, ALEXANDER JEFFREY II<b></b>BANKS, LARRY JEREMY<b></b>FORD, CHRISTIAN</div>
<div class="nm" style="top:979.9px;left:-11px">NELSON, STEVEN<b></b>MORGAN, JAMES<b></b>KENNEDY, WALTER<b></b>DIXON, KYLE<b></b>SANCHEZ, JONATHAN DANIEL<b></b>FREEMAN, KYLE JR<b></b>SHAW, MICHAEL DYLAN<b></b>JONES, PATRICK II<b></b>ALVAREZ, TIMOTHY ARTHUR II<b></b>GRAHAM, KEVIN WILLIAM<b></b>FREEMAN, JASON STEPHEN<b></b>HALL, WILLIAM HENRY<b></b>WRIGHT, FRANK<b></b>MARTIN, NATHAN JOSHUA<b></b>SHAW, TYLER JOSHUA III<b></b>GONZALEZ, DYLAN<b></b>CLARK, THOMAS JOSE<b></b>BARNES, NICHOLAS ROBERT<b></b>TAYLOR, LARRY PAUL<b></b>TURNER, JACK BENJAMIN<b></b>WILLIAMS, JACK DAVID<b></b>OWENS, SAMUEL JR<b></b>CHAVEZ, JOSEPH JOSEPH<b></b>CRAIG, RAYMOND KENNETH<b></b>BLACK, DAVID STEPHEN<b></b>FARMER, CHARLES<b></b>GONZALEZ, SAMUEL RYAN JR<b></b>FOX, ALEXANDER RAYMOND<b></b>TAYLOR, GERALD DANIEL JR<b></b>SANCHEZ, TIMOTHY JESSE<b></b>WELLS, CARL III</div>
<div class="nm" style="top:989.4px;left:-19px">BLANCHARD, JACK GEORGE<b></b>FARMER, JUSTIN CHRISTOPHER<b></b>CAMPBELL, RICHARD ALEXANDER<b></b>BROWN, DAVID KYLE<b></b>JOHNSON, BRIAN CARL<b></b>GREEN, JEFFREY JR<b></b>DEAN, THOMAS TYLER II<b></b>PERRY, CHRISTOPHER<b></b>MILLER, JOSEPH<b></b>WELLS, HAROLD GARY<b></b>BARNES, TYLER SCOTT JR<b></b>WOOD, ANTHONY ANDREW<b></b>BLACK, DAVID<b></b>NELSON, RONALD SAMUEL<b></b>PORTER, SEAN<b></b>LONG, KEVIN SEAN<b></b>PHILLIPS, NICHOLAS CHARLES III<b></b>KENNEDY, RYAN JR<b></b>PORTER, JACOB JR<b></b>GRIFFIN, ROBERT STEPHEN III<b></b>JACKSON, FRANK NICHOLAS<b></b>ROSS, JOSEPH ERIC JR<b></b>RODRIGUEZ, JACK HENRY<b></b>CAMPBELL, SCOTT ROGER<b></b>BAILEY, JOSEPH<b></b>ROBERTS, CHRISTOPHER PATRICK<b></b>FORD, CARL II<b></b>BANKS, DYLAN WALTER<b></b>GOMEZ, AARON JR<b></b>ROSS, LAWRENCE TIMOTHY III</div>
<div class="nm" style="top:998.9px;left:-8px">CALDWELL, RONALD JR<b></b>LOPEZ, BRIAN<b></b>LONG, HENRY JACK<b></b>HENDERSON, RONALD WILLIAM II<b></b>TURNER, NATHAN<b></b>CRUZ, KYLE EDWARD<b></b>GONZALEZ, JESSE II<b></b>MARTIN, RICHARD ROBERT<b></b>THOMAS, JOSHUA ROGER III<b></b>REYES, KENNETH<b></b>BALDWIN, RICHARD SAMUEL<b></b>MCCARTHY, JEFFREY KENNETH<b></b>ALLEN, PAUL<b></b>DANIELS, LARRY JR<b></b>BEASLEY, SCOTT<b></b>MILLER, AUSTIN FRANK<b></b>KENNEDY, CHRISTOPHER CHRISTIAN<b></b>ANDERSON, CHRISTIAN PAUL III<b></b>HUGHES, KEVIN JEFFREY<b></b>GARCIA, NOAH JOHN<b></b>GRAHAM, NICHOLAS RICHARD<b></b>CRAIG, EDWARD DANIEL<b></b>DAVIS, ROGER<b></b>GIBSON, MARK ROGER II<b></b>WARD, JOSE<b></b>POWELL, JOHN KEVIN<b></b>LOPEZ, DENNIS PAUL JR<b></b>THOMAS, CHRISTOPHER<b></b>ALVAREZ, ZACHARY<b></b>DIXON, RYAN AARON JR<b></b>DEAN, KEITH DOUGLAS</div>
<div class="nm" style="top:1008.4px;left:-15px">THOMPSON, GERALD JR<b></b>TURNER, TYLER<b></b>RODRIGUEZ, SEAN ETHAN<b></b>SPENCER, TIMOTHY CHRISTOPHER II<b></b>CARTER, CHRISTIAN<b></b>MCCARTHY, CHARLES JONATHAN<b></b>PHILLIPS, LAWRENCE WILLIAM III<b></b>CLARK, RONALD CHRISTOPHER<b></b>ADAMS, JOSEPH DAVID JR<b></b>BELL, ERIC DENNIS<b></b>KENNEDY, DONALD JR<b></b>BACHMAN, ALEXANDER<b></b>OWENS, STEPHEN III<b></b>SMITH, JOSE WILLIAM<b></b>BRYANT, JEFFREY JAMES<b></b>KING, ANDREW RICHARD III<b></b>BEASLEY, AARON<b></b>FOX, JERRY RONALD II<b></b>ARNOLD, AARON JEFFREY<b></b>JACKSON, TYLER THOMAS<b></b>BURNS, ALEXANDER DENNIS<b></b>TAYLOR, JERRY<b></b>TAYLOR, TERRY AARON<b></b>CRAIG, JEREMY<b></b>MURPHY, BRIAN STEPHEN JR<b></b>WATSON, JOHN<b></b>SPENCER, DANIEL II<b></b>THOMAS, ROGER<b></b>GONZALEZ, JERRY JR<b></b>CARR, SCOTT II</div>
<div class="nm" style="top:1017.9px;left:-12px">GARCIA, NICHOLAS GARY<b></b>ROSS, ROGER<b></b>CRAIG, KENNETH BRANDON<b></b>MOORE, GARY DYLAN III<b></b>ROBERTS, JOSHUA SEAN<b></b>GRAY, RAYMOND<b></b>PHILLIPS, JASON<b></b>CLARK, KEVIN JR<b></b>TURNER, JOHN<b></b>BAKER, STEPHEN<b></b>JOHNSON, JEFFREY DONALD III<b></b>CALDWELL, ERIC JOHN<b></b>SIMMONS, KEITH JR<b></b>LANE, GERALD<b></b>HILL, MATTHEW EDWARD<b></b>MCCARTHY, ADAM DANIEL<b></b>THOMAS, ALEXANDER KEITH<b></b>MCCARTHY, JASON PAUL II<b></b>CALDWELL, HENRY JR<b></b>CAMPBELL, KEVIN AARON<b></b>BUTLER, CHRISTOPHER<b></b>BURNS, KENNETH TERRY III<b></b>DIXON, SAMUEL JOSE<b></b>FORD, FRANK JAMES<b></b>COLE, ROBERT PETER II<b></b>WATSON, JOSEPH ANDREW<b></b>GREEN, JEREMY NATHAN JR<b></b>LEWIS, LARRY MICHAEL JR<b></b>FLORES, DENNIS TIMOTHY III<b></b>CLARK, NOAH FRANK<b></b>AGUILAR, GEORGE ETHAN III</div>
<div class="nm" style="top:1027.4px;left:-49px">COLLINS, ZACHARY GERALD II<b></b>JORDAN, PAUL DOUGLAS III<b></b>FORD, EDWARD JOSHUA JR<b></b>ROBERTS, DENNIS<b></b>WOOD, MATTHEW<b></b>CARR, LARRY JACOB<b></b>GARCIA, JEREMY STEPHEN<b></b>BLACK, WALTER NICHOLAS<b></b>FRANK, DENNIS BRANDON<b></b>GRANT, STEVEN<b></b>BURKE, DENNIS<b></b>ROSS, NICHOLAS CHARLES II<b></b>WILSON, GERALD KYLE JR<b></b>ALLEN, PATRICK<b></b>BURKE, ALEXANDER II<b></b>FRANK, GERALD SCOTT<b></b>LEWIS, STEVEN RICHARD II<b></b>BLAIR, ANDREW RAYMOND<b></b>STEWART, HAROLD III<b></b>JORDAN, PATRICK JONATHAN III<b></b>THOMPSON, DONALD NOAH II<b></b>PORTER, HAROLD<b></b>FRANK, CHARLES KEITH JR<b></b>JONES, JAMES BRIAN<b></b>COLE, ZACHARY SCOTT III<b></b>NELSON, MATTHEW RAYMOND<b></b>JONES, JEFFREY ANDREW<b></b>MARSHALL, GARY<b></b>WALLACE, DAVID JESSE III<b></b>GRAHAM, ERIC</div>
<div class="nm" style="top:1036.9px;left:-54px">GONZALEZ, WILLIAM ADAM<b></b>STEWART, CARL TERRY<b></b>DEAN, WALTER<b></b>DAVIS, JESSE JOHN JR<b></b>SHAW, ADAM PATRICK III<b></b>CRAIG, FRANK JR<b></b>THOMPSON, DANIEL MICHAEL<b></b>PHILLIPS, JOSE JR<b></b>MCCARTHY, HAROLD<b></b>BOWEN, RICHARD<b></b>LONG, PATRICK NICHOLAS<b></b>CHAVEZ, JOSE PETER<b></b>ARNOLD, ZACHARY STEPHEN<b></b>HARRIS, BENJAMIN<b></b>BACHMAN, NATHAN TYLER JR<b></b>PHILLIPS, AARON RAYMOND<b></b>BACHMAN, JAMES AUSTIN<b></b>BAKER, JOSHUA<b></b>WARD, PATRICK III<b></b>WOOD, DAVID JR<b></b>COOPER, HAROLD WILLIAM III<b></b>BALDWIN, JASON III<b></b>WEBB, PETER JR<b></b>TURNER, JEREMY NOAH<b></b>BISHOP, KENNETH III<b></b>ALVAREZ, ERIC JUSTIN III<b></b>HARRIS, KEVIN<b></b>WILSON, ARTHUR<b></b>ALVAREZ, ARTHUR BRIAN II<b></b>CAMPBELL, RAYMOND KENNETH III<b></b>CARR, MICHAEL DAVID</div>
<div class="nm" style="top:1046.4px;left:-3px">JORDAN, GEORGE MATTHEW III<b></b>SANCHEZ, TERRY FRANK<b></b>COLE, ROBERT<b></b>FRANK, CARL JR<b></b>JACKSON, FRANK ROGER<b></b>ACEVEDO, AARON ALEXANDER JR<b></b>WATSON, KEITH TERRY<b></b>ARNOLD, RONALD AARON III<b></b>REYES, WILLIAM<b></b>PERRY, WALTER<b></b>HAMILTON, NICHOLAS CARL<b></b>HOWARD, JACOB PAUL<b></b>YOUNG, ERIC<b></b>HENDERSON, NOAH<b></b>EDWARDS, JONATHAN<b></b>BLAIR, JONATHAN CHARLES<b></b>LONG, JERRY ARTHUR JR<b></b>FOX, GREGORY III<b></b>MARSHALL, EDWARD<b></b>THOMPSON, WILLIAM<b></b>HALL, TYLER CARL II<b></b>ALLEN, KEITH MARK<b></b>BUTLER, KYLE JUSTIN II<b></b>CALDWELL, KEVIN JASON<b></b>HOLMES, ANTHONY DOUGLAS<b></b>ALVAREZ, STEVEN JACK<b></b>BUTLER, NATHAN<b></b>MORGAN, BRANDON JOSEPH JR<b></b>REYES, GERALD<b></b>CARR, JESSE JACOB<b></b>CRUZ, ADAM JAMES JR</div>
<div class="dl" style="left:164.8px;top:547.6px;height:364.9px"></div>
<div class="dl" style="left:201.8px;top:652.0px;height:260.5px"></div>
<div class="dl" style="left:333.3px;top:637.0px;height:275.5px"></div>
<div class="dl" style="left:410.1px;top:533.0px;height:379.5px"></div>
<div class="dl" style="left:428.9px;top:118.0px;height:794.5px"></div>
<div class="dl" style="left:466.3px;top:254.0px;height:658.5px"></div>
<div class="dl" style="left:560.1px;top:14.5px;height:898.0px"></div>
<div class="dl" style="left:617.8px;top:449.4px;height:463.1px"></div>
<div class="dl" style="left:822.5px;top:377.3px;height:535.2px"></div>
<div class="dl" style="left:785.2px;top:476.0px;height:436.5px"></div>
<div class="dl" style="left:880.7px;top:251.0px;height:661.5px"></div>
<div class="dl" style="left:917.8px;top:398.3px;height:514.2px"></div>
<div class="dl" style="left:1066.9px;top:169.0px;height:743.5px"></div>
<div class="dl" style="left:1106.7px;top:193.3px;height:719.2px"></div>
<div class="dl" style="left:1162.9px;top:284.3px;height:628.2px"></div>
<div class="dl" style="left:1199.8px;top:362.0px;height:550.5px"></div>
<div class="dl" style="left:1311.0px;top:501.4px;height:411.1px"></div>
<div class="dl" style="left:1536.4px;top:630.0px;height:282.5px"></div>
<div class="r" style="left:158.96px;top:782.20px;width:2.60px;height:79.80px;background:#d5d66c;"></div>
<div class="r" style="left:158.96px;top:862.00px;width:2.60px;height:4.00px;background:#1f4b3a;"></div>
<div class="r" style="left:158.96px;top:866.00px;width:2.60px;height:46.50px;background:#3aa7db;"></div>
<div class="r" style="left:161.46px;top:782.20px;width:4.20px;height:130.30px;background:#b9b9b9;"></div>
<div class="r" style="left:165.66px;top:819.70px;width:6.70px;height:92.80px;background:#173c5e;"></div>
<div class="r" style="left:162.96px;top:773.20px;width:0.80px;height:9.00px;background:#8f8f8f;"></div>
<div class="r" style="left:168.46px;top:810.70px;width:0.80px;height:9.00px;background:#8f8f8f;"></div>
<div class="vl" style="left:166.2px;top:764.2px">225</div>
<div class="vl" style="left:171.7px;top:801.7px">92</div>
<div class="st" style="left:167.6px;top:796.7px"></div>
<div class="bk" style="left:158.2px"><i></i><u></u><s></s></div>
<div class="r" style="left:177.64px;top:704.00px;width:2.60px;height:85.00px;background:#d5d66c;"></div>
<div class="r" style="left:177.64px;top:789.00px;width:2.60px;height:3.00px;background:#1f4b3a;"></div>
<div class="r" style="left:177.64px;top:792.00px;width:2.60px;height:120.50px;background:#3aa7db;"></div>
<div class="r" style="left:180.14px;top:704.00px;width:4.20px;height:208.50px;background:#b9b9b9;"></div>
<div class="r" style="left:184.34px;top:806.80px;width:6.70px;height:105.70px;background:#173c5e;"></div>
<div class="r" style="left:181.64px;top:695.00px;width:0.80px;height:9.00px;background:#8f8f8f;"></div>
<div class="r" style="left:187.14px;top:797.80px;width:0.80px;height:9.00px;background:#8f8f8f;"></div>
<div class="vl" style="left:184.8px;top:686.0px">361</div>
<div class="vl" style="left:190.3px;top:788.8px">105</div>
<div class="bk" style="left:176.8px"><i></i><u></u><s></s></div>
<div class="r" style="left:196.32px;top:879.00px;width:2.60px;height:33.50px;background:#3aa7db;"></div>
<div class="r" style="left:198.82px;top:879.00px;width:4.20px;height:33.50px;background:#b9b9b9;"></div>
<div class="r" style="left:203.02px;top:858.00px;width:6.70px;height:54.50px;background:#173c5e;"></div>
<div class="r" style="left:200.32px;top:870.00px;width:0.80px;height:9.00px;background:#8f8f8f;"></div>
<div class="r" style="left:205.82px;top:849.00px;width:0.80px;height:9.00px;background:#8f8f8f;"></div>
<div class="vl" style="left:203.5px;top:861.0px">58</div>
<div class="vl" style="left:209.0px;top:840.0px">54</div>
<div class="bk" style="left:195.5px"><i></i><u></u><s></s></div>
<div class="r" style="left:215.00px;top:822.50px;width:2.60px;height:6.50px;background:#d5d66c;"></div>
<div class="r" style="left:215.00px;top:829.00px;width:2.60px;height:83.50px;background:#3aa7db;"></div>
<div class="r" style="left:217.50px;top:822.50px;width:4.20px;height:90.00px;background:#b9b9b9;"></div>
<div class="r" style="left:221.70px;top:869.70px;width:6.70px;height:42.80px;background:#173c5e;"></div>
<div class="r" style="left:219.00px;top:813.50px;width:0.80px;height:9.00px;background:#8f8f8f;"></div>
<div class="r" style="left:224.50px;top:860.70px;width:0.80px;height:9.00px;background:#8f8f8f;"></div>
<div class="vl" style="left:222.2px;top:804.5px">156</div>
<div class="vl" style="left:227.7px;top:851.7px">42</div>
<div class="bk" style="left:214.2px"><i></i><u></u><s></s></div>
<div class="r" style="left:214.00px;top:922.90px;width:4.90px;height:5.40px;background:#9b0d16;background-image:repeating-linear-gradient(to bottom, transparent 0, transparent 6.4px, #fff 6.4px, #fff 7.6px);"></div>
<div class="r" style="left:218.90px;top:922.90px;width:4.80px;height:4.10px;background:#9cc3bd;background-image:repeating-linear-gradient(to bottom, transparent 0, transparent 6.4px, #fff 6.4px, #fff 7.6px);"></div>
<div class="r" style="left:223.70px;top:922.90px;width:5.20px;height:1.10px;background:#e9242b;background-image:repeating-linear-gradient(to bottom, transparent 0, transparent 6.4px, #fff 6.4px, #fff 7.6px);"></div>
<div class="r" style="left:233.68px;top:774.50px;width:2.60px;height:7.10px;background:#d5d66c;"></div>
<div class="r" style="left:233.68px;top:781.60px;width:2.60px;height:130.90px;background:#3aa7db;"></div>
<div class="r" style="left:236.18px;top:774.50px;width:4.20px;height:138.00px;background:#b9b9b9;"></div>
<div class="r" style="left:240.38px;top:845.00px;width:6.70px;height:67.50px;background:#173c5e;"></div>
<div class="r" style="left:237.68px;top:765.50px;width:0.80px;height:9.00px;background:#8f8f8f;"></div>
<div class="r" style="left:243.18px;top:836.00px;width:0.80px;height:9.00px;background:#8f8f8f;"></div>
<div class="vl" style="left:240.9px;top:756.5px">239</div>
<div class="vl" style="left:246.4px;top:827.0px">67</div>
<div class="st" style="left:242.3px;top:822.0px"></div>
<div class="bk" style="left:232.9px"><i></i><u></u><s></s></div>
<div class="r" style="left:232.68px;top:922.90px;width:4.90px;height:15.70px;background:#9b0d16;background-image:repeating-linear-gradient(to bottom, transparent 0, transparent 6.4px, #fff 6.4px, #fff 7.6px);"></div>
<div class="r" style="left:232.98px;top:939.60px;width:1.20px;height:2.20px;background:#9b0d16;"></div>
<div class="r" style="left:234.88px;top:939.60px;width:1.20px;height:2.20px;background:#9b0d16;"></div>
<div class="r" style="left:237.58px;top:922.90px;width:4.80px;height:13.00px;background:#9cc3bd;background-image:repeating-linear-gradient(to bottom, transparent 0, transparent 6.4px, #fff 6.4px, #fff 7.6px);"></div>
<div class="r" style="left:242.38px;top:922.90px;width:5.20px;height:5.40px;background:#e9242b;background-image:repeating-linear-gradient(to bottom, transparent 0, transparent 6.4px, #fff 6.4px, #fff 7.6px);"></div>
<div class="r" style="left:252.36px;top:801.70px;width:2.60px;height:10.00px;background:#d5d66c;"></div>
<div class="r" style="left:252.36px;top:811.70px;width:2.60px;height:100.80px;background:#3aa7db;"></div>
<div class="r" style="left:254.86px;top:801.70px;width:4.20px;height:110.80px;background:#b9b9b9;"></div>
<div class="r" style="left:259.06px;top:861.00px;width:6.70px;height:51.50px;background:#173c5e;"></div>
<div class="r" style="left:256.36px;top:792.70px;width:0.80px;height:9.00px;background:#8f8f8f;"></div>
<div class="r" style="left:261.86px;top:852.00px;width:0.80px;height:9.00px;background:#8f8f8f;"></div>
<div class="vl" style="left:259.6px;top:783.7px">192</div>
<div class="vl" style="left:265.1px;top:843.0px">51</div>
<div class="bk" style="left:251.6px"><i></i><u></u><s></s></div>
<div class="r" style="left:251.36px;top:922.90px;width:4.90px;height:26.70px;background:#9b0d16;background-image:repeating-linear-gradient(to bottom, transparent 0, transparent 6.4px, #fff 6.4px, #fff 7.6px);"></div>
<div class="r" style="left:251.66px;top:950.60px;width:1.20px;height:2.20px;background:#9b0d16;"></div>
<div class="r" style="left:253.56px;top:950.60px;width:1.20px;height:2.20px;background:#9b0d16;"></div>
<div class="r" style="left:256.26px;top:922.90px;width:4.80px;height:24.00px;background:#9cc3bd;background-image:repeating-linear-gradient(to bottom, transparent 0, transparent 6.4px, #fff 6.4px, #fff 7.6px);"></div>
<div class="r" style="left:261.06px;top:922.90px;width:5.20px;height:4.70px;background:#e9242b;background-image:repeating-linear-gradient(to bottom, transparent 0, transparent 6.4px, #fff 6.4px, #fff 7.6px);"></div>
<div class="r" style="left:271.04px;top:762.00px;width:2.60px;height:150.50px;background:#3aa7db;"></div>
<div class="r" style="left:273.54px;top:762.00px;width:4.20px;height:150.50px;background:#b9b9b9;"></div>
<div class="r" style="left:277.74px;top:868.00px;width:6.70px;height:44.50px;background:#173c5e;"></div>
<div class="r" style="left:275.04px;top:753.00px;width:0.80px;height:9.00px;background:#8f8f8f;"></div>
<div class="r" style="left:280.54px;top:859.00px;width:0.80px;height:9.00px;background:#8f8f8f;"></div>
<div class="vl" style="left:278.2px;top:744.0px">260</div>
<div class="vl" style="left:283.7px;top:850.0px">44</div>
<div class="st" style="left:279.6px;top:845.0px"></div>
<div class="bk" style="left:270.2px"><i></i><u></u><s></s></div>
<div class="r" style="left:270.04px;top:922.90px;width:4.90px;height:29.50px;background:#9b0d16;background-image:repeating-linear-gradient(to bottom, transparent 0, transparent 6.4px, #fff 6.4px, #fff 7.6px);"></div>
<div class="r" style="left:270.34px;top:953.40px;width:1.20px;height:2.20px;background:#9b0d16;"></div>
<div class="r" style="left:272.24px;top:953.40px;width:1.20px;height:2.20px;background:#9b0d16;"></div>
<div class="r" style="left:274.94px;top:922.90px;width:4.80px;height:26.00px;background:#9cc3bd;background-image:repeating-linear-gradient(to bottom, transparent 0, transparent 6.4px, #fff 6.4px, #fff 7.6px);"></div>
<div class="r" style="left:279.74px;top:922.90px;width:5.20px;height:4.70px;background:#e9242b;background-image:repeating-linear-gradient(to bottom, transparent 0, transparent 6.4px, #fff 6.4px, #fff 7.6px);"></div>
<div class="r" style="left:289.72px;top:660.00px;width:2.60px;height:252.50px;background:#3aa7db;"></div>
<div class="r" style="left:292.22px;top:660.00px;width:4.20px;height:252.50px;background:#b9b9b9;"></div>
<div class="r" style="left:296.42px;top:849.70px;width:6.70px;height:62.80px;background:#173c5e;"></div>
<div class="r" style="left:293.72px;top:651.00px;width:0.80px;height:9.00px;background:#8f8f8f;"></div>
<div class="r" style="left:299.22px;top:840.70px;width:0.80px;height:9.00px;background:#8f8f8f;"></div>
<div class="vl" style="left:296.9px;top:642.0px">437</div>
<div class="vl" style="left:302.4px;top:831.7px">62</div>
<div class="st" style="left:298.3px;top:826.7px"></div>
<div class="st" style="left:298.3px;top:822.5px"></div>
<div class="st" style="left:298.3px;top:818.3px"></div>
<div class="bk" style="left:288.9px"><i></i><u></u><s></s></div>
<div class="r" style="left:288.72px;top:922.90px;width:4.90px;height:43.90px;background:#9b0d16;background-image:repeating-linear-gradient(to bottom, transparent 0, transparent 6.4px, #fff 6.4px, #fff 7.6px);"></div>
<div class="r" style="left:289.02px;top:967.80px;width:1.20px;height:2.20px;background:#9b0d16;"></div>
<div class="r" style="left:290.92px;top:967.80px;width:1.20px;height:2.20px;background:#9b0d16;"></div>
<div class="r" style="left:293.62px;top:922.90px;width:4.80px;height:40.40px;background:#9cc3bd;background-image:repeating-linear-gradient(to bottom, transparent 0, transparent 6.4px, #fff 6.4px, #fff 7.6px);"></div>
<div class="r" style="left:298.42px;top:922.90px;width:5.20px;height:9.60px;background:#e9242b;background-image:repeating-linear-gradient(to bottom, transparent 0, transparent 6.4px, #fff 6.4px, #fff 7.6px);"></div>
<div class="r" style="left:298.72px;top:933.50px;width:1.20px;height:2.20px;background:#e9242b;"></div>
<div class="r" style="left:300.62px;top:933.50px;width:1.20px;height:2.20px;background:#e9242b;"></div>
<div class="r" style="left:308.40px;top:707.00px;width:2.60px;height:12.50px;background:#e39a3b;"></div>
<div class="r" style="left:308.40px;top:719.50px;width:2.60px;height:193.00px;background:#3aa7db;"></div>
<div class="r" style="left:310.90px;top:707.00px;width:4.20px;height:205.50px;background:#b9b9b9;"></div>
<div class="r" style="left:315.10px;top:794.50px;width:6.70px;height:118.00px;background:#173c5e;"></div>
<div class="r" style="left:312.40px;top:698.00px;width:0.80px;height:9.00px;background:#8f8f8f;"></div>
<div class="r" style="left:317.90px;top:785.50px;width:0.80px;height:9.00px;background:#8f8f8f;"></div>
<div class="vl" style="left:315.6px;top:689.0px">356</div>
<div class="vl" style="left:321.1px;top:776.5px">117</div>
<div class="st" style="left:317.0px;top:771.5px"></div>
<div class="st" style="left:317.0px;top:767.3px"></div>
<div class="st" style="left:317.0px;top:763.1px"></div>
<div class="st" style="left:317.0px;top:758.9px"></div>
<div class="bk" style="left:307.6px"><i></i><u></u><s></s></div>
<div class="r" style="left:307.40px;top:922.90px;width:4.90px;height:37.70px;background:#9b0d16;background-image:repeating-linear-gradient(to bottom, transparent 0, transparent 6.4px, #fff 6.4px, #fff 7.6px);"></div>
<div class="r" style="left:307.70px;top:961.60px;width:1.20px;height:2.20px;background:#9b0d16;"></div>
<div class="r" style="left:309.60px;top:961.60px;width:1.20px;height:2.20px;background:#9b0d16;"></div>
<div class="r" style="left:312.30px;top:922.90px;width:4.80px;height:27.40px;background:#9cc3bd;background-image:repeating-linear-gradient(to bottom, transparent 0, transparent 6.4px, #fff 6.4px, #fff 7.6px);"></div>
<div class="r" style="left:317.10px;top:922.90px;width:5.20px;height:24.00px;background:#e9242b;background-image:repeating-linear-gradient(to bottom, transparent 0, transparent 6.4px, #fff 6.4px, #fff 7.6px);"></div>
<div class="r" style="left:317.40px;top:947.90px;width:1.20px;height:2.20px;background:#e9242b;"></div>
<div class="r" style="left:319.30px;top:947.90px;width:1.20px;height:2.20px;background:#e9242b;"></div>
<div class="r" style="left:327.08px;top:752.40px;width:2.60px;height:2.60px;background:#d5d66c;"></div>
<div class="r" style="left:327.08px;top:755.00px;width:2.60px;height:157.50px;background:#3aa7db;"></div>
<div class="r" style="left:329.58px;top:752.40px;width:4.20px;height:160.10px;background:#b9b9b9;"></div>
<div class="r" style="left:333.78px;top:855.00px;width:6.70px;height:57.50px;background:#173c5e;"></div>
<div class="r" style="left:331.08px;top:743.40px;width:0.80px;height:9.00px;background:#8f8f8f;"></div>
<div class="r" style="left:336.58px;top:846.00px;width:0.80px;height:9.00px;background:#8f8f8f;"></div>
<div class="vl" style="left:334.3px;top:734.4px">277</div>
<div class="vl" style="left:339.8px;top:837.0px">57</div>
<div class="st" style="left:335.7px;top:832.0px"></div>
<div class="bk" style="left:326.3px"><i></i><u></u><s></s></div>
<div class="r" style="left:326.08px;top:922.90px;width:4.90px;height:47.30px;background:#9b0d16;background-image:repeating-linear-gradient(to bottom, transparent 0, transparent 6.4px, #fff 6.4px, #fff 7.6px);"></div>
<div class="r" style="left:326.38px;top:971.20px;width:1.20px;height:2.20px;background:#9b0d16;"></div>
<div class="r" style="left:328.28px;top:971.20px;width:1.20px;height:2.20px;background:#9b0d16;"></div>
<div class="r" style="left:330.98px;top:922.90px;width:4.80px;height:40.40px;background:#9cc3bd;background-image:repeating-linear-gradient(to bottom, transparent 0, transparent 6.4px, #fff 6.4px, #fff 7.6px);"></div>
<div class="r" style="left:335.78px;top:922.90px;width:5.20px;height:15.70px;background:#e9242b;background-image:repeating-linear-gradient(to bottom, transparent 0, transparent 6.4px, #fff 6.4px, #fff 7.6px);"></div>
<div class="r" style="left:336.08px;top:939.60px;width:1.20px;height:2.20px;background:#e9242b;"></div>
<div class="r" style="left:337.98px;top:939.60px;width:1.20px;height:2.20px;background:#e9242b;"></div>
<div class="r" style="left:367.10px;top:798.00px;width:2.60px;height:4.00px;background:#d5d66c;"></div>
<div class="r" style="left:367.10px;top:802.00px;width:2.60px;height:110.50px;background:#3aa7db;"></div>
<div class="r" style="left:369.60px;top:798.00px;width:4.20px;height:114.50px;background:#b9b9b9;"></div>
<div class="r" style="left:373.80px;top:847.00px;width:6.70px;height:65.50px;background:#173c5e;"></div>
<div class="r" style="left:371.10px;top:789.00px;width:0.80px;height:9.00px;background:#8f8f8f;"></div>
<div class="r" style="left:376.60px;top:838.00px;width:0.80px;height:9.00px;background:#8f8f8f;"></div>
<div class="vl" style="left:374.3px;top:780.0px">198</div>
<div class="vl" style="left:379.8px;top:829.0px">65</div>
<div class="st" style="left:375.7px;top:824.0px"></div>
<div class="st" style="left:375.7px;top:819.8px"></div>
<div class="st" style="left:375.7px;top:815.6px"></div>
<div class="st" style="left:375.7px;top:811.4px"></div>
<div class="bk" style="left:366.3px"><i></i><u></u><s></s></div>
<div class="r" style="left:366.10px;top:922.90px;width:4.90px;height:19.60px;background:#9b0d16;background-image:repeating-linear-gradient(to bottom, transparent 0, transparent 6.4px, #fff 6.4px, #fff 7.6px);"></div>
<div class="r" style="left:366.40px;top:943.50px;width:1.20px;height:2.20px;background:#9b0d16;"></div>
<div class="r" style="left:368.30px;top:943.50px;width:1.20px;height:2.20px;background:#9b0d16;"></div>
<div class="r" style="left:371.00px;top:922.90px;width:4.80px;height:15.60px;background:#9cc3bd;background-image:repeating-linear-gradient(to bottom, transparent 0, transparent 6.4px, #fff 6.4px, #fff 7.6px);"></div>
<div class="r" style="left:375.80px;top:922.90px;width:5.20px;height:12.90px;background:#e9242b;background-image:repeating-linear-gradient(to bottom, transparent 0, transparent 6.4px, #fff 6.4px, #fff 7.6px);"></div>
<div class="r" style="left:376.10px;top:936.80px;width:1.20px;height:2.20px;background:#e9242b;"></div>
<div class="r" style="left:378.00px;top:936.80px;width:1.20px;height:2.20px;background:#e9242b;"></div>
<div class="r" style="left:385.73px;top:820.80px;width:2.60px;height:5.20px;background:#d5d66c;"></div>
<div class="r" style="left:385.73px;top:826.00px;width:2.60px;height:86.50px;background:#3aa7db;"></div>
<div class="r" style="left:388.23px;top:820.80px;width:4.20px;height:91.70px;background:#b9b9b9;"></div>
<div class="r" style="left:392.43px;top:881.00px;width:6.70px;height:31.50px;background:#173c5e;"></div>
<div class="r" style="left:389.73px;top:811.80px;width:0.80px;height:9.00px;background:#8f8f8f;"></div>
<div class="r" style="left:395.23px;top:872.00px;width:0.80px;height:9.00px;background:#8f8f8f;"></div>
<div class="vl" style="left:392.9px;top:802.8px">159</div>
<div class="vl" style="left:398.4px;top:863.0px">31</div>
<div class="st" style="left:394.3px;top:858.0px"></div>
<div class="bk" style="left:384.9px"><i></i><u></u><s></s></div>
<div class="r" style="left:384.73px;top:922.90px;width:4.90px;height:29.50px;background:#9b0d16;background-image:repeating-linear-gradient(to bottom, transparent 0, transparent 6.4px, #fff 6.4px, #fff 7.6px);"></div>
<div class="r" style="left:385.03px;top:953.40px;width:1.20px;height:2.20px;background:#9b0d16;"></div>
<div class="r" style="left:386.93px;top:953.40px;width:1.20px;height:2.20px;background:#9b0d16;"></div>
<div class="r" style="left:389.63px;top:922.90px;width:4.80px;height:26.10px;background:#9cc3bd;background-image:repeating-linear-gradient(to bottom, transparent 0, transparent 6.4px, #fff 6.4px, #fff 7.6px);"></div>
<div class="r" style="left:394.43px;top:922.90px;width:5.20px;height:5.60px;background:#e9242b;background-image:repeating-linear-gradient(to bottom, transparent 0, transparent 6.4px, #fff 6.4px, #fff 7.6px);"></div>
<div class="r" style="left:404.36px;top:715.50px;width:2.60px;height:84.50px;background:#d5d66c;"></div>
<div class="r" style="left:404.36px;top:800.00px;width:2.60px;height:2.00px;background:#1f4b3a;"></div>
<div class="r" style="left:404.36px;top:802.00px;width:2.60px;height:110.50px;background:#3aa7db;"></div>
<div class="r" style="left:406.86px;top:715.50px;width:4.20px;height:197.00px;background:#b9b9b9;"></div>
<div class="r" style="left:411.06px;top:840.50px;width:6.70px;height:72.00px;background:#173c5e;"></div>
<div class="r" style="left:408.36px;top:706.50px;width:0.80px;height:9.00px;background:#8f8f8f;"></div>
<div class="r" style="left:413.86px;top:831.50px;width:0.80px;height:9.00px;background:#8f8f8f;"></div>
<div class="vl" style="left:411.6px;top:697.5px">341</div>
<div class="vl" style="left:417.1px;top:822.5px">71</div>
<div class="st" style="left:413.0px;top:817.5px"></div>
<div class="st" style="left:413.0px;top:813.3px"></div>
<div class="bk" style="left:403.6px"><i></i><u></u><s></s></div>
<div class="r" style="left:403.36px;top:922.90px;width:4.90px;height:36.10px;background:#9b0d16;background-image:repeating-linear-gradient(to bottom, transparent 0, transparent 6.4px, #fff 6.4px, #fff 7.6px);"></div>
<div class="r" style="left:403.66px;top:960.00px;width:1.20px;height:2.20px;background:#9b0d16;"></div>
<div class="r" style="left:405.56px;top:960.00px;width:1.20px;height:2.20px;background:#9b0d16;"></div>
<div class="r" style="left:408.26px;top:922.90px;width:4.80px;height:30.10px;background:#9cc3bd;background-image:repeating-linear-gradient(to bottom, transparent 0, transparent 6.4px, #fff 6.4px, #fff 7.6px);"></div>
<div class="r" style="left:413.06px;top:922.90px;width:5.20px;height:19.60px;background:#e9242b;background-image:repeating-linear-gradient(to bottom, transparent 0, transparent 6.4px, #fff 6.4px, #fff 7.6px);"></div>
<div class="r" style="left:413.36px;top:943.50px;width:1.20px;height:2.20px;background:#e9242b;"></div>
<div class="r" style="left:415.26px;top:943.50px;width:1.20px;height:2.20px;background:#e9242b;"></div>
<div class="r" style="left:422.99px;top:212.60px;width:2.60px;height:4.00px;background:#e39a3b;"></div>
<div class="r" style="left:422.99px;top:216.60px;width:2.60px;height:255.40px;background:#d5d66c;"></div>
<div class="r" style="left:422.99px;top:472.00px;width:2.60px;height:20.00px;background:#1f4b3a;"></div>
<div class="r" style="left:422.99px;top:492.00px;width:2.60px;height:420.50px;background:#3aa7db;"></div>
<div class="r" style="left:425.49px;top:212.60px;width:4.20px;height:699.90px;background:#b9b9b9;"></div>
<div class="r" style="left:429.69px;top:720.00px;width:6.70px;height:192.50px;background:#173c5e;"></div>
<div class="r" style="left:426.99px;top:203.60px;width:0.80px;height:9.00px;background:#8f8f8f;"></div>
<div class="r" style="left:432.49px;top:711.00px;width:0.80px;height:9.00px;background:#8f8f8f;"></div>
<div class="vl" style="left:430.2px;top:194.6px">1211</div>
<div class="vl" style="left:435.7px;top:702.0px">191</div>
<div class="st" style="left:431.6px;top:697.0px"></div>
<div class="st" style="left:431.6px;top:692.8px"></div>
<div class="st" style="left:431.6px;top:688.6px"></div>
<div class="bk" style="left:422.2px"><i></i><u></u><s></s></div>
<div class="r" style="left:421.99px;top:922.90px;width:4.90px;height:57.10px;background:#9b0d16;background-image:repeating-linear-gradient(to bottom, transparent 0, transparent 6.4px, #fff 6.4px, #fff 7.6px);"></div>
<div class="r" style="left:422.29px;top:981.00px;width:1.20px;height:2.20px;background:#9b0d16;"></div>
<div class="r" style="left:424.19px;top:981.00px;width:1.20px;height:2.20px;background:#9b0d16;"></div>
<div class="r" style="left:426.89px;top:922.90px;width:4.80px;height:54.70px;background:#9cc3bd;background-image:repeating-linear-gradient(to bottom, transparent 0, transparent 6.4px, #fff 6.4px, #fff 7.6px);"></div>
<div class="r" style="left:431.69px;top:922.90px;width:5.20px;height:23.50px;background:#e9242b;background-image:repeating-linear-gradient(to bottom, transparent 0, transparent 6.4px, #fff 6.4px, #fff 7.6px);"></div>
<div class="r" style="left:431.99px;top:947.40px;width:1.20px;height:2.20px;background:#e9242b;"></div>
<div class="r" style="left:433.89px;top:947.40px;width:1.20px;height:2.20px;background:#e9242b;"></div>
<div class="r" style="left:441.62px;top:448.00px;width:2.60px;height:4.00px;background:#e39a3b;"></div>
<div class="r" style="left:441.62px;top:452.00px;width:2.60px;height:116.00px;background:#d5d66c;"></div>
<div class="r" style="left:441.62px;top:568.00px;width:2.60px;height:30.00px;background:#1f4b3a;"></div>
<div class="r" style="left:441.62px;top:598.00px;width:2.60px;height:314.50px;background:#3aa7db;"></div>
<div class="r" style="left:444.12px;top:448.00px;width:4.20px;height:464.50px;background:#b9b9b9;"></div>
<div class="r" style="left:448.32px;top:798.00px;width:6.70px;height:114.50px;background:#173c5e;"></div>
<div class="r" style="left:445.62px;top:439.00px;width:0.80px;height:9.00px;background:#8f8f8f;"></div>
<div class="r" style="left:451.12px;top:789.00px;width:0.80px;height:9.00px;background:#8f8f8f;"></div>
<div class="vl" style="left:448.8px;top:430.0px">804</div>
<div class="vl" style="left:454.3px;top:780.0px">113</div>
<div class="st" style="left:450.2px;top:775.0px"></div>
<div class="st" style="left:450.2px;top:770.8px"></div>
<div class="bk" style="left:440.8px"><i></i><u></u><s></s></div>
<div class="r" style="left:440.62px;top:922.90px;width:4.90px;height:63.90px;background:#9b0d16;background-image:repeating-linear-gradient(to bottom, transparent 0, transparent 6.4px, #fff 6.4px, #fff 7.6px);"></div>
<div class="r" style="left:440.92px;top:987.80px;width:1.20px;height:2.20px;background:#9b0d16;"></div>
<div class="r" style="left:442.82px;top:987.80px;width:1.20px;height:2.20px;background:#9b0d16;"></div>
<div class="r" style="left:445.52px;top:922.90px;width:4.80px;height:54.70px;background:#9cc3bd;background-image:repeating-linear-gradient(to bottom, transparent 0, transparent 6.4px, #fff 6.4px, #fff 7.6px);"></div>
<div class="r" style="left:450.32px;top:922.90px;width:5.20px;height:19.60px;background:#e9242b;background-image:repeating-linear-gradient(to bottom, transparent 0, transparent 6.4px, #fff 6.4px, #fff 7.6px);"></div>
<div class="r" style="left:450.62px;top:943.50px;width:1.20px;height:2.20px;background:#e9242b;"></div>
<div class="r" style="left:452.52px;top:943.50px;width:1.20px;height:2.20px;background:#e9242b;"></div>
<div class="r" style="left:460.25px;top:554.60px;width:2.60px;height:8.40px;background:#e39a3b;"></div>
<div class="r" style="left:460.25px;top:563.00px;width:2.60px;height:119.00px;background:#d5d66c;"></div>
<div class="r" style="left:460.25px;top:682.00px;width:2.60px;height:6.00px;background:#1f4b3a;"></div>
<div class="r" style="left:460.25px;top:688.00px;width:2.60px;height:224.50px;background:#3aa7db;"></div>
<div class="r" style="left:462.75px;top:554.60px;width:4.20px;height:357.90px;background:#b9b9b9;"></div>
<div class="r" style="left:466.95px;top:852.00px;width:6.70px;height:60.50px;background:#173c5e;"></div>
<div class="r" style="left:464.25px;top:545.60px;width:0.80px;height:9.00px;background:#8f8f8f;"></div>
<div class="r" style="left:469.75px;top:843.00px;width:0.80px;height:9.00px;background:#8f8f8f;"></div>
<div class="vl" style="left:467.4px;top:536.6px">619</div>
<div class="vl" style="left:472.9px;top:834.0px">60</div>
<div class="st" style="left:468.9px;top:829.0px"></div>
<div class="bk" style="left:459.4px"><i></i><u></u><s></s></div>
<div class="r" style="left:459.25px;top:922.90px;width:4.90px;height:40.10px;background:#9b0d16;background-image:repeating-linear-gradient(to bottom, transparent 0, transparent 6.4px, #fff 6.4px, #fff 7.6px);"></div>
<div class="r" style="left:459.55px;top:964.00px;width:1.20px;height:2.20px;background:#9b0d16;"></div>
<div class="r" style="left:461.45px;top:964.00px;width:1.20px;height:2.20px;background:#9b0d16;"></div>
<div class="r" style="left:464.15px;top:922.90px;width:4.80px;height:35.50px;background:#9cc3bd;background-image:repeating-linear-gradient(to bottom, transparent 0, transparent 6.4px, #fff 6.4px, #fff 7.6px);"></div>
<div class="r" style="left:468.95px;top:922.90px;width:5.20px;height:12.10px;background:#e9242b;background-image:repeating-linear-gradient(to bottom, transparent 0, transparent 6.4px, #fff 6.4px, #fff 7.6px);"></div>
<div class="r" style="left:469.25px;top:936.00px;width:1.20px;height:2.20px;background:#e9242b;"></div>
<div class="r" style="left:471.15px;top:936.00px;width:1.20px;height:2.20px;background:#e9242b;"></div>
<div class="r" style="left:478.88px;top:574.00px;width:2.60px;height:143.00px;background:#d5d66c;"></div>
<div class="r" style="left:478.88px;top:717.00px;width:2.60px;height:6.00px;background:#1f4b3a;"></div>
<div class="r" style="left:478.88px;top:723.00px;width:2.60px;height:189.50px;background:#3aa7db;"></div>
<div class="r" style="left:481.38px;top:574.00px;width:4.20px;height:338.50px;background:#b9b9b9;"></div>
<div class="r" style="left:485.58px;top:834.00px;width:6.70px;height:78.50px;background:#173c5e;"></div>
<div class="r" style="left:482.88px;top:565.00px;width:0.80px;height:9.00px;background:#8f8f8f;"></div>
<div class="r" style="left:488.38px;top:825.00px;width:0.80px;height:9.00px;background:#8f8f8f;"></div>
<div class="vl" style="left:486.1px;top:556.0px">586</div>
<div class="vl" style="left:491.6px;top:816.0px">78</div>
<div class="st" style="left:487.5px;top:811.0px"></div>
<div class="st" style="left:487.5px;top:806.8px"></div>
<div class="st" style="left:487.5px;top:802.6px"></div>
<div class="st" style="left:487.5px;top:798.4px"></div>
<div class="bk" style="left:478.1px"><i></i><u></u><s></s></div>
<div class="r" style="left:477.88px;top:922.90px;width:4.90px;height:57.10px;background:#9b0d16;background-image:repeating-linear-gradient(to bottom, transparent 0, transparent 6.4px, #fff 6.4px, #fff 7.6px);"></div>
<div class="r" style="left:478.18px;top:981.00px;width:1.20px;height:2.20px;background:#9b0d16;"></div>
<div class="r" style="left:480.08px;top:981.00px;width:1.20px;height:2.20px;background:#9b0d16;"></div>
<div class="r" style="left:482.78px;top:922.90px;width:4.80px;height:49.40px;background:#9cc3bd;background-image:repeating-linear-gradient(to bottom, transparent 0, transparent 6.4px, #fff 6.4px, #fff 7.6px);"></div>
<div class="r" style="left:487.58px;top:922.90px;width:5.20px;height:19.60px;background:#e9242b;background-image:repeating-linear-gradient(to bottom, transparent 0, transparent 6.4px, #fff 6.4px, #fff 7.6px);"></div>
<div class="r" style="left:487.88px;top:943.50px;width:1.20px;height:2.20px;background:#e9242b;"></div>
<div class="r" style="left:489.78px;top:943.50px;width:1.20px;height:2.20px;background:#e9242b;"></div>
<div class="r" style="left:497.51px;top:365.70px;width:2.60px;height:7.30px;background:#e39a3b;"></div>
<div class="r" style="left:497.51px;top:373.00px;width:2.60px;height:239.00px;background:#d5d66c;"></div>
<div class="r" style="left:497.51px;top:612.00px;width:2.60px;height:8.00px;background:#1f4b3a;"></div>
<div class="r" style="left:497.51px;top:620.00px;width:2.60px;height:292.50px;background:#3aa7db;"></div>
<div class="r" style="left:500.01px;top:365.70px;width:4.20px;height:546.80px;background:#b9b9b9;"></div>
<div class="r" style="left:504.21px;top:820.00px;width:6.70px;height:92.50px;background:#173c5e;"></div>
<div class="r" style="left:501.51px;top:356.70px;width:0.80px;height:9.00px;background:#8f8f8f;"></div>
<div class="r" style="left:507.01px;top:811.00px;width:0.80px;height:9.00px;background:#8f8f8f;"></div>
<div class="vl" style="left:504.7px;top:347.7px">946</div>
<div class="vl" style="left:510.2px;top:802.0px">92</div>
<div class="bk" style="left:496.7px"><i></i><u></u><s></s></div>
<div class="r" style="left:496.51px;top:922.90px;width:4.90px;height:60.00px;background:#9b0d16;background-image:repeating-linear-gradient(to bottom, transparent 0, transparent 6.4px, #fff 6.4px, #fff 7.6px);"></div>
<div class="r" style="left:496.81px;top:983.90px;width:1.20px;height:2.20px;background:#9b0d16;"></div>
<div class="r" style="left:498.71px;top:983.90px;width:1.20px;height:2.20px;background:#9b0d16;"></div>
<div class="r" style="left:501.41px;top:922.90px;width:4.80px;height:54.70px;background:#9cc3bd;background-image:repeating-linear-gradient(to bottom, transparent 0, transparent 6.4px, #fff 6.4px, #fff 7.6px);"></div>
<div class="r" style="left:506.21px;top:922.90px;width:5.20px;height:19.60px;background:#e9242b;background-image:repeating-linear-gradient(to bottom, transparent 0, transparent 6.4px, #fff 6.4px, #fff 7.6px);"></div>
<div class="r" style="left:506.51px;top:943.50px;width:1.20px;height:2.20px;background:#e9242b;"></div>
<div class="r" style="left:508.41px;top:943.50px;width:1.20px;height:2.20px;background:#e9242b;"></div>
<div class="r" style="left:516.14px;top:479.00px;width:2.60px;height:4.00px;background:#e39a3b;"></div>
<div class="r" style="left:516.14px;top:483.00px;width:2.60px;height:163.70px;background:#d5d66c;"></div>
<div class="r" style="left:516.14px;top:646.70px;width:2.60px;height:13.30px;background:#1f4b3a;"></div>
<div class="r" style="left:516.14px;top:660.00px;width:2.60px;height:252.50px;background:#3aa7db;"></div>
<div class="r" style="left:518.64px;top:479.00px;width:4.20px;height:433.50px;background:#b9b9b9;"></div>
<div class="r" style="left:522.84px;top:798.00px;width:6.70px;height:114.50px;background:#173c5e;"></div>
<div class="r" style="left:520.14px;top:470.00px;width:0.80px;height:9.00px;background:#8f8f8f;"></div>
<div class="r" style="left:525.64px;top:789.00px;width:0.80px;height:9.00px;background:#8f8f8f;"></div>
<div class="vl" style="left:523.3px;top:461.0px">750</div>
<div class="vl" style="left:528.8px;top:780.0px">113</div>
<div class="st" style="left:524.7px;top:775.0px"></div>
<div class="bk" style="left:515.3px"><i></i><u></u><s></s></div>
<div class="r" style="left:515.14px;top:922.90px;width:4.90px;height:71.10px;background:#9b0d16;background-image:repeating-linear-gradient(to bottom, transparent 0, transparent 6.4px, #fff 6.4px, #fff 7.6px);"></div>
<div class="r" style="left:515.44px;top:995.00px;width:1.20px;height:2.20px;background:#9b0d16;"></div>
<div class="r" style="left:517.34px;top:995.00px;width:1.20px;height:2.20px;background:#9b0d16;"></div>
<div class="r" style="left:520.04px;top:922.90px;width:4.80px;height:65.10px;background:#9cc3bd;background-image:repeating-linear-gradient(to bottom, transparent 0, transparent 6.4px, #fff 6.4px, #fff 7.6px);"></div>
<div class="r" style="left:524.84px;top:922.90px;width:5.20px;height:29.50px;background:#e9242b;background-image:repeating-linear-gradient(to bottom, transparent 0, transparent 6.4px, #fff 6.4px, #fff 7.6px);"></div>
<div class="r" style="left:525.14px;top:953.40px;width:1.20px;height:2.20px;background:#e9242b;"></div>
<div class="r" style="left:527.04px;top:953.40px;width:1.20px;height:2.20px;background:#e9242b;"></div>
<div class="r" style="left:534.77px;top:515.00px;width:2.60px;height:4.00px;background:#e39a3b;"></div>
<div class="r" style="left:534.77px;top:519.00px;width:2.60px;height:189.00px;background:#d5d66c;"></div>
<div class="r" style="left:534.77px;top:708.00px;width:2.60px;height:11.00px;background:#1f4b3a;"></div>
<div class="r" style="left:534.77px;top:719.00px;width:2.60px;height:193.50px;background:#3aa7db;"></div>
<div class="r" style="left:537.27px;top:515.00px;width:4.20px;height:397.50px;background:#b9b9b9;"></div>
<div class="r" style="left:541.47px;top:821.00px;width:6.70px;height:91.50px;background:#173c5e;"></div>
<div class="r" style="left:538.77px;top:506.00px;width:0.80px;height:9.00px;background:#8f8f8f;"></div>
<div class="r" style="left:544.27px;top:812.00px;width:0.80px;height:9.00px;background:#8f8f8f;"></div>
<div class="vl" style="left:542.0px;top:497.0px">688</div>
<div class="vl" style="left:547.5px;top:803.0px">91</div>
<div class="st" style="left:543.4px;top:798.0px"></div>
<div class="st" style="left:543.4px;top:793.8px"></div>
<div class="bk" style="left:534.0px"><i></i><u></u><s></s></div>
<div class="r" style="left:533.77px;top:922.90px;width:4.90px;height:67.10px;background:#9b0d16;background-image:repeating-linear-gradient(to bottom, transparent 0, transparent 6.4px, #fff 6.4px, #fff 7.6px);"></div>
<div class="r" style="left:534.07px;top:991.00px;width:1.20px;height:2.20px;background:#9b0d16;"></div>
<div class="r" style="left:535.97px;top:991.00px;width:1.20px;height:2.20px;background:#9b0d16;"></div>
<div class="r" style="left:538.67px;top:922.90px;width:4.80px;height:63.90px;background:#9cc3bd;background-image:repeating-linear-gradient(to bottom, transparent 0, transparent 6.4px, #fff 6.4px, #fff 7.6px);"></div>
<div class="r" style="left:543.47px;top:922.90px;width:5.20px;height:22.90px;background:#e9242b;background-image:repeating-linear-gradient(to bottom, transparent 0, transparent 6.4px, #fff 6.4px, #fff 7.6px);"></div>
<div class="r" style="left:543.77px;top:946.80px;width:1.20px;height:2.20px;background:#e9242b;"></div>
<div class="r" style="left:545.67px;top:946.80px;width:1.20px;height:2.20px;background:#e9242b;"></div>
<div class="r" style="left:553.40px;top:81.00px;width:2.60px;height:7.00px;background:#e39a3b;"></div>
<div class="r" style="left:553.40px;top:88.00px;width:2.60px;height:448.00px;background:#d5d66c;"></div>
<div class="r" style="left:553.40px;top:536.00px;width:2.60px;height:25.00px;background:#1f4b3a;"></div>
<div class="r" style="left:553.40px;top:561.00px;width:2.60px;height:351.50px;background:#3aa7db;"></div>
<div class="r" style="left:555.90px;top:81.00px;width:4.20px;height:831.50px;background:#b9b9b9;"></div>
<div class="r" style="left:560.10px;top:717.00px;width:6.70px;height:195.50px;background:#173c5e;"></div>
<div class="r" style="left:557.40px;top:72.00px;width:0.80px;height:9.00px;background:#8f8f8f;"></div>
<div class="r" style="left:562.90px;top:708.00px;width:0.80px;height:9.00px;background:#8f8f8f;"></div>
<div class="vl" style="left:560.6px;top:63.0px">1438</div>
<div class="vl" style="left:566.1px;top:699.0px">194</div>
<div class="bk" style="left:552.6px"><i></i><u></u><s></s></div>
<div class="r" style="left:552.40px;top:922.90px;width:4.90px;height:78.50px;background:#9b0d16;background-image:repeating-linear-gradient(to bottom, transparent 0, transparent 6.4px, #fff 6.4px, #fff 7.6px);"></div>
<div class="r" style="left:552.70px;top:1002.40px;width:1.20px;height:2.20px;background:#9b0d16;"></div>
<div class="r" style="left:554.60px;top:1002.40px;width:1.20px;height:2.20px;background:#9b0d16;"></div>
<div class="r" style="left:557.30px;top:922.90px;width:4.80px;height:71.20px;background:#9cc3bd;background-image:repeating-linear-gradient(to bottom, transparent 0, transparent 6.4px, #fff 6.4px, #fff 7.6px);"></div>
<div class="r" style="left:562.10px;top:922.90px;width:5.20px;height:26.10px;background:#e9242b;background-image:repeating-linear-gradient(to bottom, transparent 0, transparent 6.4px, #fff 6.4px, #fff 7.6px);"></div>
<div class="r" style="left:562.40px;top:950.00px;width:1.20px;height:2.20px;background:#e9242b;"></div>
<div class="r" style="left:564.30px;top:950.00px;width:1.20px;height:2.20px;background:#e9242b;"></div>
<div class="r" style="left:572.03px;top:583.00px;width:2.60px;height:112.00px;background:#d5d66c;"></div>
<div class="r" style="left:572.03px;top:695.00px;width:2.60px;height:4.00px;background:#1f4b3a;"></div>
<div class="r" style="left:572.03px;top:699.00px;width:2.60px;height:213.50px;background:#3aa7db;"></div>
<div class="r" style="left:574.53px;top:583.00px;width:4.20px;height:329.50px;background:#b9b9b9;"></div>
<div class="r" style="left:578.73px;top:810.00px;width:6.70px;height:102.50px;background:#173c5e;"></div>
<div class="r" style="left:576.03px;top:574.00px;width:0.80px;height:9.00px;background:#8f8f8f;"></div>
<div class="r" style="left:581.53px;top:801.00px;width:0.80px;height:9.00px;background:#8f8f8f;"></div>
<div class="vl" style="left:579.2px;top:565.0px">570</div>
<div class="vl" style="left:584.7px;top:792.0px">101</div>
<div class="st" style="left:580.6px;top:787.0px"></div>
<div class="st" style="left:580.6px;top:782.8px"></div>
<div class="st" style="left:580.6px;top:778.6px"></div>
<div class="bk" style="left:571.2px"><i></i><u></u><s></s></div>
<div class="r" style="left:571.03px;top:922.90px;width:4.90px;height:47.40px;background:#9b0d16;background-image:repeating-linear-gradient(to bottom, transparent 0, transparent 6.4px, #fff 6.4px, #fff 7.6px);"></div>
<div class="r" style="left:571.33px;top:971.30px;width:1.20px;height:2.20px;background:#9b0d16;"></div>
<div class="r" style="left:573.23px;top:971.30px;width:1.20px;height:2.20px;background:#9b0d16;"></div>
<div class="r" style="left:575.93px;top:922.90px;width:4.80px;height:42.70px;background:#9cc3bd;background-image:repeating-linear-gradient(to bottom, transparent 0, transparent 6.4px, #fff 6.4px, #fff 7.6px);"></div>
<div class="r" style="left:580.73px;top:922.90px;width:5.20px;height:9.00px;background:#e9242b;background-image:repeating-linear-gradient(to bottom, transparent 0, transparent 6.4px, #fff 6.4px, #fff 7.6px);"></div>
<div class="r" style="left:581.03px;top:932.90px;width:1.20px;height:2.20px;background:#e9242b;"></div>
<div class="r" style="left:582.93px;top:932.90px;width:1.20px;height:2.20px;background:#e9242b;"></div>
<div class="r" style="left:612.10px;top:611.60px;width:2.60px;height:2.40px;background:#e39a3b;"></div>
<div class="r" style="left:612.10px;top:614.00px;width:2.60px;height:89.70px;background:#d5d66c;"></div>
<div class="r" style="left:612.10px;top:703.70px;width:2.60px;height:4.30px;background:#1f4b3a;"></div>
<div class="r" style="left:612.10px;top:708.00px;width:2.60px;height:204.50px;background:#3aa7db;"></div>
<div class="r" style="left:614.60px;top:611.60px;width:4.20px;height:300.90px;background:#b9b9b9;"></div>
<div class="r" style="left:618.80px;top:720.40px;width:6.70px;height:192.10px;background:#173c5e;"></div>
<div class="r" style="left:616.10px;top:602.60px;width:0.80px;height:9.00px;background:#8f8f8f;"></div>
<div class="r" style="left:621.60px;top:711.40px;width:0.80px;height:9.00px;background:#8f8f8f;"></div>
<div class="vl" style="left:619.3px;top:593.6px">521</div>
<div class="vl" style="left:624.8px;top:702.4px">190</div>
<div class="bk" style="left:611.3px"><i></i><u></u><s></s></div>
<div class="r" style="left:611.10px;top:922.90px;width:4.90px;height:50.70px;background:#9b0d16;background-image:repeating-linear-gradient(to bottom, transparent 0, transparent 6.4px, #fff 6.4px, #fff 7.6px);"></div>
<div class="r" style="left:611.40px;top:974.60px;width:1.20px;height:2.20px;background:#9b0d16;"></div>
<div class="r" style="left:613.30px;top:974.60px;width:1.20px;height:2.20px;background:#9b0d16;"></div>
<div class="r" style="left:616.00px;top:922.90px;width:4.80px;height:40.80px;background:#9cc3bd;background-image:repeating-linear-gradient(to bottom, transparent 0, transparent 6.4px, #fff 6.4px, #fff 7.6px);"></div>
<div class="r" style="left:620.80px;top:922.90px;width:5.20px;height:26.10px;background:#e9242b;background-image:repeating-linear-gradient(to bottom, transparent 0, transparent 6.4px, #fff 6.4px, #fff 7.6px);"></div>
<div class="r" style="left:621.10px;top:950.00px;width:1.20px;height:2.20px;background:#e9242b;"></div>
<div class="r" style="left:623.00px;top:950.00px;width:1.20px;height:2.20px;background:#e9242b;"></div>
<div class="r" style="left:630.65px;top:663.30px;width:2.60px;height:68.70px;background:#d5d66c;"></div>
<div class="r" style="left:630.65px;top:732.00px;width:2.60px;height:6.80px;background:#1f4b3a;"></div>
<div class="r" style="left:630.65px;top:738.80px;width:2.60px;height:173.70px;background:#3aa7db;"></div>
<div class="r" style="left:633.15px;top:663.30px;width:4.20px;height:249.20px;background:#b9b9b9;"></div>
<div class="r" style="left:637.35px;top:814.20px;width:6.70px;height:98.30px;background:#173c5e;"></div>
<div class="r" style="left:634.65px;top:654.30px;width:0.80px;height:9.00px;background:#8f8f8f;"></div>
<div class="r" style="left:640.15px;top:805.20px;width:0.80px;height:9.00px;background:#8f8f8f;"></div>
<div class="vl" style="left:637.9px;top:645.3px">431</div>
<div class="vl" style="left:643.4px;top:796.2px">97</div>
<div class="st" style="left:639.2px;top:791.2px"></div>
<div class="st" style="left:639.2px;top:787.0px"></div>
<div class="st" style="left:639.2px;top:782.8px"></div>
<div class="bk" style="left:629.9px"><i></i><u></u><s></s></div>
<div class="r" style="left:629.65px;top:922.90px;width:4.90px;height:47.40px;background:#9b0d16;background-image:repeating-linear-gradient(to bottom, transparent 0, transparent 6.4px, #fff 6.4px, #fff 7.6px);"></div>
<div class="r" style="left:629.95px;top:971.30px;width:1.20px;height:2.20px;background:#9b0d16;"></div>
<div class="r" style="left:631.85px;top:971.30px;width:1.20px;height:2.20px;background:#9b0d16;"></div>
<div class="r" style="left:634.55px;top:922.90px;width:4.80px;height:40.80px;background:#9cc3bd;background-image:repeating-linear-gradient(to bottom, transparent 0, transparent 6.4px, #fff 6.4px, #fff 7.6px);"></div>
<div class="r" style="left:639.35px;top:922.90px;width:5.20px;height:19.60px;background:#e9242b;background-image:repeating-linear-gradient(to bottom, transparent 0, transparent 6.4px, #fff 6.4px, #fff 7.6px);"></div>
<div class="r" style="left:639.65px;top:943.50px;width:1.20px;height:2.20px;background:#e9242b;"></div>
<div class="r" style="left:641.55px;top:943.50px;width:1.20px;height:2.20px;background:#e9242b;"></div>
<div class="r" style="left:649.20px;top:688.30px;width:2.60px;height:61.40px;background:#d5d66c;"></div>
<div class="r" style="left:649.20px;top:749.70px;width:2.60px;height:2.30px;background:#1f4b3a;"></div>
<div class="r" style="left:649.20px;top:752.00px;width:2.60px;height:160.50px;background:#3aa7db;"></div>
<div class="r" style="left:651.70px;top:688.30px;width:4.20px;height:224.20px;background:#b9b9b9;"></div>
<div class="r" style="left:655.90px;top:847.50px;width:6.70px;height:65.00px;background:#173c5e;"></div>
<div class="r" style="left:653.20px;top:679.30px;width:0.80px;height:9.00px;background:#8f8f8f;"></div>
<div class="r" style="left:658.70px;top:838.50px;width:0.80px;height:9.00px;background:#8f8f8f;"></div>
<div class="vl" style="left:656.4px;top:670.3px">388</div>
<div class="vl" style="left:661.9px;top:829.5px">64</div>
<div class="bk" style="left:648.4px"><i></i><u></u><s></s></div>
<div class="r" style="left:648.20px;top:922.90px;width:4.90px;height:43.40px;background:#9b0d16;background-image:repeating-linear-gradient(to bottom, transparent 0, transparent 6.4px, #fff 6.4px, #fff 7.6px);"></div>
<div class="r" style="left:648.50px;top:967.30px;width:1.20px;height:2.20px;background:#9b0d16;"></div>
<div class="r" style="left:650.40px;top:967.30px;width:1.20px;height:2.20px;background:#9b0d16;"></div>
<div class="r" style="left:653.10px;top:922.90px;width:4.80px;height:40.80px;background:#9cc3bd;background-image:repeating-linear-gradient(to bottom, transparent 0, transparent 6.4px, #fff 6.4px, #fff 7.6px);"></div>
<div class="r" style="left:657.90px;top:922.90px;width:5.20px;height:12.30px;background:#e9242b;background-image:repeating-linear-gradient(to bottom, transparent 0, transparent 6.4px, #fff 6.4px, #fff 7.6px);"></div>
<div class="r" style="left:658.20px;top:936.20px;width:1.20px;height:2.20px;background:#e9242b;"></div>
<div class="r" style="left:660.10px;top:936.20px;width:1.20px;height:2.20px;background:#e9242b;"></div>
<div class="r" style="left:667.75px;top:551.50px;width:2.60px;height:7.50px;background:#e39a3b;"></div>
<div class="r" style="left:667.75px;top:559.00px;width:2.60px;height:100.00px;background:#d5d66c;"></div>
<div class="r" style="left:667.75px;top:659.00px;width:2.60px;height:10.50px;background:#1f4b3a;"></div>
<div class="r" style="left:667.75px;top:669.50px;width:2.60px;height:243.00px;background:#3aa7db;"></div>
<div class="r" style="left:670.25px;top:551.50px;width:4.20px;height:361.00px;background:#b9b9b9;"></div>
<div class="r" style="left:674.45px;top:815.50px;width:6.70px;height:97.00px;background:#173c5e;"></div>
<div class="r" style="left:671.75px;top:542.50px;width:0.80px;height:9.00px;background:#8f8f8f;"></div>
<div class="r" style="left:677.25px;top:806.50px;width:0.80px;height:9.00px;background:#8f8f8f;"></div>
<div class="vl" style="left:675.0px;top:533.5px">625</div>
<div class="vl" style="left:680.5px;top:797.5px">96</div>
<div class="st" style="left:676.4px;top:792.5px"></div>
<div class="st" style="left:676.4px;top:788.3px"></div>
<div class="st" style="left:676.4px;top:784.1px"></div>
<div class="bk" style="left:667.0px"><i></i><u></u><s></s></div>
<div class="r" style="left:666.75px;top:922.90px;width:4.90px;height:67.30px;background:#9b0d16;background-image:repeating-linear-gradient(to bottom, transparent 0, transparent 6.4px, #fff 6.4px, #fff 7.6px);"></div>
<div class="r" style="left:667.05px;top:991.20px;width:1.20px;height:2.20px;background:#9b0d16;"></div>
<div class="r" style="left:668.95px;top:991.20px;width:1.20px;height:2.20px;background:#9b0d16;"></div>
<div class="r" style="left:671.65px;top:922.90px;width:4.80px;height:60.60px;background:#9cc3bd;background-image:repeating-linear-gradient(to bottom, transparent 0, transparent 6.4px, #fff 6.4px, #fff 7.6px);"></div>
<div class="r" style="left:676.45px;top:922.90px;width:5.20px;height:19.60px;background:#e9242b;background-image:repeating-linear-gradient(to bottom, transparent 0, transparent 6.4px, #fff 6.4px, #fff 7.6px);"></div>
<div class="r" style="left:676.75px;top:943.50px;width:1.20px;height:2.20px;background:#e9242b;"></div>
<div class="r" style="left:678.65px;top:943.50px;width:1.20px;height:2.20px;background:#e9242b;"></div>
<div class="r" style="left:686.30px;top:567.70px;width:2.60px;height:94.30px;background:#d5d66c;"></div>
<div class="r" style="left:686.30px;top:662.00px;width:2.60px;height:11.00px;background:#1f4b3a;"></div>
<div class="r" style="left:686.30px;top:673.00px;width:2.60px;height:239.50px;background:#3aa7db;"></div>
<div class="r" style="left:688.80px;top:567.70px;width:4.20px;height:344.80px;background:#b9b9b9;"></div>
<div class="r" style="left:693.00px;top:764.20px;width:6.70px;height:148.30px;background:#173c5e;"></div>
<div class="r" style="left:690.30px;top:558.70px;width:0.80px;height:9.00px;background:#8f8f8f;"></div>
<div class="r" style="left:695.80px;top:755.20px;width:0.80px;height:9.00px;background:#8f8f8f;"></div>
<div class="vl" style="left:693.5px;top:549.7px">597</div>
<div class="vl" style="left:699.0px;top:746.2px">147</div>
<div class="st" style="left:694.9px;top:741.2px"></div>
<div class="bk" style="left:685.5px"><i></i><u></u><s></s></div>
<div class="r" style="left:685.30px;top:922.90px;width:4.90px;height:63.90px;background:#9b0d16;background-image:repeating-linear-gradient(to bottom, transparent 0, transparent 6.4px, #fff 6.4px, #fff 7.6px);"></div>
<div class="r" style="left:685.60px;top:987.80px;width:1.20px;height:2.20px;background:#9b0d16;"></div>
<div class="r" style="left:687.50px;top:987.80px;width:1.20px;height:2.20px;background:#9b0d16;"></div>
<div class="r" style="left:690.20px;top:922.90px;width:4.80px;height:57.30px;background:#9cc3bd;background-image:repeating-linear-gradient(to bottom, transparent 0, transparent 6.4px, #fff 6.4px, #fff 7.6px);"></div>
<div class="r" style="left:695.00px;top:922.90px;width:5.20px;height:26.10px;background:#e9242b;background-image:repeating-linear-gradient(to bottom, transparent 0, transparent 6.4px, #fff 6.4px, #fff 7.6px);"></div>
<div class="r" style="left:695.30px;top:950.00px;width:1.20px;height:2.20px;background:#e9242b;"></div>
<div class="r" style="left:697.20px;top:950.00px;width:1.20px;height:2.20px;background:#e9242b;"></div>
<div class="r" style="left:704.85px;top:603.70px;width:2.60px;height:7.80px;background:#e39a3b;"></div>
<div class="r" style="left:704.85px;top:611.50px;width:2.60px;height:81.20px;background:#d5d66c;"></div>
<div class="r" style="left:704.85px;top:692.70px;width:2.60px;height:2.30px;background:#1f4b3a;"></div>
<div class="r" style="left:704.85px;top:695.00px;width:2.60px;height:217.50px;background:#3aa7db;"></div>
<div class="r" style="left:707.35px;top:603.70px;width:4.20px;height:308.80px;background:#b9b9b9;"></div>
<div class="r" style="left:711.55px;top:766.00px;width:6.70px;height:146.50px;background:#173c5e;"></div>
<div class="r" style="left:708.85px;top:594.70px;width:0.80px;height:9.00px;background:#8f8f8f;"></div>
<div class="r" style="left:714.35px;top:757.00px;width:0.80px;height:9.00px;background:#8f8f8f;"></div>
<div class="vl" style="left:712.1px;top:585.7px">534</div>
<div class="vl" style="left:717.6px;top:748.0px">145</div>
<div class="st" style="left:713.5px;top:743.0px"></div>
<div class="st" style="left:713.5px;top:738.8px"></div>
<div class="st" style="left:713.5px;top:734.6px"></div>
<div class="st" style="left:713.5px;top:730.4px"></div>
<div class="st" style="left:713.5px;top:726.2px"></div>
<div class="bk" style="left:704.1px"><i></i><u></u><s></s></div>
<div class="r" style="left:703.85px;top:922.90px;width:4.90px;height:63.90px;background:#9b0d16;background-image:repeating-linear-gradient(to bottom, transparent 0, transparent 6.4px, #fff 6.4px, #fff 7.6px);"></div>
<div class="r" style="left:704.15px;top:987.80px;width:1.20px;height:2.20px;background:#9b0d16;"></div>
<div class="r" style="left:706.05px;top:987.80px;width:1.20px;height:2.20px;background:#9b0d16;"></div>
<div class="r" style="left:708.75px;top:922.90px;width:4.80px;height:54.70px;background:#9cc3bd;background-image:repeating-linear-gradient(to bottom, transparent 0, transparent 6.4px, #fff 6.4px, #fff 7.6px);"></div>
<div class="r" style="left:713.55px;top:922.90px;width:5.20px;height:26.10px;background:#e9242b;background-image:repeating-linear-gradient(to bottom, transparent 0, transparent 6.4px, #fff 6.4px, #fff 7.6px);"></div>
<div class="r" style="left:713.85px;top:950.00px;width:1.20px;height:2.20px;background:#e9242b;"></div>
<div class="r" style="left:715.75px;top:950.00px;width:1.20px;height:2.20px;background:#e9242b;"></div>
<div class="r" style="left:723.40px;top:624.70px;width:2.60px;height:76.80px;background:#d5d66c;"></div>
<div class="r" style="left:723.40px;top:701.50px;width:2.60px;height:4.50px;background:#1f4b3a;"></div>
<div class="r" style="left:723.40px;top:706.00px;width:2.60px;height:206.50px;background:#3aa7db;"></div>
<div class="r" style="left:725.90px;top:624.70px;width:4.20px;height:287.80px;background:#b9b9b9;"></div>
<div class="r" style="left:730.10px;top:811.00px;width:6.70px;height:101.50px;background:#173c5e;"></div>
<div class="r" style="left:727.40px;top:615.70px;width:0.80px;height:9.00px;background:#8f8f8f;"></div>
<div class="r" style="left:732.90px;top:802.00px;width:0.80px;height:9.00px;background:#8f8f8f;"></div>
<div class="vl" style="left:730.6px;top:606.7px">498</div>
<div class="vl" style="left:736.1px;top:793.0px">100</div>
<div class="st" style="left:732.0px;top:788.0px"></div>
<div class="st" style="left:732.0px;top:783.8px"></div>
<div class="bk" style="left:722.6px"><i></i><u></u><s></s></div>
<div class="r" style="left:722.40px;top:922.90px;width:4.90px;height:67.30px;background:#9b0d16;background-image:repeating-linear-gradient(to bottom, transparent 0, transparent 6.4px, #fff 6.4px, #fff 7.6px);"></div>
<div class="r" style="left:722.70px;top:991.20px;width:1.20px;height:2.20px;background:#9b0d16;"></div>
<div class="r" style="left:724.60px;top:991.20px;width:1.20px;height:2.20px;background:#9b0d16;"></div>
<div class="r" style="left:727.30px;top:922.90px;width:4.80px;height:60.00px;background:#9cc3bd;background-image:repeating-linear-gradient(to bottom, transparent 0, transparent 6.4px, #fff 6.4px, #fff 7.6px);"></div>
<div class="r" style="left:732.10px;top:922.90px;width:5.20px;height:22.90px;background:#e9242b;background-image:repeating-linear-gradient(to bottom, transparent 0, transparent 6.4px, #fff 6.4px, #fff 7.6px);"></div>
<div class="r" style="left:732.40px;top:946.80px;width:1.20px;height:2.20px;background:#e9242b;"></div>
<div class="r" style="left:734.30px;top:946.80px;width:1.20px;height:2.20px;background:#e9242b;"></div>
<div class="r" style="left:741.95px;top:585.30px;width:2.60px;height:76.70px;background:#d5d66c;"></div>
<div class="r" style="left:741.95px;top:662.00px;width:2.60px;height:4.00px;background:#1f4b3a;"></div>
<div class="r" style="left:741.95px;top:666.00px;width:2.60px;height:246.50px;background:#3aa7db;"></div>
<div class="r" style="left:744.45px;top:585.30px;width:4.20px;height:327.20px;background:#b9b9b9;"></div>
<div class="r" style="left:748.65px;top:752.80px;width:6.70px;height:159.70px;background:#173c5e;"></div>
<div class="r" style="left:745.95px;top:576.30px;width:0.80px;height:9.00px;background:#8f8f8f;"></div>
<div class="r" style="left:751.45px;top:743.80px;width:0.80px;height:9.00px;background:#8f8f8f;"></div>
<div class="vl" style="left:749.2px;top:567.3px">566</div>
<div class="vl" style="left:754.7px;top:734.8px">158</div>
<div class="st" style="left:750.6px;top:729.8px"></div>
<div class="st" style="left:750.6px;top:725.6px"></div>
<div class="bk" style="left:741.2px"><i></i><u></u><s></s></div>
<div class="r" style="left:740.95px;top:922.90px;width:4.90px;height:74.50px;background:#9b0d16;background-image:repeating-linear-gradient(to bottom, transparent 0, transparent 6.4px, #fff 6.4px, #fff 7.6px);"></div>
<div class="r" style="left:741.25px;top:998.40px;width:1.20px;height:2.20px;background:#9b0d16;"></div>
<div class="r" style="left:743.15px;top:998.40px;width:1.20px;height:2.20px;background:#9b0d16;"></div>
<div class="r" style="left:745.85px;top:922.90px;width:4.80px;height:63.90px;background:#9cc3bd;background-image:repeating-linear-gradient(to bottom, transparent 0, transparent 6.4px, #fff 6.4px, #fff 7.6px);"></div>
<div class="r" style="left:750.65px;top:922.90px;width:5.20px;height:29.50px;background:#e9242b;background-image:repeating-linear-gradient(to bottom, transparent 0, transparent 6.4px, #fff 6.4px, #fff 7.6px);"></div>
<div class="r" style="left:750.95px;top:953.40px;width:1.20px;height:2.20px;background:#e9242b;"></div>
<div class="r" style="left:752.85px;top:953.40px;width:1.20px;height:2.20px;background:#e9242b;"></div>
<div class="r" style="left:760.50px;top:583.00px;width:2.60px;height:92.00px;background:#d5d66c;"></div>
<div class="r" style="left:760.50px;top:675.00px;width:2.60px;height:6.00px;background:#1f4b3a;"></div>
<div class="r" style="left:760.50px;top:681.00px;width:2.60px;height:231.50px;background:#3aa7db;"></div>
<div class="r" style="left:763.00px;top:583.00px;width:4.20px;height:329.50px;background:#b9b9b9;"></div>
<div class="r" style="left:767.20px;top:820.00px;width:6.70px;height:92.50px;background:#173c5e;"></div>
<div class="r" style="left:764.50px;top:574.00px;width:0.80px;height:9.00px;background:#8f8f8f;"></div>
<div class="r" style="left:770.00px;top:811.00px;width:0.80px;height:9.00px;background:#8f8f8f;"></div>
<div class="vl" style="left:767.7px;top:565.0px">570</div>
<div class="vl" style="left:773.2px;top:802.0px">92</div>
<div class="bk" style="left:759.7px"><i></i><u></u><s></s></div>
<div class="r" style="left:759.50px;top:922.90px;width:4.90px;height:67.30px;background:#9b0d16;background-image:repeating-linear-gradient(to bottom, transparent 0, transparent 6.4px, #fff 6.4px, #fff 7.6px);"></div>
<div class="r" style="left:759.80px;top:991.20px;width:1.20px;height:2.20px;background:#9b0d16;"></div>
<div class="r" style="left:761.70px;top:991.20px;width:1.20px;height:2.20px;background:#9b0d16;"></div>
<div class="r" style="left:764.40px;top:922.90px;width:4.80px;height:60.60px;background:#9cc3bd;background-image:repeating-linear-gradient(to bottom, transparent 0, transparent 6.4px, #fff 6.4px, #fff 7.6px);"></div>
<div class="r" style="left:769.20px;top:922.90px;width:5.20px;height:22.90px;background:#e9242b;background-image:repeating-linear-gradient(to bottom, transparent 0, transparent 6.4px, #fff 6.4px, #fff 7.6px);"></div>
<div class="r" style="left:769.50px;top:946.80px;width:1.20px;height:2.20px;background:#e9242b;"></div>
<div class="r" style="left:771.40px;top:946.80px;width:1.20px;height:2.20px;background:#e9242b;"></div>
<div class="r" style="left:779.05px;top:545.80px;width:2.60px;height:122.80px;background:#d5d66c;"></div>
<div class="r" style="left:779.05px;top:668.60px;width:2.60px;height:3.40px;background:#1f4b3a;"></div>
<div class="r" style="left:779.05px;top:672.00px;width:2.60px;height:240.50px;background:#3aa7db;"></div>
<div class="r" style="left:781.55px;top:545.80px;width:4.20px;height:366.70px;background:#b9b9b9;"></div>
<div class="r" style="left:785.75px;top:732.20px;width:6.70px;height:180.30px;background:#173c5e;"></div>
<div class="r" style="left:783.05px;top:536.80px;width:0.80px;height:9.00px;background:#8f8f8f;"></div>
<div class="r" style="left:788.55px;top:723.20px;width:0.80px;height:9.00px;background:#8f8f8f;"></div>
<div class="vl" style="left:786.3px;top:527.8px">634</div>
<div class="vl" style="left:791.8px;top:714.2px">178</div>
<div class="st" style="left:787.7px;top:709.2px"></div>
<div class="st" style="left:787.7px;top:705.0px"></div>
<div class="bk" style="left:778.3px"><i></i><u></u><s></s></div>
<div class="r" style="left:778.05px;top:922.90px;width:4.90px;height:78.50px;background:#9b0d16;background-image:repeating-linear-gradient(to bottom, transparent 0, transparent 6.4px, #fff 6.4px, #fff 7.6px);"></div>
<div class="r" style="left:778.35px;top:1002.40px;width:1.20px;height:2.20px;background:#9b0d16;"></div>
<div class="r" style="left:780.25px;top:1002.40px;width:1.20px;height:2.20px;background:#9b0d16;"></div>
<div class="r" style="left:782.95px;top:922.90px;width:4.80px;height:67.90px;background:#9cc3bd;background-image:repeating-linear-gradient(to bottom, transparent 0, transparent 6.4px, #fff 6.4px, #fff 7.6px);"></div>
<div class="r" style="left:787.75px;top:922.90px;width:5.20px;height:33.50px;background:#e9242b;background-image:repeating-linear-gradient(to bottom, transparent 0, transparent 6.4px, #fff 6.4px, #fff 7.6px);"></div>
<div class="r" style="left:788.05px;top:957.40px;width:1.20px;height:2.20px;background:#e9242b;"></div>
<div class="r" style="left:789.95px;top:957.40px;width:1.20px;height:2.20px;background:#e9242b;"></div>
<div class="r" style="left:797.60px;top:671.30px;width:2.60px;height:101.30px;background:#d5d66c;"></div>
<div class="r" style="left:797.60px;top:772.60px;width:2.60px;height:4.40px;background:#e39a3b;"></div>
<div class="r" style="left:797.60px;top:777.00px;width:2.60px;height:4.00px;background:#1f4b3a;"></div>
<div class="r" style="left:797.60px;top:781.00px;width:2.60px;height:131.50px;background:#3aa7db;"></div>
<div class="r" style="left:800.10px;top:671.30px;width:4.20px;height:241.20px;background:#b9b9b9;"></div>
<div class="r" style="left:804.30px;top:754.60px;width:6.70px;height:157.90px;background:#173c5e;"></div>
<div class="r" style="left:801.60px;top:662.30px;width:0.80px;height:9.00px;background:#8f8f8f;"></div>
<div class="r" style="left:807.10px;top:745.60px;width:0.80px;height:9.00px;background:#8f8f8f;"></div>
<div class="vl" style="left:804.8px;top:653.3px">417</div>
<div class="vl" style="left:810.3px;top:736.6px">156</div>
<div class="bk" style="left:796.8px"><i></i><u></u><s></s></div>
<div class="r" style="left:796.60px;top:922.90px;width:4.90px;height:50.00px;background:#9b0d16;background-image:repeating-linear-gradient(to bottom, transparent 0, transparent 6.4px, #fff 6.4px, #fff 7.6px);"></div>
<div class="r" style="left:796.90px;top:973.90px;width:1.20px;height:2.20px;background:#9b0d16;"></div>
<div class="r" style="left:798.80px;top:973.90px;width:1.20px;height:2.20px;background:#9b0d16;"></div>
<div class="r" style="left:801.50px;top:922.90px;width:4.80px;height:29.50px;background:#9cc3bd;background-image:repeating-linear-gradient(to bottom, transparent 0, transparent 6.4px, #fff 6.4px, #fff 7.6px);"></div>
<div class="r" style="left:806.30px;top:922.90px;width:5.20px;height:26.10px;background:#e9242b;background-image:repeating-linear-gradient(to bottom, transparent 0, transparent 6.4px, #fff 6.4px, #fff 7.6px);"></div>
<div class="r" style="left:806.60px;top:950.00px;width:1.20px;height:2.20px;background:#e9242b;"></div>
<div class="r" style="left:808.50px;top:950.00px;width:1.20px;height:2.20px;background:#e9242b;"></div>
<div class="r" style="left:816.15px;top:662.90px;width:2.60px;height:2.10px;background:#e39a3b;"></div>
<div class="r" style="left:816.15px;top:665.00px;width:2.60px;height:77.00px;background:#d5d66c;"></div>
<div class="r" style="left:816.15px;top:742.00px;width:2.60px;height:4.70px;background:#1f4b3a;"></div>
<div class="r" style="left:816.15px;top:746.70px;width:2.60px;height:165.80px;background:#3aa7db;"></div>
<div class="r" style="left:818.65px;top:662.90px;width:4.20px;height:249.60px;background:#b9b9b9;"></div>
<div class="r" style="left:822.85px;top:784.80px;width:6.70px;height:127.70px;background:#173c5e;"></div>
<div class="r" style="left:820.15px;top:653.90px;width:0.80px;height:9.00px;background:#8f8f8f;"></div>
<div class="r" style="left:825.65px;top:775.80px;width:0.80px;height:9.00px;background:#8f8f8f;"></div>
<div class="vl" style="left:823.4px;top:644.9px">432</div>
<div class="vl" style="left:828.9px;top:766.8px">126</div>
<div class="st" style="left:824.8px;top:761.8px"></div>
<div class="st" style="left:824.8px;top:757.6px"></div>
<div class="bk" style="left:815.4px"><i></i><u></u><s></s></div>
<div class="r" style="left:815.15px;top:922.90px;width:4.90px;height:50.00px;background:#9b0d16;background-image:repeating-linear-gradient(to bottom, transparent 0, transparent 6.4px, #fff 6.4px, #fff 7.6px);"></div>
<div class="r" style="left:815.45px;top:973.90px;width:1.20px;height:2.20px;background:#9b0d16;"></div>
<div class="r" style="left:817.35px;top:973.90px;width:1.20px;height:2.20px;background:#9b0d16;"></div>
<div class="r" style="left:820.05px;top:922.90px;width:4.80px;height:43.40px;background:#9cc3bd;background-image:repeating-linear-gradient(to bottom, transparent 0, transparent 6.4px, #fff 6.4px, #fff 7.6px);"></div>
<div class="r" style="left:824.85px;top:922.90px;width:5.20px;height:26.10px;background:#e9242b;background-image:repeating-linear-gradient(to bottom, transparent 0, transparent 6.4px, #fff 6.4px, #fff 7.6px);"></div>
<div class="r" style="left:825.15px;top:950.00px;width:1.20px;height:2.20px;background:#e9242b;"></div>
<div class="r" style="left:827.05px;top:950.00px;width:1.20px;height:2.20px;background:#e9242b;"></div>
<div class="r" style="left:856.10px;top:735.50px;width:2.60px;height:56.30px;background:#d5d66c;"></div>
<div class="r" style="left:856.10px;top:791.80px;width:2.60px;height:8.00px;background:#1f4b3a;"></div>
<div class="r" style="left:856.10px;top:799.80px;width:2.60px;height:112.70px;background:#3aa7db;"></div>
<div class="r" style="left:858.60px;top:735.50px;width:4.20px;height:177.00px;background:#b9b9b9;"></div>
<div class="r" style="left:862.80px;top:798.30px;width:6.70px;height:114.20px;background:#173c5e;"></div>
<div class="r" style="left:860.10px;top:726.50px;width:0.80px;height:9.00px;background:#8f8f8f;"></div>
<div class="r" style="left:865.60px;top:789.30px;width:0.80px;height:9.00px;background:#8f8f8f;"></div>
<div class="vl" style="left:863.3px;top:717.5px">306</div>
<div class="vl" style="left:868.8px;top:780.3px">113</div>
<div class="st" style="left:864.7px;top:775.3px"></div>
<div class="bk" style="left:855.3px"><i></i><u></u><s></s></div>
<div class="r" style="left:855.10px;top:922.90px;width:4.90px;height:40.10px;background:#9b0d16;background-image:repeating-linear-gradient(to bottom, transparent 0, transparent 6.4px, #fff 6.4px, #fff 7.6px);"></div>
<div class="r" style="left:855.40px;top:964.00px;width:1.20px;height:2.20px;background:#9b0d16;"></div>
<div class="r" style="left:857.30px;top:964.00px;width:1.20px;height:2.20px;background:#9b0d16;"></div>
<div class="r" style="left:860.00px;top:922.90px;width:4.80px;height:34.10px;background:#9cc3bd;background-image:repeating-linear-gradient(to bottom, transparent 0, transparent 6.4px, #fff 6.4px, #fff 7.6px);"></div>
<div class="r" style="left:864.80px;top:922.90px;width:5.20px;height:19.60px;background:#e9242b;background-image:repeating-linear-gradient(to bottom, transparent 0, transparent 6.4px, #fff 6.4px, #fff 7.6px);"></div>
<div class="r" style="left:865.10px;top:943.50px;width:1.20px;height:2.20px;background:#e9242b;"></div>
<div class="r" style="left:867.00px;top:943.50px;width:1.20px;height:2.20px;background:#e9242b;"></div>
<div class="r" style="left:874.65px;top:705.70px;width:2.60px;height:5.00px;background:#e39a3b;"></div>
<div class="r" style="left:874.65px;top:710.70px;width:2.60px;height:71.90px;background:#d5d66c;"></div>
<div class="r" style="left:874.65px;top:782.60px;width:2.60px;height:6.90px;background:#1f4b3a;"></div>
<div class="r" style="left:874.65px;top:789.50px;width:2.60px;height:123.00px;background:#3aa7db;"></div>
<div class="r" style="left:877.15px;top:705.70px;width:4.20px;height:206.80px;background:#b9b9b9;"></div>
<div class="r" style="left:881.35px;top:810.60px;width:6.70px;height:101.90px;background:#173c5e;"></div>
<div class="r" style="left:878.65px;top:696.70px;width:0.80px;height:9.00px;background:#8f8f8f;"></div>
<div class="r" style="left:884.15px;top:801.60px;width:0.80px;height:9.00px;background:#8f8f8f;"></div>
<div class="vl" style="left:881.9px;top:687.7px">358</div>
<div class="vl" style="left:887.4px;top:792.6px">101</div>
<div class="st" style="left:883.2px;top:787.6px"></div>
<div class="bk" style="left:873.9px"><i></i><u></u><s></s></div>
<div class="r" style="left:873.65px;top:922.90px;width:4.90px;height:42.70px;background:#9b0d16;background-image:repeating-linear-gradient(to bottom, transparent 0, transparent 6.4px, #fff 6.4px, #fff 7.6px);"></div>
<div class="r" style="left:873.95px;top:966.60px;width:1.20px;height:2.20px;background:#9b0d16;"></div>
<div class="r" style="left:875.85px;top:966.60px;width:1.20px;height:2.20px;background:#9b0d16;"></div>
<div class="r" style="left:878.55px;top:922.90px;width:4.80px;height:33.50px;background:#9cc3bd;background-image:repeating-linear-gradient(to bottom, transparent 0, transparent 6.4px, #fff 6.4px, #fff 7.6px);"></div>
<div class="r" style="left:883.35px;top:922.90px;width:5.20px;height:23.50px;background:#e9242b;background-image:repeating-linear-gradient(to bottom, transparent 0, transparent 6.4px, #fff 6.4px, #fff 7.6px);"></div>
<div class="r" style="left:883.65px;top:947.40px;width:1.20px;height:2.20px;background:#e9242b;"></div>
<div class="r" style="left:885.55px;top:947.40px;width:1.20px;height:2.20px;background:#e9242b;"></div>
<div class="r" style="left:893.20px;top:612.40px;width:2.60px;height:99.90px;background:#d5d66c;"></div>
<div class="r" style="left:893.20px;top:712.30px;width:2.60px;height:6.70px;background:#1f4b3a;"></div>
<div class="r" style="left:893.20px;top:719.00px;width:2.60px;height:193.50px;background:#3aa7db;"></div>
<div class="r" style="left:895.70px;top:612.40px;width:4.20px;height:300.10px;background:#b9b9b9;"></div>
<div class="r" style="left:899.90px;top:853.80px;width:6.70px;height:58.70px;background:#173c5e;"></div>
<div class="r" style="left:897.20px;top:603.40px;width:0.80px;height:9.00px;background:#8f8f8f;"></div>
<div class="r" style="left:902.70px;top:844.80px;width:0.80px;height:9.00px;background:#8f8f8f;"></div>
<div class="vl" style="left:900.4px;top:594.4px">519</div>
<div class="vl" style="left:905.9px;top:835.8px">58</div>
<div class="st" style="left:901.8px;top:830.8px"></div>
<div class="st" style="left:901.8px;top:826.6px"></div>
<div class="st" style="left:901.8px;top:822.4px"></div>
<div class="st" style="left:901.8px;top:818.2px"></div>
<div class="bk" style="left:892.4px"><i></i><u></u><s></s></div>
<div class="r" style="left:892.20px;top:922.90px;width:4.90px;height:60.00px;background:#9b0d16;background-image:repeating-linear-gradient(to bottom, transparent 0, transparent 6.4px, #fff 6.4px, #fff 7.6px);"></div>
<div class="r" style="left:892.50px;top:983.90px;width:1.20px;height:2.20px;background:#9b0d16;"></div>
<div class="r" style="left:894.40px;top:983.90px;width:1.20px;height:2.20px;background:#9b0d16;"></div>
<div class="r" style="left:897.10px;top:922.90px;width:4.80px;height:54.00px;background:#9cc3bd;background-image:repeating-linear-gradient(to bottom, transparent 0, transparent 6.4px, #fff 6.4px, #fff 7.6px);"></div>
<div class="r" style="left:901.90px;top:922.90px;width:5.20px;height:9.00px;background:#e9242b;background-image:repeating-linear-gradient(to bottom, transparent 0, transparent 6.4px, #fff 6.4px, #fff 7.6px);"></div>
<div class="r" style="left:902.20px;top:932.90px;width:1.20px;height:2.20px;background:#e9242b;"></div>
<div class="r" style="left:904.10px;top:932.90px;width:1.20px;height:2.20px;background:#e9242b;"></div>
<div class="r" style="left:911.75px;top:650.00px;width:2.60px;height:87.70px;background:#d5d66c;"></div>
<div class="r" style="left:911.75px;top:737.70px;width:2.60px;height:6.20px;background:#1f4b3a;"></div>
<div class="r" style="left:911.75px;top:743.90px;width:2.60px;height:168.60px;background:#3aa7db;"></div>
<div class="r" style="left:914.25px;top:650.00px;width:4.20px;height:262.50px;background:#b9b9b9;"></div>
<div class="r" style="left:918.45px;top:770.00px;width:6.70px;height:142.50px;background:#173c5e;"></div>
<div class="r" style="left:915.75px;top:641.00px;width:0.80px;height:9.00px;background:#8f8f8f;"></div>
<div class="r" style="left:921.25px;top:761.00px;width:0.80px;height:9.00px;background:#8f8f8f;"></div>
<div class="vl" style="left:919.0px;top:632.0px">454</div>
<div class="vl" style="left:924.5px;top:752.0px">141</div>
<div class="st" style="left:920.4px;top:747.0px"></div>
<div class="bk" style="left:911.0px"><i></i><u></u><s></s></div>
<div class="r" style="left:910.75px;top:922.90px;width:4.90px;height:74.50px;background:#9b0d16;background-image:repeating-linear-gradient(to bottom, transparent 0, transparent 6.4px, #fff 6.4px, #fff 7.6px);"></div>
<div class="r" style="left:911.05px;top:998.40px;width:1.20px;height:2.20px;background:#9b0d16;"></div>
<div class="r" style="left:912.95px;top:998.40px;width:1.20px;height:2.20px;background:#9b0d16;"></div>
<div class="r" style="left:915.65px;top:922.90px;width:4.80px;height:63.90px;background:#9cc3bd;background-image:repeating-linear-gradient(to bottom, transparent 0, transparent 6.4px, #fff 6.4px, #fff 7.6px);"></div>
<div class="r" style="left:920.45px;top:922.90px;width:5.20px;height:40.10px;background:#e9242b;background-image:repeating-linear-gradient(to bottom, transparent 0, transparent 6.4px, #fff 6.4px, #fff 7.6px);"></div>
<div class="r" style="left:920.75px;top:964.00px;width:1.20px;height:2.20px;background:#e9242b;"></div>
<div class="r" style="left:922.65px;top:964.00px;width:1.20px;height:2.20px;background:#e9242b;"></div>
<div class="r" style="left:930.30px;top:645.00px;width:2.60px;height:3.00px;background:#e39a3b;"></div>
<div class="r" style="left:930.30px;top:648.00px;width:2.60px;height:110.60px;background:#d5d66c;"></div>
<div class="r" style="left:930.30px;top:758.60px;width:2.60px;height:9.10px;background:#1f4b3a;"></div>
<div class="r" style="left:930.30px;top:767.70px;width:2.60px;height:144.80px;background:#3aa7db;"></div>
<div class="r" style="left:932.80px;top:645.00px;width:4.20px;height:267.50px;background:#b9b9b9;"></div>
<div class="r" style="left:937.00px;top:783.00px;width:6.70px;height:129.50px;background:#173c5e;"></div>
<div class="r" style="left:934.30px;top:636.00px;width:0.80px;height:9.00px;background:#8f8f8f;"></div>
<div class="r" style="left:939.80px;top:774.00px;width:0.80px;height:9.00px;background:#8f8f8f;"></div>
<div class="vl" style="left:937.5px;top:627.0px">463</div>
<div class="vl" style="left:943.0px;top:765.0px">128</div>
<div class="bk" style="left:929.5px"><i></i><u></u><s></s></div>
<div class="r" style="left:929.30px;top:922.90px;width:4.90px;height:70.60px;background:#9b0d16;background-image:repeating-linear-gradient(to bottom, transparent 0, transparent 6.4px, #fff 6.4px, #fff 7.6px);"></div>
<div class="r" style="left:929.60px;top:994.50px;width:1.20px;height:2.20px;background:#9b0d16;"></div>
<div class="r" style="left:931.50px;top:994.50px;width:1.20px;height:2.20px;background:#9b0d16;"></div>
<div class="r" style="left:934.20px;top:922.90px;width:4.80px;height:59.30px;background:#9cc3bd;background-image:repeating-linear-gradient(to bottom, transparent 0, transparent 6.4px, #fff 6.4px, #fff 7.6px);"></div>
<div class="r" style="left:939.00px;top:922.90px;width:5.20px;height:37.40px;background:#e9242b;background-image:repeating-linear-gradient(to bottom, transparent 0, transparent 6.4px, #fff 6.4px, #fff 7.6px);"></div>
<div class="r" style="left:939.30px;top:961.30px;width:1.20px;height:2.20px;background:#e9242b;"></div>
<div class="r" style="left:941.20px;top:961.30px;width:1.20px;height:2.20px;background:#e9242b;"></div>
<div class="r" style="left:948.85px;top:635.00px;width:2.60px;height:3.50px;background:#e39a3b;"></div>
<div class="r" style="left:948.85px;top:638.50px;width:2.60px;height:80.50px;background:#d5d66c;"></div>
<div class="r" style="left:948.85px;top:719.00px;width:2.60px;height:10.60px;background:#1f4b3a;"></div>
<div class="r" style="left:948.85px;top:729.60px;width:2.60px;height:182.90px;background:#3aa7db;"></div>
<div class="r" style="left:951.35px;top:635.00px;width:4.20px;height:277.50px;background:#b9b9b9;"></div>
<div class="r" style="left:955.55px;top:798.30px;width:6.70px;height:114.20px;background:#173c5e;"></div>
<div class="r" style="left:952.85px;top:626.00px;width:0.80px;height:9.00px;background:#8f8f8f;"></div>
<div class="r" style="left:958.35px;top:789.30px;width:0.80px;height:9.00px;background:#8f8f8f;"></div>
<div class="vl" style="left:956.1px;top:617.0px">480</div>
<div class="vl" style="left:961.6px;top:780.3px">113</div>
<div class="st" style="left:957.5px;top:775.3px"></div>
<div class="bk" style="left:948.1px"><i></i><u></u><s></s></div>
<div class="r" style="left:947.85px;top:922.90px;width:4.90px;height:78.50px;background:#9b0d16;background-image:repeating-linear-gradient(to bottom, transparent 0, transparent 6.4px, #fff 6.4px, #fff 7.6px);"></div>
<div class="r" style="left:948.15px;top:1002.40px;width:1.20px;height:2.20px;background:#9b0d16;"></div>
<div class="r" style="left:950.05px;top:1002.40px;width:1.20px;height:2.20px;background:#9b0d16;"></div>
<div class="r" style="left:952.75px;top:922.90px;width:4.80px;height:68.60px;background:#9cc3bd;background-image:repeating-linear-gradient(to bottom, transparent 0, transparent 6.4px, #fff 6.4px, #fff 7.6px);"></div>
<div class="r" style="left:957.55px;top:922.90px;width:5.20px;height:37.40px;background:#e9242b;background-image:repeating-linear-gradient(to bottom, transparent 0, transparent 6.4px, #fff 6.4px, #fff 7.6px);"></div>
<div class="r" style="left:957.85px;top:961.30px;width:1.20px;height:2.20px;background:#e9242b;"></div>
<div class="r" style="left:959.75px;top:961.30px;width:1.20px;height:2.20px;background:#e9242b;"></div>
<div class="r" style="left:967.40px;top:595.00px;width:2.60px;height:122.20px;background:#d5d66c;"></div>
<div class="r" style="left:967.40px;top:717.20px;width:2.60px;height:11.40px;background:#1f4b3a;"></div>
<div class="r" style="left:967.40px;top:728.60px;width:2.60px;height:183.90px;background:#3aa7db;"></div>
<div class="r" style="left:969.90px;top:595.00px;width:4.20px;height:317.50px;background:#b9b9b9;"></div>
<div class="r" style="left:974.10px;top:832.20px;width:6.70px;height:80.30px;background:#173c5e;"></div>
<div class="r" style="left:971.40px;top:586.00px;width:0.80px;height:9.00px;background:#8f8f8f;"></div>
<div class="r" style="left:976.90px;top:823.20px;width:0.80px;height:9.00px;background:#8f8f8f;"></div>
<div class="vl" style="left:974.6px;top:577.0px">549</div>
<div class="vl" style="left:980.1px;top:814.2px">79</div>
<div class="bk" style="left:966.6px"><i></i><u></u><s></s></div>
<div class="r" style="left:966.40px;top:922.90px;width:4.90px;height:70.60px;background:#9b0d16;background-image:repeating-linear-gradient(to bottom, transparent 0, transparent 6.4px, #fff 6.4px, #fff 7.6px);"></div>
<div class="r" style="left:966.70px;top:994.50px;width:1.20px;height:2.20px;background:#9b0d16;"></div>
<div class="r" style="left:968.60px;top:994.50px;width:1.20px;height:2.20px;background:#9b0d16;"></div>
<div class="r" style="left:971.30px;top:922.90px;width:4.80px;height:67.30px;background:#9cc3bd;background-image:repeating-linear-gradient(to bottom, transparent 0, transparent 6.4px, #fff 6.4px, #fff 7.6px);"></div>
<div class="r" style="left:976.10px;top:922.90px;width:5.20px;height:19.60px;background:#e9242b;background-image:repeating-linear-gradient(to bottom, transparent 0, transparent 6.4px, #fff 6.4px, #fff 7.6px);"></div>
<div class="r" style="left:976.40px;top:943.50px;width:1.20px;height:2.20px;background:#e9242b;"></div>
<div class="r" style="left:978.30px;top:943.50px;width:1.20px;height:2.20px;background:#e9242b;"></div>
<div class="r" style="left:985.95px;top:553.90px;width:2.60px;height:3.10px;background:#e39a3b;"></div>
<div class="r" style="left:985.95px;top:557.00px;width:2.60px;height:104.70px;background:#d5d66c;"></div>
<div class="r" style="left:985.95px;top:661.70px;width:2.60px;height:18.30px;background:#1f4b3a;"></div>
<div class="r" style="left:985.95px;top:680.00px;width:2.60px;height:232.50px;background:#3aa7db;"></div>
<div class="r" style="left:988.45px;top:553.90px;width:4.20px;height:358.60px;background:#b9b9b9;"></div>
<div class="r" style="left:992.65px;top:790.00px;width:6.70px;height:122.50px;background:#173c5e;"></div>
<div class="r" style="left:989.95px;top:544.90px;width:0.80px;height:9.00px;background:#8f8f8f;"></div>
<div class="r" style="left:995.45px;top:781.00px;width:0.80px;height:9.00px;background:#8f8f8f;"></div>
<div class="vl" style="left:993.2px;top:535.9px">620</div>
<div class="vl" style="left:998.7px;top:772.0px">121</div>
<div class="st" style="left:994.6px;top:767.0px"></div>
<div class="bk" style="left:985.2px"><i></i><u></u><s></s></div>
<div class="r" style="left:984.95px;top:922.90px;width:4.90px;height:74.50px;background:#9b0d16;background-image:repeating-linear-gradient(to bottom, transparent 0, transparent 6.4px, #fff 6.4px, #fff 7.6px);"></div>
<div class="r" style="left:985.25px;top:998.40px;width:1.20px;height:2.20px;background:#9b0d16;"></div>
<div class="r" style="left:987.15px;top:998.40px;width:1.20px;height:2.20px;background:#9b0d16;"></div>
<div class="r" style="left:989.85px;top:922.90px;width:4.80px;height:67.30px;background:#9cc3bd;background-image:repeating-linear-gradient(to bottom, transparent 0, transparent 6.4px, #fff 6.4px, #fff 7.6px);"></div>
<div class="r" style="left:994.65px;top:922.90px;width:5.20px;height:33.50px;background:#e9242b;background-image:repeating-linear-gradient(to bottom, transparent 0, transparent 6.4px, #fff 6.4px, #fff 7.6px);"></div>
<div class="r" style="left:994.95px;top:957.40px;width:1.20px;height:2.20px;background:#e9242b;"></div>
<div class="r" style="left:996.85px;top:957.40px;width:1.20px;height:2.20px;background:#e9242b;"></div>
<div class="r" style="left:1004.50px;top:434.20px;width:2.60px;height:2.80px;background:#e39a3b;"></div>
<div class="r" style="left:1004.50px;top:437.00px;width:2.60px;height:153.50px;background:#d5d66c;"></div>
<div class="r" style="left:1004.50px;top:590.50px;width:2.60px;height:10.30px;background:#1f4b3a;"></div>
<div class="r" style="left:1004.50px;top:600.80px;width:2.60px;height:311.70px;background:#3aa7db;"></div>
<div class="r" style="left:1007.00px;top:434.20px;width:4.20px;height:478.30px;background:#b9b9b9;"></div>
<div class="r" style="left:1011.20px;top:776.80px;width:6.70px;height:135.70px;background:#173c5e;"></div>
<div class="r" style="left:1008.50px;top:425.20px;width:0.80px;height:9.00px;background:#8f8f8f;"></div>
<div class="r" style="left:1014.00px;top:767.80px;width:0.80px;height:9.00px;background:#8f8f8f;"></div>
<div class="vl" style="left:1011.7px;top:416.2px">827</div>
<div class="vl" style="left:1017.2px;top:758.8px">134</div>
<div class="st" style="left:1013.1px;top:753.8px"></div>
<div class="st" style="left:1013.1px;top:749.6px"></div>
<div class="st" style="left:1013.1px;top:745.4px"></div>
<div class="st" style="left:1013.1px;top:741.2px"></div>
<div class="st" style="left:1013.1px;top:737.0px"></div>
<div class="bk" style="left:1003.7px"><i></i><u></u><s></s></div>
<div class="r" style="left:1003.50px;top:922.90px;width:4.90px;height:95.10px;background:#9b0d16;background-image:repeating-linear-gradient(to bottom, transparent 0, transparent 6.4px, #fff 6.4px, #fff 7.6px);"></div>
<div class="r" style="left:1003.80px;top:1019.00px;width:1.20px;height:2.20px;background:#9b0d16;"></div>
<div class="r" style="left:1005.70px;top:1019.00px;width:1.20px;height:2.20px;background:#9b0d16;"></div>
<div class="r" style="left:1008.40px;top:922.90px;width:4.80px;height:84.50px;background:#9cc3bd;background-image:repeating-linear-gradient(to bottom, transparent 0, transparent 6.4px, #fff 6.4px, #fff 7.6px);"></div>
<div class="r" style="left:1013.20px;top:922.90px;width:5.20px;height:29.50px;background:#e9242b;background-image:repeating-linear-gradient(to bottom, transparent 0, transparent 6.4px, #fff 6.4px, #fff 7.6px);"></div>
<div class="r" style="left:1013.50px;top:953.40px;width:1.20px;height:2.20px;background:#e9242b;"></div>
<div class="r" style="left:1015.40px;top:953.40px;width:1.20px;height:2.20px;background:#e9242b;"></div>
<div class="r" style="left:1023.05px;top:441.00px;width:2.60px;height:3.00px;background:#e39a3b;"></div>
<div class="r" style="left:1023.05px;top:444.00px;width:2.60px;height:192.30px;background:#d5d66c;"></div>
<div class="r" style="left:1023.05px;top:636.30px;width:2.60px;height:9.40px;background:#1f4b3a;"></div>
<div class="r" style="left:1023.05px;top:645.70px;width:2.60px;height:266.80px;background:#3aa7db;"></div>
<div class="r" style="left:1025.55px;top:441.00px;width:4.20px;height:471.50px;background:#b9b9b9;"></div>
<div class="r" style="left:1029.75px;top:712.80px;width:6.70px;height:199.70px;background:#173c5e;"></div>
<div class="r" style="left:1027.05px;top:432.00px;width:0.80px;height:9.00px;background:#8f8f8f;"></div>
<div class="r" style="left:1032.55px;top:703.80px;width:0.80px;height:9.00px;background:#8f8f8f;"></div>
<div class="vl" style="left:1030.2px;top:423.0px">816</div>
<div class="vl" style="left:1035.8px;top:694.8px">198</div>
<div class="bk" style="left:1022.3px"><i></i><u></u><s></s></div>
<div class="r" style="left:1022.05px;top:922.90px;width:4.90px;height:95.10px;background:#9b0d16;background-image:repeating-linear-gradient(to bottom, transparent 0, transparent 6.4px, #fff 6.4px, #fff 7.6px);"></div>
<div class="r" style="left:1022.35px;top:1019.00px;width:1.20px;height:2.20px;background:#9b0d16;"></div>
<div class="r" style="left:1024.25px;top:1019.00px;width:1.20px;height:2.20px;background:#9b0d16;"></div>
<div class="r" style="left:1026.95px;top:922.90px;width:4.80px;height:81.10px;background:#9cc3bd;background-image:repeating-linear-gradient(to bottom, transparent 0, transparent 6.4px, #fff 6.4px, #fff 7.6px);"></div>
<div class="r" style="left:1031.75px;top:922.90px;width:5.20px;height:50.00px;background:#e9242b;background-image:repeating-linear-gradient(to bottom, transparent 0, transparent 6.4px, #fff 6.4px, #fff 7.6px);"></div>
<div class="r" style="left:1032.05px;top:973.90px;width:1.20px;height:2.20px;background:#e9242b;"></div>
<div class="r" style="left:1033.95px;top:973.90px;width:1.20px;height:2.20px;background:#e9242b;"></div>
<div class="r" style="left:1041.60px;top:582.00px;width:2.60px;height:3.00px;background:#e39a3b;"></div>
<div class="r" style="left:1041.60px;top:585.00px;width:2.60px;height:134.00px;background:#d5d66c;"></div>
<div class="r" style="left:1041.60px;top:719.00px;width:2.60px;height:6.80px;background:#1f4b3a;"></div>
<div class="r" style="left:1041.60px;top:725.80px;width:2.60px;height:186.70px;background:#3aa7db;"></div>
<div class="r" style="left:1044.10px;top:582.00px;width:4.20px;height:330.50px;background:#b9b9b9;"></div>
<div class="r" style="left:1048.30px;top:783.00px;width:6.70px;height:129.50px;background:#173c5e;"></div>
<div class="r" style="left:1045.60px;top:573.00px;width:0.80px;height:9.00px;background:#8f8f8f;"></div>
<div class="r" style="left:1051.10px;top:774.00px;width:0.80px;height:9.00px;background:#8f8f8f;"></div>
<div class="vl" style="left:1048.8px;top:564.0px">572</div>
<div class="vl" style="left:1054.3px;top:765.0px">128</div>
<div class="st" style="left:1050.2px;top:760.0px"></div>
<div class="bk" style="left:1040.8px"><i></i><u></u><s></s></div>
<div class="r" style="left:1040.60px;top:922.90px;width:4.90px;height:70.60px;background:#9b0d16;background-image:repeating-linear-gradient(to bottom, transparent 0, transparent 6.4px, #fff 6.4px, #fff 7.6px);"></div>
<div class="r" style="left:1040.90px;top:994.50px;width:1.20px;height:2.20px;background:#9b0d16;"></div>
<div class="r" style="left:1042.80px;top:994.50px;width:1.20px;height:2.20px;background:#9b0d16;"></div>
<div class="r" style="left:1045.50px;top:922.90px;width:4.80px;height:60.00px;background:#9cc3bd;background-image:repeating-linear-gradient(to bottom, transparent 0, transparent 6.4px, #fff 6.4px, #fff 7.6px);"></div>
<div class="r" style="left:1050.30px;top:922.90px;width:5.20px;height:37.40px;background:#e9242b;background-image:repeating-linear-gradient(to bottom, transparent 0, transparent 6.4px, #fff 6.4px, #fff 7.6px);"></div>
<div class="r" style="left:1050.60px;top:961.30px;width:1.20px;height:2.20px;background:#e9242b;"></div>
<div class="r" style="left:1052.50px;top:961.30px;width:1.20px;height:2.20px;background:#e9242b;"></div>
<div class="r" style="left:1060.15px;top:486.00px;width:2.60px;height:3.00px;background:#e39a3b;"></div>
<div class="r" style="left:1060.15px;top:489.00px;width:2.60px;height:123.20px;background:#d5d66c;"></div>
<div class="r" style="left:1060.15px;top:612.20px;width:2.60px;height:14.80px;background:#1f4b3a;"></div>
<div class="r" style="left:1060.15px;top:627.00px;width:2.60px;height:285.50px;background:#3aa7db;"></div>
<div class="r" style="left:1062.65px;top:486.00px;width:4.20px;height:426.50px;background:#b9b9b9;"></div>
<div class="r" style="left:1066.85px;top:700.00px;width:6.70px;height:212.50px;background:#173c5e;"></div>
<div class="r" style="left:1064.15px;top:477.00px;width:0.80px;height:9.00px;background:#8f8f8f;"></div>
<div class="r" style="left:1069.65px;top:691.00px;width:0.80px;height:9.00px;background:#8f8f8f;"></div>
<div class="vl" style="left:1067.4px;top:468.0px">738</div>
<div class="vl" style="left:1072.9px;top:682.0px">210</div>
<div class="st" style="left:1068.8px;top:677.0px"></div>
<div class="bk" style="left:1059.4px"><i></i><u></u><s></s></div>
<div class="r" style="left:1059.15px;top:922.90px;width:4.90px;height:81.10px;background:#9b0d16;background-image:repeating-linear-gradient(to bottom, transparent 0, transparent 6.4px, #fff 6.4px, #fff 7.6px);"></div>
<div class="r" style="left:1059.45px;top:1005.00px;width:1.20px;height:2.20px;background:#9b0d16;"></div>
<div class="r" style="left:1061.35px;top:1005.00px;width:1.20px;height:2.20px;background:#9b0d16;"></div>
<div class="r" style="left:1064.05px;top:922.90px;width:4.80px;height:67.30px;background:#9cc3bd;background-image:repeating-linear-gradient(to bottom, transparent 0, transparent 6.4px, #fff 6.4px, #fff 7.6px);"></div>
<div class="r" style="left:1068.85px;top:922.90px;width:5.20px;height:47.40px;background:#e9242b;background-image:repeating-linear-gradient(to bottom, transparent 0, transparent 6.4px, #fff 6.4px, #fff 7.6px);"></div>
<div class="r" style="left:1069.15px;top:971.30px;width:1.20px;height:2.20px;background:#e9242b;"></div>
<div class="r" style="left:1071.05px;top:971.30px;width:1.20px;height:2.20px;background:#e9242b;"></div>
<div class="r" style="left:1099.90px;top:521.60px;width:2.60px;height:5.40px;background:#e39a3b;"></div>
<div class="r" style="left:1099.90px;top:527.00px;width:2.60px;height:85.40px;background:#d5d66c;"></div>
<div class="r" style="left:1099.90px;top:612.40px;width:2.60px;height:2.60px;background:#1f4b3a;"></div>
<div class="r" style="left:1099.90px;top:615.00px;width:2.60px;height:297.50px;background:#3aa7db;"></div>
<div class="r" style="left:1102.40px;top:521.60px;width:4.20px;height:390.90px;background:#b9b9b9;"></div>
<div class="r" style="left:1106.60px;top:795.00px;width:6.70px;height:117.50px;background:#173c5e;"></div>
<div class="r" style="left:1103.90px;top:512.60px;width:0.80px;height:9.00px;background:#8f8f8f;"></div>
<div class="r" style="left:1109.40px;top:786.00px;width:0.80px;height:9.00px;background:#8f8f8f;"></div>
<div class="vl" style="left:1107.1px;top:503.6px">676</div>
<div class="vl" style="left:1112.6px;top:777.0px">116</div>
<div class="st" style="left:1108.5px;top:772.0px"></div>
<div class="st" style="left:1108.5px;top:767.8px"></div>
<div class="st" style="left:1108.5px;top:763.6px"></div>
<div class="st" style="left:1108.5px;top:759.4px"></div>
<div class="bk" style="left:1099.1px"><i></i><u></u><s></s></div>
<div class="r" style="left:1098.90px;top:922.90px;width:4.90px;height:78.50px;background:#9b0d16;background-image:repeating-linear-gradient(to bottom, transparent 0, transparent 6.4px, #fff 6.4px, #fff 7.6px);"></div>
<div class="r" style="left:1099.20px;top:1002.40px;width:1.20px;height:2.20px;background:#9b0d16;"></div>
<div class="r" style="left:1101.10px;top:1002.40px;width:1.20px;height:2.20px;background:#9b0d16;"></div>
<div class="r" style="left:1103.80px;top:922.90px;width:4.80px;height:67.90px;background:#9cc3bd;background-image:repeating-linear-gradient(to bottom, transparent 0, transparent 6.4px, #fff 6.4px, #fff 7.6px);"></div>
<div class="r" style="left:1108.60px;top:922.90px;width:5.20px;height:33.50px;background:#e9242b;background-image:repeating-linear-gradient(to bottom, transparent 0, transparent 6.4px, #fff 6.4px, #fff 7.6px);"></div>
<div class="r" style="left:1108.90px;top:957.40px;width:1.20px;height:2.20px;background:#e9242b;"></div>
<div class="r" style="left:1110.80px;top:957.40px;width:1.20px;height:2.20px;background:#e9242b;"></div>
<div class="r" style="left:1118.55px;top:596.30px;width:2.60px;height:101.50px;background:#d5d66c;"></div>
<div class="r" style="left:1118.55px;top:697.80px;width:2.60px;height:5.20px;background:#1f4b3a;"></div>
<div class="r" style="left:1118.55px;top:703.00px;width:2.60px;height:209.50px;background:#3aa7db;"></div>
<div class="r" style="left:1121.05px;top:596.30px;width:4.20px;height:316.20px;background:#b9b9b9;"></div>
<div class="r" style="left:1125.25px;top:798.30px;width:6.70px;height:114.20px;background:#173c5e;"></div>
<div class="r" style="left:1122.55px;top:587.30px;width:0.80px;height:9.00px;background:#8f8f8f;"></div>
<div class="r" style="left:1128.05px;top:789.30px;width:0.80px;height:9.00px;background:#8f8f8f;"></div>
<div class="vl" style="left:1125.8px;top:578.3px">547</div>
<div class="vl" style="left:1131.3px;top:780.3px">113</div>
<div class="st" style="left:1127.2px;top:775.3px"></div>
<div class="st" style="left:1127.2px;top:771.1px"></div>
<div class="st" style="left:1127.2px;top:766.9px"></div>
<div class="bk" style="left:1117.8px"><i></i><u></u><s></s></div>
<div class="r" style="left:1117.55px;top:922.90px;width:4.90px;height:71.90px;background:#9b0d16;background-image:repeating-linear-gradient(to bottom, transparent 0, transparent 6.4px, #fff 6.4px, #fff 7.6px);"></div>
<div class="r" style="left:1117.85px;top:995.80px;width:1.20px;height:2.20px;background:#9b0d16;"></div>
<div class="r" style="left:1119.75px;top:995.80px;width:1.20px;height:2.20px;background:#9b0d16;"></div>
<div class="r" style="left:1122.45px;top:922.90px;width:4.80px;height:61.30px;background:#9cc3bd;background-image:repeating-linear-gradient(to bottom, transparent 0, transparent 6.4px, #fff 6.4px, #fff 7.6px);"></div>
<div class="r" style="left:1127.25px;top:922.90px;width:5.20px;height:29.50px;background:#e9242b;background-image:repeating-linear-gradient(to bottom, transparent 0, transparent 6.4px, #fff 6.4px, #fff 7.6px);"></div>
<div class="r" style="left:1127.55px;top:953.40px;width:1.20px;height:2.20px;background:#e9242b;"></div>
<div class="r" style="left:1129.45px;top:953.40px;width:1.20px;height:2.20px;background:#e9242b;"></div>
<div class="r" style="left:1137.20px;top:538.00px;width:2.60px;height:6.00px;background:#e39a3b;"></div>
<div class="r" style="left:1137.20px;top:544.00px;width:2.60px;height:94.00px;background:#d5d66c;"></div>
<div class="r" style="left:1137.20px;top:638.00px;width:2.60px;height:9.00px;background:#1f4b3a;"></div>
<div class="r" style="left:1137.20px;top:647.00px;width:2.60px;height:265.50px;background:#3aa7db;"></div>
<div class="r" style="left:1139.70px;top:538.00px;width:4.20px;height:374.50px;background:#b9b9b9;"></div>
<div class="r" style="left:1143.90px;top:797.80px;width:6.70px;height:114.70px;background:#173c5e;"></div>
<div class="r" style="left:1141.20px;top:529.00px;width:0.80px;height:9.00px;background:#8f8f8f;"></div>
<div class="r" style="left:1146.70px;top:788.80px;width:0.80px;height:9.00px;background:#8f8f8f;"></div>
<div class="vl" style="left:1144.4px;top:520.0px">648</div>
<div class="vl" style="left:1149.9px;top:779.8px">114</div>
<div class="st" style="left:1145.8px;top:774.8px"></div>
<div class="st" style="left:1145.8px;top:770.6px"></div>
<div class="bk" style="left:1136.4px"><i></i><u></u><s></s></div>
<div class="r" style="left:1136.20px;top:922.90px;width:4.90px;height:78.50px;background:#9b0d16;background-image:repeating-linear-gradient(to bottom, transparent 0, transparent 6.4px, #fff 6.4px, #fff 7.6px);"></div>
<div class="r" style="left:1136.50px;top:1002.40px;width:1.20px;height:2.20px;background:#9b0d16;"></div>
<div class="r" style="left:1138.40px;top:1002.40px;width:1.20px;height:2.20px;background:#9b0d16;"></div>
<div class="r" style="left:1141.10px;top:922.90px;width:4.80px;height:67.30px;background:#9cc3bd;background-image:repeating-linear-gradient(to bottom, transparent 0, transparent 6.4px, #fff 6.4px, #fff 7.6px);"></div>
<div class="r" style="left:1145.90px;top:922.90px;width:5.20px;height:40.10px;background:#e9242b;background-image:repeating-linear-gradient(to bottom, transparent 0, transparent 6.4px, #fff 6.4px, #fff 7.6px);"></div>
<div class="r" style="left:1146.20px;top:964.00px;width:1.20px;height:2.20px;background:#e9242b;"></div>
<div class="r" style="left:1148.10px;top:964.00px;width:1.20px;height:2.20px;background:#e9242b;"></div>
<div class="r" style="left:1155.85px;top:519.00px;width:2.60px;height:4.50px;background:#e39a3b;"></div>
<div class="r" style="left:1155.85px;top:523.50px;width:2.60px;height:80.10px;background:#d5d66c;"></div>
<div class="r" style="left:1155.85px;top:603.60px;width:2.60px;height:5.70px;background:#1f4b3a;"></div>
<div class="r" style="left:1155.85px;top:609.30px;width:2.60px;height:303.20px;background:#3aa7db;"></div>
<div class="r" style="left:1158.35px;top:519.00px;width:4.20px;height:393.50px;background:#b9b9b9;"></div>
<div class="r" style="left:1162.55px;top:765.80px;width:6.70px;height:146.70px;background:#173c5e;"></div>
<div class="r" style="left:1159.85px;top:510.00px;width:0.80px;height:9.00px;background:#8f8f8f;"></div>
<div class="r" style="left:1165.35px;top:756.80px;width:0.80px;height:9.00px;background:#8f8f8f;"></div>
<div class="vl" style="left:1163.1px;top:501.0px">681</div>
<div class="vl" style="left:1168.6px;top:747.8px">145</div>
<div class="bk" style="left:1155.1px"><i></i><u></u><s></s></div>
<div class="r" style="left:1154.85px;top:922.90px;width:4.90px;height:84.50px;background:#9b0d16;background-image:repeating-linear-gradient(to bottom, transparent 0, transparent 6.4px, #fff 6.4px, #fff 7.6px);"></div>
<div class="r" style="left:1155.15px;top:1008.40px;width:1.20px;height:2.20px;background:#9b0d16;"></div>
<div class="r" style="left:1157.05px;top:1008.40px;width:1.20px;height:2.20px;background:#9b0d16;"></div>
<div class="r" style="left:1159.75px;top:922.90px;width:4.80px;height:70.60px;background:#9cc3bd;background-image:repeating-linear-gradient(to bottom, transparent 0, transparent 6.4px, #fff 6.4px, #fff 7.6px);"></div>
<div class="r" style="left:1164.55px;top:922.90px;width:5.20px;height:53.30px;background:#e9242b;background-image:repeating-linear-gradient(to bottom, transparent 0, transparent 6.4px, #fff 6.4px, #fff 7.6px);"></div>
<div class="r" style="left:1164.85px;top:977.20px;width:1.20px;height:2.20px;background:#e9242b;"></div>
<div class="r" style="left:1166.75px;top:977.20px;width:1.20px;height:2.20px;background:#e9242b;"></div>
<div class="r" style="left:1174.50px;top:517.80px;width:2.60px;height:41.20px;background:#d5d66c;"></div>
<div class="r" style="left:1174.50px;top:559.00px;width:2.60px;height:3.00px;background:#1f4b3a;"></div>
<div class="r" style="left:1174.50px;top:562.00px;width:2.60px;height:350.50px;background:#3aa7db;"></div>
<div class="r" style="left:1177.00px;top:517.80px;width:4.20px;height:394.70px;background:#b9b9b9;"></div>
<div class="r" style="left:1181.20px;top:733.60px;width:6.70px;height:178.90px;background:#173c5e;"></div>
<div class="r" style="left:1178.50px;top:508.80px;width:0.80px;height:9.00px;background:#8f8f8f;"></div>
<div class="r" style="left:1184.00px;top:724.60px;width:0.80px;height:9.00px;background:#8f8f8f;"></div>
<div class="vl" style="left:1181.7px;top:499.8px">683</div>
<div class="vl" style="left:1187.2px;top:715.6px">177</div>
<div class="st" style="left:1183.1px;top:710.6px"></div>
<div class="bk" style="left:1173.7px"><i></i><u></u><s></s></div>
<div class="r" style="left:1173.50px;top:922.90px;width:4.90px;height:102.40px;background:#9b0d16;background-image:repeating-linear-gradient(to bottom, transparent 0, transparent 6.4px, #fff 6.4px, #fff 7.6px);"></div>
<div class="r" style="left:1173.80px;top:1026.30px;width:1.20px;height:2.20px;background:#9b0d16;"></div>
<div class="r" style="left:1175.70px;top:1026.30px;width:1.20px;height:2.20px;background:#9b0d16;"></div>
<div class="r" style="left:1178.40px;top:922.90px;width:4.80px;height:85.10px;background:#9cc3bd;background-image:repeating-linear-gradient(to bottom, transparent 0, transparent 6.4px, #fff 6.4px, #fff 7.6px);"></div>
<div class="r" style="left:1183.20px;top:922.90px;width:5.20px;height:66.60px;background:#e9242b;background-image:repeating-linear-gradient(to bottom, transparent 0, transparent 6.4px, #fff 6.4px, #fff 7.6px);"></div>
<div class="r" style="left:1183.50px;top:990.50px;width:1.20px;height:2.20px;background:#e9242b;"></div>
<div class="r" style="left:1185.40px;top:990.50px;width:1.20px;height:2.20px;background:#e9242b;"></div>
<div class="r" style="left:1193.15px;top:456.40px;width:2.60px;height:6.60px;background:#e39a3b;"></div>
<div class="r" style="left:1193.15px;top:463.00px;width:2.60px;height:61.20px;background:#d5d66c;"></div>
<div class="r" style="left:1193.15px;top:524.20px;width:2.60px;height:5.80px;background:#1f4b3a;"></div>
<div class="r" style="left:1193.15px;top:530.00px;width:2.60px;height:382.50px;background:#3aa7db;"></div>
<div class="r" style="left:1195.65px;top:456.40px;width:4.20px;height:456.10px;background:#b9b9b9;"></div>
<div class="r" style="left:1199.85px;top:770.00px;width:6.70px;height:142.50px;background:#173c5e;"></div>
<div class="r" style="left:1197.15px;top:447.40px;width:0.80px;height:9.00px;background:#8f8f8f;"></div>
<div class="r" style="left:1202.65px;top:761.00px;width:0.80px;height:9.00px;background:#8f8f8f;"></div>
<div class="vl" style="left:1200.4px;top:438.4px">789</div>
<div class="vl" style="left:1205.9px;top:752.0px">141</div>
<div class="st" style="left:1201.8px;top:747.0px"></div>
<div class="st" style="left:1201.8px;top:742.8px"></div>
<div class="bk" style="left:1192.4px"><i></i><u></u><s></s></div>
<div class="r" style="left:1192.15px;top:922.90px;width:4.90px;height:112.30px;background:#9b0d16;background-image:repeating-linear-gradient(to bottom, transparent 0, transparent 6.4px, #fff 6.4px, #fff 7.6px);"></div>
<div class="r" style="left:1192.45px;top:1036.20px;width:1.20px;height:2.20px;background:#9b0d16;"></div>
<div class="r" style="left:1194.35px;top:1036.20px;width:1.20px;height:2.20px;background:#9b0d16;"></div>
<div class="r" style="left:1197.05px;top:922.90px;width:4.80px;height:98.40px;background:#9cc3bd;background-image:repeating-linear-gradient(to bottom, transparent 0, transparent 6.4px, #fff 6.4px, #fff 7.6px);"></div>
<div class="r" style="left:1201.85px;top:922.90px;width:5.20px;height:57.30px;background:#e9242b;background-image:repeating-linear-gradient(to bottom, transparent 0, transparent 6.4px, #fff 6.4px, #fff 7.6px);"></div>
<div class="r" style="left:1202.15px;top:981.20px;width:1.20px;height:2.20px;background:#e9242b;"></div>
<div class="r" style="left:1204.05px;top:981.20px;width:1.20px;height:2.20px;background:#e9242b;"></div>
<div class="r" style="left:1211.80px;top:540.00px;width:2.60px;height:6.30px;background:#e39a3b;"></div>
<div class="r" style="left:1211.80px;top:546.30px;width:2.60px;height:69.80px;background:#d5d66c;"></div>
<div class="r" style="left:1211.80px;top:616.10px;width:2.60px;height:6.90px;background:#1f4b3a;"></div>
<div class="r" style="left:1211.80px;top:623.00px;width:2.60px;height:289.50px;background:#3aa7db;"></div>
<div class="r" style="left:1214.30px;top:540.00px;width:4.20px;height:372.50px;background:#b9b9b9;"></div>
<div class="r" style="left:1218.50px;top:799.00px;width:6.70px;height:113.50px;background:#173c5e;"></div>
<div class="r" style="left:1215.80px;top:531.00px;width:0.80px;height:9.00px;background:#8f8f8f;"></div>
<div class="r" style="left:1221.30px;top:790.00px;width:0.80px;height:9.00px;background:#8f8f8f;"></div>
<div class="vl" style="left:1219.0px;top:522.0px">644</div>
<div class="vl" style="left:1224.5px;top:781.0px">112</div>
<div class="st" style="left:1220.4px;top:776.0px"></div>
<div class="st" style="left:1220.4px;top:771.8px"></div>
<div class="st" style="left:1220.4px;top:767.6px"></div>
<div class="bk" style="left:1211.0px"><i></i><u></u><s></s></div>
<div class="r" style="left:1210.80px;top:922.90px;width:4.90px;height:84.50px;background:#9b0d16;background-image:repeating-linear-gradient(to bottom, transparent 0, transparent 6.4px, #fff 6.4px, #fff 7.6px);"></div>
<div class="r" style="left:1211.10px;top:1008.40px;width:1.20px;height:2.20px;background:#9b0d16;"></div>
<div class="r" style="left:1213.00px;top:1008.40px;width:1.20px;height:2.20px;background:#9b0d16;"></div>
<div class="r" style="left:1215.70px;top:922.90px;width:4.80px;height:74.50px;background:#9cc3bd;background-image:repeating-linear-gradient(to bottom, transparent 0, transparent 6.4px, #fff 6.4px, #fff 7.6px);"></div>
<div class="r" style="left:1220.50px;top:922.90px;width:5.20px;height:32.80px;background:#e9242b;background-image:repeating-linear-gradient(to bottom, transparent 0, transparent 6.4px, #fff 6.4px, #fff 7.6px);"></div>
<div class="r" style="left:1220.80px;top:956.70px;width:1.20px;height:2.20px;background:#e9242b;"></div>
<div class="r" style="left:1222.70px;top:956.70px;width:1.20px;height:2.20px;background:#e9242b;"></div>
<div class="r" style="left:1230.45px;top:565.80px;width:2.60px;height:64.00px;background:#d5d66c;"></div>
<div class="r" style="left:1230.45px;top:629.80px;width:2.60px;height:6.90px;background:#1f4b3a;"></div>
<div class="r" style="left:1230.45px;top:636.70px;width:2.60px;height:275.80px;background:#3aa7db;"></div>
<div class="r" style="left:1232.95px;top:565.80px;width:4.20px;height:346.70px;background:#b9b9b9;"></div>
<div class="r" style="left:1237.15px;top:793.70px;width:6.70px;height:118.80px;background:#173c5e;"></div>
<div class="r" style="left:1234.45px;top:556.80px;width:0.80px;height:9.00px;background:#8f8f8f;"></div>
<div class="r" style="left:1239.95px;top:784.70px;width:0.80px;height:9.00px;background:#8f8f8f;"></div>
<div class="vl" style="left:1237.7px;top:547.8px">600</div>
<div class="vl" style="left:1243.2px;top:775.7px">118</div>
<div class="st" style="left:1239.0px;top:770.7px"></div>
<div class="st" style="left:1239.0px;top:766.5px"></div>
<div class="st" style="left:1239.0px;top:762.3px"></div>
<div class="st" style="left:1239.0px;top:758.1px"></div>
<div class="bk" style="left:1229.7px"><i></i><u></u><s></s></div>
<div class="r" style="left:1229.45px;top:922.90px;width:4.90px;height:78.50px;background:#9b0d16;background-image:repeating-linear-gradient(to bottom, transparent 0, transparent 6.4px, #fff 6.4px, #fff 7.6px);"></div>
<div class="r" style="left:1229.75px;top:1002.40px;width:1.20px;height:2.20px;background:#9b0d16;"></div>
<div class="r" style="left:1231.65px;top:1002.40px;width:1.20px;height:2.20px;background:#9b0d16;"></div>
<div class="r" style="left:1234.35px;top:922.90px;width:4.80px;height:67.90px;background:#9cc3bd;background-image:repeating-linear-gradient(to bottom, transparent 0, transparent 6.4px, #fff 6.4px, #fff 7.6px);"></div>
<div class="r" style="left:1239.15px;top:922.90px;width:5.20px;height:25.50px;background:#e9242b;background-image:repeating-linear-gradient(to bottom, transparent 0, transparent 6.4px, #fff 6.4px, #fff 7.6px);"></div>
<div class="r" style="left:1239.45px;top:949.40px;width:1.20px;height:2.20px;background:#e9242b;"></div>
<div class="r" style="left:1241.35px;top:949.40px;width:1.20px;height:2.20px;background:#e9242b;"></div>
<div class="r" style="left:1249.10px;top:692.50px;width:2.60px;height:8.00px;background:#e39a3b;"></div>
<div class="r" style="left:1249.10px;top:700.50px;width:2.60px;height:8.00px;background:#d5d66c;"></div>
<div class="r" style="left:1249.10px;top:708.50px;width:2.60px;height:2.50px;background:#1f4b3a;"></div>
<div class="r" style="left:1249.10px;top:711.00px;width:2.60px;height:201.50px;background:#3aa7db;"></div>
<div class="r" style="left:1251.60px;top:692.50px;width:4.20px;height:220.00px;background:#b9b9b9;"></div>
<div class="r" style="left:1255.80px;top:819.10px;width:6.70px;height:93.40px;background:#173c5e;"></div>
<div class="r" style="left:1253.10px;top:683.50px;width:0.80px;height:9.00px;background:#8f8f8f;"></div>
<div class="r" style="left:1258.60px;top:810.10px;width:0.80px;height:9.00px;background:#8f8f8f;"></div>
<div class="vl" style="left:1256.3px;top:674.5px">381</div>
<div class="vl" style="left:1261.8px;top:801.1px">92</div>
<div class="st" style="left:1257.7px;top:796.1px"></div>
<div class="st" style="left:1257.7px;top:791.9px"></div>
<div class="st" style="left:1257.7px;top:787.7px"></div>
<div class="bk" style="left:1248.3px"><i></i><u></u><s></s></div>
<div class="r" style="left:1248.10px;top:922.90px;width:4.90px;height:48.10px;background:#9b0d16;background-image:repeating-linear-gradient(to bottom, transparent 0, transparent 6.4px, #fff 6.4px, #fff 7.6px);"></div>
<div class="r" style="left:1248.40px;top:972.00px;width:1.20px;height:2.20px;background:#9b0d16;"></div>
<div class="r" style="left:1250.30px;top:972.00px;width:1.20px;height:2.20px;background:#9b0d16;"></div>
<div class="r" style="left:1253.00px;top:922.90px;width:4.80px;height:40.10px;background:#9cc3bd;background-image:repeating-linear-gradient(to bottom, transparent 0, transparent 6.4px, #fff 6.4px, #fff 7.6px);"></div>
<div class="r" style="left:1257.80px;top:922.90px;width:5.20px;height:19.60px;background:#e9242b;background-image:repeating-linear-gradient(to bottom, transparent 0, transparent 6.4px, #fff 6.4px, #fff 7.6px);"></div>
<div class="r" style="left:1258.10px;top:943.50px;width:1.20px;height:2.20px;background:#e9242b;"></div>
<div class="r" style="left:1260.00px;top:943.50px;width:1.20px;height:2.20px;background:#e9242b;"></div>
<div class="r" style="left:1267.75px;top:729.90px;width:2.60px;height:5.10px;background:#e39a3b;"></div>
<div class="r" style="left:1267.75px;top:735.00px;width:2.60px;height:8.00px;background:#d5d66c;"></div>
<div class="r" style="left:1267.75px;top:743.00px;width:2.60px;height:169.50px;background:#3aa7db;"></div>
<div class="r" style="left:1270.25px;top:729.90px;width:4.20px;height:182.60px;background:#b9b9b9;"></div>
<div class="r" style="left:1274.45px;top:859.20px;width:6.70px;height:53.30px;background:#173c5e;"></div>
<div class="r" style="left:1271.75px;top:720.90px;width:0.80px;height:9.00px;background:#8f8f8f;"></div>
<div class="r" style="left:1277.25px;top:850.20px;width:0.80px;height:9.00px;background:#8f8f8f;"></div>
<div class="vl" style="left:1275.0px;top:711.9px">316</div>
<div class="vl" style="left:1280.5px;top:841.2px">53</div>
<div class="st" style="left:1276.3px;top:836.2px"></div>
<div class="st" style="left:1276.3px;top:832.0px"></div>
<div class="st" style="left:1276.3px;top:827.8px"></div>
<div class="bk" style="left:1267.0px"><i></i><u></u><s></s></div>
<div class="r" style="left:1266.75px;top:922.90px;width:4.90px;height:37.40px;background:#9b0d16;background-image:repeating-linear-gradient(to bottom, transparent 0, transparent 6.4px, #fff 6.4px, #fff 7.6px);"></div>
<div class="r" style="left:1267.05px;top:961.30px;width:1.20px;height:2.20px;background:#9b0d16;"></div>
<div class="r" style="left:1268.95px;top:961.30px;width:1.20px;height:2.20px;background:#9b0d16;"></div>
<div class="r" style="left:1271.65px;top:922.90px;width:4.80px;height:29.50px;background:#9cc3bd;background-image:repeating-linear-gradient(to bottom, transparent 0, transparent 6.4px, #fff 6.4px, #fff 7.6px);"></div>
<div class="r" style="left:1276.45px;top:922.90px;width:5.20px;height:12.90px;background:#e9242b;background-image:repeating-linear-gradient(to bottom, transparent 0, transparent 6.4px, #fff 6.4px, #fff 7.6px);"></div>
<div class="r" style="left:1276.75px;top:936.80px;width:1.20px;height:2.20px;background:#e9242b;"></div>
<div class="r" style="left:1278.65px;top:936.80px;width:1.20px;height:2.20px;background:#e9242b;"></div>
<div class="r" style="left:1286.40px;top:786.00px;width:2.60px;height:4.00px;background:#e39a3b;"></div>
<div class="r" style="left:1286.40px;top:790.00px;width:2.60px;height:8.00px;background:#d5d66c;"></div>
<div class="r" style="left:1286.40px;top:798.00px;width:2.60px;height:4.00px;background:#1f4b3a;"></div>
<div class="r" style="left:1286.40px;top:802.00px;width:2.60px;height:110.50px;background:#3aa7db;"></div>
<div class="r" style="left:1288.90px;top:786.00px;width:4.20px;height:126.50px;background:#b9b9b9;"></div>
<div class="r" style="left:1293.10px;top:862.40px;width:6.70px;height:50.10px;background:#173c5e;"></div>
<div class="r" style="left:1290.40px;top:777.00px;width:0.80px;height:9.00px;background:#8f8f8f;"></div>
<div class="r" style="left:1295.90px;top:853.40px;width:0.80px;height:9.00px;background:#8f8f8f;"></div>
<div class="vl" style="left:1293.6px;top:768.0px">219</div>
<div class="vl" style="left:1299.1px;top:844.4px">50</div>
<div class="st" style="left:1295.0px;top:839.4px"></div>
<div class="st" style="left:1295.0px;top:835.2px"></div>
<div class="st" style="left:1295.0px;top:831.0px"></div>
<div class="bk" style="left:1285.6px"><i></i><u></u><s></s></div>
<div class="r" style="left:1285.40px;top:922.90px;width:4.90px;height:26.80px;background:#9b0d16;background-image:repeating-linear-gradient(to bottom, transparent 0, transparent 6.4px, #fff 6.4px, #fff 7.6px);"></div>
<div class="r" style="left:1285.70px;top:950.70px;width:1.20px;height:2.20px;background:#9b0d16;"></div>
<div class="r" style="left:1287.60px;top:950.70px;width:1.20px;height:2.20px;background:#9b0d16;"></div>
<div class="r" style="left:1290.30px;top:922.90px;width:4.80px;height:19.60px;background:#9cc3bd;background-image:repeating-linear-gradient(to bottom, transparent 0, transparent 6.4px, #fff 6.4px, #fff 7.6px);"></div>
<div class="r" style="left:1295.10px;top:922.90px;width:5.20px;height:12.90px;background:#e9242b;background-image:repeating-linear-gradient(to bottom, transparent 0, transparent 6.4px, #fff 6.4px, #fff 7.6px);"></div>
<div class="r" style="left:1295.40px;top:936.80px;width:1.20px;height:2.20px;background:#e9242b;"></div>
<div class="r" style="left:1297.30px;top:936.80px;width:1.20px;height:2.20px;background:#e9242b;"></div>
<div class="r" style="left:1305.05px;top:783.30px;width:2.60px;height:129.20px;background:#3aa7db;"></div>
<div class="r" style="left:1307.55px;top:783.30px;width:4.20px;height:129.20px;background:#b9b9b9;"></div>
<div class="r" style="left:1311.75px;top:879.50px;width:6.70px;height:33.00px;background:#173c5e;"></div>
<div class="r" style="left:1309.05px;top:774.30px;width:0.80px;height:9.00px;background:#8f8f8f;"></div>
<div class="r" style="left:1314.55px;top:870.50px;width:0.80px;height:9.00px;background:#8f8f8f;"></div>
<div class="vl" style="left:1312.3px;top:765.3px">224</div>
<div class="vl" style="left:1317.8px;top:861.5px">33</div>
<div class="bk" style="left:1304.3px"><i></i><u></u><s></s></div>
<div class="r" style="left:1304.05px;top:922.90px;width:4.90px;height:26.10px;background:#9b0d16;background-image:repeating-linear-gradient(to bottom, transparent 0, transparent 6.4px, #fff 6.4px, #fff 7.6px);"></div>
<div class="r" style="left:1304.35px;top:950.00px;width:1.20px;height:2.20px;background:#9b0d16;"></div>
<div class="r" style="left:1306.25px;top:950.00px;width:1.20px;height:2.20px;background:#9b0d16;"></div>
<div class="r" style="left:1308.95px;top:922.90px;width:4.80px;height:19.60px;background:#9cc3bd;background-image:repeating-linear-gradient(to bottom, transparent 0, transparent 6.4px, #fff 6.4px, #fff 7.6px);"></div>
<div class="r" style="left:1313.75px;top:922.90px;width:5.20px;height:5.00px;background:#e9242b;background-image:repeating-linear-gradient(to bottom, transparent 0, transparent 6.4px, #fff 6.4px, #fff 7.6px);"></div>
<div class="r" style="left:1344.20px;top:770.00px;width:2.60px;height:3.00px;background:#e39a3b;"></div>
<div class="r" style="left:1344.20px;top:773.00px;width:2.60px;height:13.20px;background:#d5d66c;"></div>
<div class="r" style="left:1344.20px;top:786.20px;width:2.60px;height:126.30px;background:#3aa7db;"></div>
<div class="r" style="left:1346.70px;top:770.00px;width:4.20px;height:142.50px;background:#b9b9b9;"></div>
<div class="r" style="left:1350.90px;top:855.70px;width:6.70px;height:56.80px;background:#173c5e;"></div>
<div class="r" style="left:1348.20px;top:761.00px;width:0.80px;height:9.00px;background:#8f8f8f;"></div>
<div class="r" style="left:1353.70px;top:846.70px;width:0.80px;height:9.00px;background:#8f8f8f;"></div>
<div class="vl" style="left:1351.4px;top:752.0px">247</div>
<div class="vl" style="left:1356.9px;top:837.7px">56</div>
<div class="bk" style="left:1343.4px"><i></i><u></u><s></s></div>
<div class="r" style="left:1343.20px;top:922.90px;width:4.90px;height:34.10px;background:#9b0d16;background-image:repeating-linear-gradient(to bottom, transparent 0, transparent 6.4px, #fff 6.4px, #fff 7.6px);"></div>
<div class="r" style="left:1343.50px;top:958.00px;width:1.20px;height:2.20px;background:#9b0d16;"></div>
<div class="r" style="left:1345.40px;top:958.00px;width:1.20px;height:2.20px;background:#9b0d16;"></div>
<div class="r" style="left:1348.10px;top:922.90px;width:4.80px;height:29.50px;background:#9cc3bd;background-image:repeating-linear-gradient(to bottom, transparent 0, transparent 6.4px, #fff 6.4px, #fff 7.6px);"></div>
<div class="r" style="left:1352.90px;top:922.90px;width:5.20px;height:12.90px;background:#e9242b;background-image:repeating-linear-gradient(to bottom, transparent 0, transparent 6.4px, #fff 6.4px, #fff 7.6px);"></div>
<div class="r" style="left:1353.20px;top:936.80px;width:1.20px;height:2.20px;background:#e9242b;"></div>
<div class="r" style="left:1355.10px;top:936.80px;width:1.20px;height:2.20px;background:#e9242b;"></div>
<div class="r" style="left:1362.83px;top:780.00px;width:2.60px;height:6.00px;background:#e39a3b;"></div>
<div class="r" style="left:1362.83px;top:786.00px;width:2.60px;height:7.80px;background:#d5d66c;"></div>
<div class="r" style="left:1362.83px;top:793.80px;width:2.60px;height:2.20px;background:#1f4b3a;"></div>
<div class="r" style="left:1362.83px;top:796.00px;width:2.60px;height:116.50px;background:#3aa7db;"></div>
<div class="r" style="left:1365.33px;top:780.00px;width:4.20px;height:132.50px;background:#b9b9b9;"></div>
<div class="r" style="left:1369.53px;top:871.50px;width:6.70px;height:41.00px;background:#173c5e;"></div>
<div class="r" style="left:1366.83px;top:771.00px;width:0.80px;height:9.00px;background:#8f8f8f;"></div>
<div class="r" style="left:1372.33px;top:862.50px;width:0.80px;height:9.00px;background:#8f8f8f;"></div>
<div class="vl" style="left:1370.0px;top:762.0px">229</div>
<div class="vl" style="left:1375.5px;top:853.5px">41</div>
<div class="st" style="left:1371.4px;top:848.5px"></div>
<div class="bk" style="left:1362.0px"><i></i><u></u><s></s></div>
<div class="r" style="left:1361.83px;top:922.90px;width:4.90px;height:19.60px;background:#9b0d16;background-image:repeating-linear-gradient(to bottom, transparent 0, transparent 6.4px, #fff 6.4px, #fff 7.6px);"></div>
<div class="r" style="left:1362.13px;top:943.50px;width:1.20px;height:2.20px;background:#9b0d16;"></div>
<div class="r" style="left:1364.03px;top:943.50px;width:1.20px;height:2.20px;background:#9b0d16;"></div>
<div class="r" style="left:1366.73px;top:922.90px;width:4.80px;height:15.60px;background:#9cc3bd;background-image:repeating-linear-gradient(to bottom, transparent 0, transparent 6.4px, #fff 6.4px, #fff 7.6px);"></div>
<div class="r" style="left:1371.53px;top:922.90px;width:5.20px;height:9.00px;background:#e9242b;background-image:repeating-linear-gradient(to bottom, transparent 0, transparent 6.4px, #fff 6.4px, #fff 7.6px);"></div>
<div class="r" style="left:1371.83px;top:932.90px;width:1.20px;height:2.20px;background:#e9242b;"></div>
<div class="r" style="left:1373.73px;top:932.90px;width:1.20px;height:2.20px;background:#e9242b;"></div>
<div class="r" style="left:1381.46px;top:717.00px;width:2.60px;height:2.00px;background:#e39a3b;"></div>
<div class="r" style="left:1381.46px;top:719.00px;width:2.60px;height:15.30px;background:#d5d66c;"></div>
<div class="r" style="left:1381.46px;top:734.30px;width:2.60px;height:178.20px;background:#3aa7db;"></div>
<div class="r" style="left:1383.96px;top:717.00px;width:4.20px;height:195.50px;background:#b9b9b9;"></div>
<div class="r" style="left:1388.16px;top:857.00px;width:6.70px;height:55.50px;background:#173c5e;"></div>
<div class="r" style="left:1385.46px;top:708.00px;width:0.80px;height:9.00px;background:#8f8f8f;"></div>
<div class="r" style="left:1390.96px;top:848.00px;width:0.80px;height:9.00px;background:#8f8f8f;"></div>
<div class="vl" style="left:1388.7px;top:699.0px">338</div>
<div class="vl" style="left:1394.2px;top:839.0px">55</div>
<div class="bk" style="left:1380.7px"><i></i><u></u><s></s></div>
<div class="r" style="left:1380.46px;top:922.90px;width:4.90px;height:37.40px;background:#9b0d16;background-image:repeating-linear-gradient(to bottom, transparent 0, transparent 6.4px, #fff 6.4px, #fff 7.6px);"></div>
<div class="r" style="left:1380.76px;top:961.30px;width:1.20px;height:2.20px;background:#9b0d16;"></div>
<div class="r" style="left:1382.66px;top:961.30px;width:1.20px;height:2.20px;background:#9b0d16;"></div>
<div class="r" style="left:1385.36px;top:922.90px;width:4.80px;height:29.50px;background:#9cc3bd;background-image:repeating-linear-gradient(to bottom, transparent 0, transparent 6.4px, #fff 6.4px, #fff 7.6px);"></div>
<div class="r" style="left:1390.16px;top:922.90px;width:5.20px;height:15.60px;background:#e9242b;background-image:repeating-linear-gradient(to bottom, transparent 0, transparent 6.4px, #fff 6.4px, #fff 7.6px);"></div>
<div class="r" style="left:1390.46px;top:939.50px;width:1.20px;height:2.20px;background:#e9242b;"></div>
<div class="r" style="left:1392.36px;top:939.50px;width:1.20px;height:2.20px;background:#e9242b;"></div>
<div class="r" style="left:1400.09px;top:712.00px;width:2.60px;height:4.00px;background:#e39a3b;"></div>
<div class="r" style="left:1400.09px;top:716.00px;width:2.60px;height:21.40px;background:#d5d66c;"></div>
<div class="r" style="left:1400.09px;top:737.40px;width:2.60px;height:2.60px;background:#1f4b3a;"></div>
<div class="r" style="left:1400.09px;top:740.00px;width:2.60px;height:172.50px;background:#3aa7db;"></div>
<div class="r" style="left:1402.59px;top:712.00px;width:4.20px;height:200.50px;background:#b9b9b9;"></div>
<div class="r" style="left:1406.79px;top:838.60px;width:6.70px;height:73.90px;background:#173c5e;"></div>
<div class="r" style="left:1404.09px;top:703.00px;width:0.80px;height:9.00px;background:#8f8f8f;"></div>
<div class="r" style="left:1409.59px;top:829.60px;width:0.80px;height:9.00px;background:#8f8f8f;"></div>
<div class="vl" style="left:1407.3px;top:694.0px">347</div>
<div class="vl" style="left:1412.8px;top:820.6px">73</div>
<div class="bk" style="left:1399.3px"><i></i><u></u><s></s></div>
<div class="r" style="left:1399.09px;top:922.90px;width:4.90px;height:33.50px;background:#9b0d16;background-image:repeating-linear-gradient(to bottom, transparent 0, transparent 6.4px, #fff 6.4px, #fff 7.6px);"></div>
<div class="r" style="left:1399.39px;top:957.40px;width:1.20px;height:2.20px;background:#9b0d16;"></div>
<div class="r" style="left:1401.29px;top:957.40px;width:1.20px;height:2.20px;background:#9b0d16;"></div>
<div class="r" style="left:1403.99px;top:922.90px;width:4.80px;height:26.10px;background:#9cc3bd;background-image:repeating-linear-gradient(to bottom, transparent 0, transparent 6.4px, #fff 6.4px, #fff 7.6px);"></div>
<div class="r" style="left:1408.79px;top:922.90px;width:5.20px;height:20.10px;background:#e9242b;background-image:repeating-linear-gradient(to bottom, transparent 0, transparent 6.4px, #fff 6.4px, #fff 7.6px);"></div>
<div class="r" style="left:1409.09px;top:944.00px;width:1.20px;height:2.20px;background:#e9242b;"></div>
<div class="r" style="left:1410.99px;top:944.00px;width:1.20px;height:2.20px;background:#e9242b;"></div>
<div class="r" style="left:1418.72px;top:793.80px;width:2.60px;height:6.20px;background:#d5d66c;"></div>
<div class="r" style="left:1418.72px;top:800.00px;width:2.60px;height:3.00px;background:#1f4b3a;"></div>
<div class="r" style="left:1418.72px;top:803.00px;width:2.60px;height:109.50px;background:#3aa7db;"></div>
<div class="r" style="left:1421.22px;top:793.80px;width:4.20px;height:118.70px;background:#b9b9b9;"></div>
<div class="r" style="left:1425.42px;top:885.90px;width:6.70px;height:26.60px;background:#173c5e;"></div>
<div class="r" style="left:1422.72px;top:784.80px;width:0.80px;height:9.00px;background:#8f8f8f;"></div>
<div class="r" style="left:1428.22px;top:876.90px;width:0.80px;height:9.00px;background:#8f8f8f;"></div>
<div class="vl" style="left:1425.9px;top:775.8px">205</div>
<div class="vl" style="left:1431.4px;top:867.9px">26</div>
<div class="st" style="left:1427.3px;top:862.9px"></div>
<div class="st" style="left:1427.3px;top:858.7px"></div>
<div class="st" style="left:1427.3px;top:854.5px"></div>
<div class="st" style="left:1427.3px;top:850.3px"></div>
<div class="bk" style="left:1417.9px"><i></i><u></u><s></s></div>
<div class="r" style="left:1417.72px;top:922.90px;width:4.90px;height:20.10px;background:#9b0d16;background-image:repeating-linear-gradient(to bottom, transparent 0, transparent 6.4px, #fff 6.4px, #fff 7.6px);"></div>
<div class="r" style="left:1418.02px;top:944.00px;width:1.20px;height:2.20px;background:#9b0d16;"></div>
<div class="r" style="left:1419.92px;top:944.00px;width:1.20px;height:2.20px;background:#9b0d16;"></div>
<div class="r" style="left:1422.62px;top:922.90px;width:4.80px;height:15.60px;background:#9cc3bd;background-image:repeating-linear-gradient(to bottom, transparent 0, transparent 6.4px, #fff 6.4px, #fff 7.6px);"></div>
<div class="r" style="left:1427.42px;top:922.90px;width:5.20px;height:9.00px;background:#e9242b;background-image:repeating-linear-gradient(to bottom, transparent 0, transparent 6.4px, #fff 6.4px, #fff 7.6px);"></div>
<div class="r" style="left:1427.72px;top:932.90px;width:1.20px;height:2.20px;background:#e9242b;"></div>
<div class="r" style="left:1429.62px;top:932.90px;width:1.20px;height:2.20px;background:#e9242b;"></div>
<div class="r" style="left:1437.35px;top:825.00px;width:2.60px;height:10.00px;background:#e39a3b;"></div>
<div class="r" style="left:1437.35px;top:835.00px;width:2.60px;height:77.50px;background:#3aa7db;"></div>
<div class="r" style="left:1439.85px;top:825.00px;width:4.20px;height:87.50px;background:#b9b9b9;"></div>
<div class="r" style="left:1444.05px;top:871.50px;width:6.70px;height:41.00px;background:#173c5e;"></div>
<div class="r" style="left:1441.35px;top:816.00px;width:0.80px;height:9.00px;background:#8f8f8f;"></div>
<div class="r" style="left:1446.85px;top:862.50px;width:0.80px;height:9.00px;background:#8f8f8f;"></div>
<div class="vl" style="left:1444.6px;top:807.0px">151</div>
<div class="vl" style="left:1450.1px;top:853.5px">41</div>
<div class="bk" style="left:1436.6px"><i></i><u></u><s></s></div>
<div class="r" style="left:1436.35px;top:922.90px;width:4.90px;height:23.50px;background:#9b0d16;background-image:repeating-linear-gradient(to bottom, transparent 0, transparent 6.4px, #fff 6.4px, #fff 7.6px);"></div>
<div class="r" style="left:1436.65px;top:947.40px;width:1.20px;height:2.20px;background:#9b0d16;"></div>
<div class="r" style="left:1438.55px;top:947.40px;width:1.20px;height:2.20px;background:#9b0d16;"></div>
<div class="r" style="left:1441.25px;top:922.90px;width:4.80px;height:19.60px;background:#9cc3bd;background-image:repeating-linear-gradient(to bottom, transparent 0, transparent 6.4px, #fff 6.4px, #fff 7.6px);"></div>
<div class="r" style="left:1446.05px;top:922.90px;width:5.20px;height:9.00px;background:#e9242b;background-image:repeating-linear-gradient(to bottom, transparent 0, transparent 6.4px, #fff 6.4px, #fff 7.6px);"></div>
<div class="r" style="left:1446.35px;top:932.90px;width:1.20px;height:2.20px;background:#e9242b;"></div>
<div class="r" style="left:1448.25px;top:932.90px;width:1.20px;height:2.20px;background:#e9242b;"></div>
<div class="r" style="left:1455.98px;top:818.20px;width:2.60px;height:12.20px;background:#d5d66c;"></div>
<div class="r" style="left:1455.98px;top:830.40px;width:2.60px;height:1.60px;background:#1f4b3a;"></div>
<div class="r" style="left:1455.98px;top:832.00px;width:2.60px;height:80.50px;background:#3aa7db;"></div>
<div class="r" style="left:1458.48px;top:818.20px;width:4.20px;height:94.30px;background:#b9b9b9;"></div>
<div class="r" style="left:1462.68px;top:893.50px;width:6.70px;height:19.00px;background:#173c5e;"></div>
<div class="r" style="left:1459.98px;top:809.20px;width:0.80px;height:9.00px;background:#8f8f8f;"></div>
<div class="r" style="left:1465.48px;top:884.50px;width:0.80px;height:9.00px;background:#8f8f8f;"></div>
<div class="vl" style="left:1463.2px;top:800.2px">163</div>
<div class="vl" style="left:1468.7px;top:875.5px">19</div>
<div class="st" style="left:1464.6px;top:870.5px"></div>
<div class="bk" style="left:1455.2px"><i></i><u></u><s></s></div>
<div class="r" style="left:1454.98px;top:922.90px;width:4.90px;height:12.30px;background:#9b0d16;background-image:repeating-linear-gradient(to bottom, transparent 0, transparent 6.4px, #fff 6.4px, #fff 7.6px);"></div>
<div class="r" style="left:1455.28px;top:936.20px;width:1.20px;height:2.20px;background:#9b0d16;"></div>
<div class="r" style="left:1457.18px;top:936.20px;width:1.20px;height:2.20px;background:#9b0d16;"></div>
<div class="r" style="left:1459.88px;top:922.90px;width:4.80px;height:9.00px;background:#9cc3bd;background-image:repeating-linear-gradient(to bottom, transparent 0, transparent 6.4px, #fff 6.4px, #fff 7.6px);"></div>
<div class="r" style="left:1464.68px;top:922.90px;width:5.20px;height:1.70px;background:#e9242b;background-image:repeating-linear-gradient(to bottom, transparent 0, transparent 6.4px, #fff 6.4px, #fff 7.6px);"></div>
<div class="r" style="left:1474.61px;top:847.70px;width:2.60px;height:10.10px;background:#e39a3b;"></div>
<div class="r" style="left:1474.61px;top:857.80px;width:2.60px;height:54.70px;background:#3aa7db;"></div>
<div class="r" style="left:1477.11px;top:847.70px;width:4.20px;height:64.80px;background:#b9b9b9;"></div>
<div class="r" style="left:1481.31px;top:879.80px;width:6.70px;height:32.70px;background:#173c5e;"></div>
<div class="r" style="left:1478.61px;top:838.70px;width:0.80px;height:9.00px;background:#8f8f8f;"></div>
<div class="r" style="left:1484.11px;top:870.80px;width:0.80px;height:9.00px;background:#8f8f8f;"></div>
<div class="vl" style="left:1481.8px;top:829.7px">112</div>
<div class="vl" style="left:1487.3px;top:861.8px">32</div>
<div class="st" style="left:1483.2px;top:856.8px"></div>
<div class="bk" style="left:1473.8px"><i></i><u></u><s></s></div>
<div class="r" style="left:1473.61px;top:922.90px;width:4.90px;height:9.00px;background:#9b0d16;background-image:repeating-linear-gradient(to bottom, transparent 0, transparent 6.4px, #fff 6.4px, #fff 7.6px);"></div>
<div class="r" style="left:1473.91px;top:932.90px;width:1.20px;height:2.20px;background:#9b0d16;"></div>
<div class="r" style="left:1475.81px;top:932.90px;width:1.20px;height:2.20px;background:#9b0d16;"></div>
<div class="r" style="left:1478.51px;top:922.90px;width:4.80px;height:5.00px;background:#9cc3bd;background-image:repeating-linear-gradient(to bottom, transparent 0, transparent 6.4px, #fff 6.4px, #fff 7.6px);"></div>
<div class="r" style="left:1483.31px;top:922.90px;width:5.20px;height:1.70px;background:#e9242b;background-image:repeating-linear-gradient(to bottom, transparent 0, transparent 6.4px, #fff 6.4px, #fff 7.6px);"></div>
<div class="r" style="left:1493.24px;top:856.30px;width:2.60px;height:7.60px;background:#d5d66c;"></div>
<div class="r" style="left:1493.24px;top:863.90px;width:2.60px;height:48.60px;background:#3aa7db;"></div>
<div class="r" style="left:1495.74px;top:856.30px;width:4.20px;height:56.20px;background:#b9b9b9;"></div>
<div class="r" style="left:1499.94px;top:876.70px;width:6.70px;height:35.80px;background:#173c5e;"></div>
<div class="r" style="left:1497.24px;top:847.30px;width:0.80px;height:9.00px;background:#8f8f8f;"></div>
<div class="r" style="left:1502.74px;top:867.70px;width:0.80px;height:9.00px;background:#8f8f8f;"></div>
<div class="vl" style="left:1500.4px;top:838.3px">97</div>
<div class="vl" style="left:1505.9px;top:858.7px">35</div>
<div class="bk" style="left:1492.4px"><i></i><u></u><s></s></div>
<div class="r" style="left:1492.24px;top:922.90px;width:4.90px;height:9.00px;background:#9b0d16;background-image:repeating-linear-gradient(to bottom, transparent 0, transparent 6.4px, #fff 6.4px, #fff 7.6px);"></div>
<div class="r" style="left:1492.54px;top:932.90px;width:1.20px;height:2.20px;background:#9b0d16;"></div>
<div class="r" style="left:1494.44px;top:932.90px;width:1.20px;height:2.20px;background:#9b0d16;"></div>
<div class="r" style="left:1497.14px;top:922.90px;width:4.80px;height:5.00px;background:#9cc3bd;background-image:repeating-linear-gradient(to bottom, transparent 0, transparent 6.4px, #fff 6.4px, #fff 7.6px);"></div>
<div class="r" style="left:1501.94px;top:922.90px;width:5.20px;height:1.70px;background:#e9242b;background-image:repeating-linear-gradient(to bottom, transparent 0, transparent 6.4px, #fff 6.4px, #fff 7.6px);"></div>
<div class="r" style="left:1511.87px;top:861.80px;width:2.60px;height:9.70px;background:#d5d66c;"></div>
<div class="r" style="left:1511.87px;top:871.50px;width:2.60px;height:41.00px;background:#3aa7db;"></div>
<div class="r" style="left:1514.37px;top:861.80px;width:4.20px;height:50.70px;background:#b9b9b9;"></div>
<div class="r" style="left:1518.57px;top:892.90px;width:6.70px;height:19.60px;background:#173c5e;"></div>
<div class="r" style="left:1515.87px;top:852.80px;width:0.80px;height:9.00px;background:#8f8f8f;"></div>
<div class="r" style="left:1521.37px;top:883.90px;width:0.80px;height:9.00px;background:#8f8f8f;"></div>
<div class="vl" style="left:1519.1px;top:843.8px">88</div>
<div class="vl" style="left:1524.6px;top:874.9px">19</div>
<div class="st" style="left:1520.5px;top:869.9px"></div>
<div class="bk" style="left:1511.1px"><i></i><u></u><s></s></div>
<div class="r" style="left:1510.87px;top:922.90px;width:4.90px;height:9.00px;background:#9b0d16;background-image:repeating-linear-gradient(to bottom, transparent 0, transparent 6.4px, #fff 6.4px, #fff 7.6px);"></div>
<div class="r" style="left:1511.17px;top:932.90px;width:1.20px;height:2.20px;background:#9b0d16;"></div>
<div class="r" style="left:1513.07px;top:932.90px;width:1.20px;height:2.20px;background:#9b0d16;"></div>
<div class="r" style="left:1515.77px;top:922.90px;width:4.80px;height:5.00px;background:#9cc3bd;background-image:repeating-linear-gradient(to bottom, transparent 0, transparent 6.4px, #fff 6.4px, #fff 7.6px);"></div>
<div class="r" style="left:1520.57px;top:922.90px;width:5.20px;height:1.70px;background:#e9242b;background-image:repeating-linear-gradient(to bottom, transparent 0, transparent 6.4px, #fff 6.4px, #fff 7.6px);"></div>
<div class="r" style="left:1530.50px;top:860.90px;width:2.60px;height:6.10px;background:#d5d66c;"></div>
<div class="r" style="left:1530.50px;top:867.00px;width:2.60px;height:45.50px;background:#3aa7db;"></div>
<div class="r" style="left:1533.00px;top:860.90px;width:4.20px;height:51.60px;background:#b9b9b9;"></div>
<div class="r" style="left:1537.20px;top:889.80px;width:6.70px;height:22.70px;background:#173c5e;"></div>
<div class="r" style="left:1534.50px;top:851.90px;width:0.80px;height:9.00px;background:#8f8f8f;"></div>
<div class="r" style="left:1540.00px;top:880.80px;width:0.80px;height:9.00px;background:#8f8f8f;"></div>
<div class="vl" style="left:1537.7px;top:842.9px">89</div>
<div class="vl" style="left:1543.2px;top:871.8px">22</div>
<div class="bk" style="left:1529.7px"><i></i><u></u><s></s></div>
<div class="r" style="left:1529.50px;top:922.90px;width:4.90px;height:12.30px;background:#9b0d16;background-image:repeating-linear-gradient(to bottom, transparent 0, transparent 6.4px, #fff 6.4px, #fff 7.6px);"></div>
<div class="r" style="left:1529.80px;top:936.20px;width:1.20px;height:2.20px;background:#9b0d16;"></div>
<div class="r" style="left:1531.70px;top:936.20px;width:1.20px;height:2.20px;background:#9b0d16;"></div>
<div class="r" style="left:1534.40px;top:922.90px;width:4.80px;height:5.00px;background:#9cc3bd;background-image:repeating-linear-gradient(to bottom, transparent 0, transparent 6.4px, #fff 6.4px, #fff 7.6px);"></div>
<div class="r" style="left:1539.20px;top:922.90px;width:5.20px;height:1.70px;background:#e9242b;background-image:repeating-linear-gradient(to bottom, transparent 0, transparent 6.4px, #fff 6.4px, #fff 7.6px);"></div>
<div class="r" style="left:1549.13px;top:863.00px;width:2.60px;height:13.00px;background:#d5d66c;"></div>
<div class="r" style="left:1549.13px;top:876.00px;width:2.60px;height:36.50px;background:#3aa7db;"></div>
<div class="r" style="left:1551.63px;top:863.00px;width:4.20px;height:49.50px;background:#b9b9b9;"></div>
<div class="r" style="left:1555.83px;top:892.90px;width:6.70px;height:19.60px;background:#173c5e;"></div>
<div class="r" style="left:1553.13px;top:854.00px;width:0.80px;height:9.00px;background:#8f8f8f;"></div>
<div class="r" style="left:1558.63px;top:883.90px;width:0.80px;height:9.00px;background:#8f8f8f;"></div>
<div class="vl" style="left:1556.3px;top:845.0px">86</div>
<div class="vl" style="left:1561.8px;top:874.9px">19</div>
<div class="bk" style="left:1548.3px"><i></i><u></u><s></s></div>
<div class="r" style="left:1548.13px;top:922.90px;width:4.90px;height:5.00px;background:#9b0d16;background-image:repeating-linear-gradient(to bottom, transparent 0, transparent 6.4px, #fff 6.4px, #fff 7.6px);"></div>
<div class="r" style="left:1553.03px;top:922.90px;width:4.80px;height:1.70px;background:#9cc3bd;background-image:repeating-linear-gradient(to bottom, transparent 0, transparent 6.4px, #fff 6.4px, #fff 7.6px);"></div>
<div class="r" style="left:1557.83px;top:922.90px;width:5.20px;height:1.70px;background:#e9242b;background-image:repeating-linear-gradient(to bottom, transparent 0, transparent 6.4px, #fff 6.4px, #fff 7.6px);"></div>
<div class="r" style="left:1588.20px;top:862.00px;width:2.60px;height:9.80px;background:#d5d66c;"></div>
<div class="r" style="left:1588.20px;top:871.80px;width:2.60px;height:40.70px;background:#3aa7db;"></div>
<div class="r" style="left:1590.70px;top:862.00px;width:4.20px;height:50.50px;background:#b9b9b9;"></div>
<div class="r" style="left:1594.90px;top:892.90px;width:6.70px;height:19.60px;background:#173c5e;"></div>
<div class="r" style="left:1592.20px;top:853.00px;width:0.80px;height:9.00px;background:#8f8f8f;"></div>
<div class="r" style="left:1597.70px;top:883.90px;width:0.80px;height:9.00px;background:#8f8f8f;"></div>
<div class="vl" style="left:1595.4px;top:844.0px">87</div>
<div class="vl" style="left:1600.9px;top:874.9px">19</div>
<div class="bk" style="left:1587.4px"><i></i><u></u><s></s></div>
<div class="r" style="left:1587.20px;top:922.90px;width:4.90px;height:9.00px;background:#9b0d16;background-image:repeating-linear-gradient(to bottom, transparent 0, transparent 6.4px, #fff 6.4px, #fff 7.6px);"></div>
<div class="r" style="left:1587.50px;top:932.90px;width:1.20px;height:2.20px;background:#9b0d16;"></div>
<div class="r" style="left:1589.40px;top:932.90px;width:1.20px;height:2.20px;background:#9b0d16;"></div>
<div class="r" style="left:1592.10px;top:922.90px;width:4.80px;height:4.70px;background:#9cc3bd;background-image:repeating-linear-gradient(to bottom, transparent 0, transparent 6.4px, #fff 6.4px, #fff 7.6px);"></div>
<div class="r" style="left:1596.90px;top:922.90px;width:5.20px;height:1.20px;background:#e9242b;background-image:repeating-linear-gradient(to bottom, transparent 0, transparent 6.4px, #fff 6.4px, #fff 7.6px);"></div>
<div class="r" style="left:1606.75px;top:855.80px;width:2.60px;height:16.00px;background:#d5d66c;"></div>
<div class="r" style="left:1606.75px;top:871.80px;width:2.60px;height:40.70px;background:#3aa7db;"></div>
<div class="r" style="left:1609.25px;top:855.80px;width:4.20px;height:56.70px;background:#b9b9b9;"></div>
<div class="r" style="left:1613.45px;top:888.10px;width:6.70px;height:24.40px;background:#173c5e;"></div>
<div class="r" style="left:1610.75px;top:846.80px;width:0.80px;height:9.00px;background:#8f8f8f;"></div>
<div class="r" style="left:1616.25px;top:879.10px;width:0.80px;height:9.00px;background:#8f8f8f;"></div>
<div class="vl" style="left:1614.0px;top:837.8px">98</div>
<div class="vl" style="left:1619.5px;top:870.1px">24</div>
<div class="bk" style="left:1606.0px"><i></i><u></u><s></s></div>
<div class="r" style="left:1605.75px;top:922.90px;width:4.90px;height:4.70px;background:#9b0d16;background-image:repeating-linear-gradient(to bottom, transparent 0, transparent 6.4px, #fff 6.4px, #fff 7.6px);"></div>
<div class="r" style="left:1610.65px;top:922.90px;width:4.80px;height:2.10px;background:#9cc3bd;background-image:repeating-linear-gradient(to bottom, transparent 0, transparent 6.4px, #fff 6.4px, #fff 7.6px);"></div>
<div class="r" style="left:1615.45px;top:922.90px;width:5.20px;height:2.10px;background:#e9242b;background-image:repeating-linear-gradient(to bottom, transparent 0, transparent 6.4px, #fff 6.4px, #fff 7.6px);"></div>
<div class="r" style="left:1625.30px;top:880.00px;width:2.60px;height:3.80px;background:#1f4b3a;"></div>
<div class="r" style="left:1625.30px;top:883.80px;width:2.60px;height:28.70px;background:#3aa7db;"></div>
<div class="r" style="left:1627.80px;top:880.00px;width:4.20px;height:32.50px;background:#b9b9b9;"></div>
<div class="r" style="left:1632.00px;top:899.80px;width:6.70px;height:12.70px;background:#173c5e;"></div>
<div class="r" style="left:1629.30px;top:871.00px;width:0.80px;height:9.00px;background:#8f8f8f;"></div>
<div class="r" style="left:1634.80px;top:890.80px;width:0.80px;height:9.00px;background:#8f8f8f;"></div>
<div class="vl" style="left:1632.5px;top:862.0px">56</div>
<div class="vl" style="left:1638.0px;top:881.8px">13</div>
<div class="st" style="left:1633.9px;top:876.8px"></div>
<div class="bk" style="left:1624.5px"><i></i><u></u><s></s></div>
<div class="r" style="left:1624.30px;top:922.90px;width:4.90px;height:2.10px;background:#9b0d16;background-image:repeating-linear-gradient(to bottom, transparent 0, transparent 6.4px, #fff 6.4px, #fff 7.6px);"></div>
<div class="r" style="left:1629.20px;top:922.90px;width:4.80px;height:2.10px;background:#9cc3bd;background-image:repeating-linear-gradient(to bottom, transparent 0, transparent 6.4px, #fff 6.4px, #fff 7.6px);"></div>
<div class="r" style="left:1643.85px;top:861.00px;width:2.60px;height:8.20px;background:#d5d66c;"></div>
<div class="r" style="left:1643.85px;top:869.20px;width:2.60px;height:43.30px;background:#3aa7db;"></div>
<div class="r" style="left:1646.35px;top:861.00px;width:4.20px;height:51.50px;background:#b9b9b9;"></div>
<div class="r" style="left:1650.55px;top:884.70px;width:6.70px;height:27.80px;background:#173c5e;"></div>
<div class="r" style="left:1647.85px;top:852.00px;width:0.80px;height:9.00px;background:#8f8f8f;"></div>
<div class="r" style="left:1653.35px;top:875.70px;width:0.80px;height:9.00px;background:#8f8f8f;"></div>
<div class="vl" style="left:1651.1px;top:843.0px">89</div>
<div class="vl" style="left:1656.6px;top:866.7px">28</div>
<div class="bk" style="left:1643.1px"><i></i><u></u><s></s></div>
<div class="r" style="left:1642.85px;top:922.90px;width:4.90px;height:9.00px;background:#9b0d16;background-image:repeating-linear-gradient(to bottom, transparent 0, transparent 6.4px, #fff 6.4px, #fff 7.6px);"></div>
<div class="r" style="left:1643.15px;top:932.90px;width:1.20px;height:2.20px;background:#9b0d16;"></div>
<div class="r" style="left:1645.05px;top:932.90px;width:1.20px;height:2.20px;background:#9b0d16;"></div>
<div class="r" style="left:1647.75px;top:922.90px;width:4.80px;height:4.70px;background:#9cc3bd;background-image:repeating-linear-gradient(to bottom, transparent 0, transparent 6.4px, #fff 6.4px, #fff 7.6px);"></div>
<div class="r" style="left:1652.55px;top:922.90px;width:5.20px;height:4.70px;background:#e9242b;background-image:repeating-linear-gradient(to bottom, transparent 0, transparent 6.4px, #fff 6.4px, #fff 7.6px);"></div>
<div class="r" style="left:1662.40px;top:865.00px;width:2.60px;height:6.00px;background:#d5d66c;"></div>
<div class="r" style="left:1662.40px;top:871.00px;width:2.60px;height:41.50px;background:#3aa7db;"></div>
<div class="r" style="left:1664.90px;top:865.00px;width:4.20px;height:47.50px;background:#b9b9b9;"></div>
<div class="r" style="left:1669.10px;top:877.80px;width:6.70px;height:34.70px;background:#173c5e;"></div>
<div class="r" style="left:1666.40px;top:856.00px;width:0.80px;height:9.00px;background:#8f8f8f;"></div>
<div class="r" style="left:1671.90px;top:868.80px;width:0.80px;height:9.00px;background:#8f8f8f;"></div>
<div class="vl" style="left:1669.6px;top:847.0px">82</div>
<div class="vl" style="left:1675.1px;top:859.8px">34</div>
<div class="bk" style="left:1661.6px"><i></i><u></u><s></s></div>
<div class="r" style="left:1661.40px;top:922.90px;width:4.90px;height:11.50px;background:#9b0d16;background-image:repeating-linear-gradient(to bottom, transparent 0, transparent 6.4px, #fff 6.4px, #fff 7.6px);"></div>
<div class="r" style="left:1661.70px;top:935.40px;width:1.20px;height:2.20px;background:#9b0d16;"></div>
<div class="r" style="left:1663.60px;top:935.40px;width:1.20px;height:2.20px;background:#9b0d16;"></div>
<div class="r" style="left:1666.30px;top:922.90px;width:4.80px;height:4.70px;background:#9cc3bd;background-image:repeating-linear-gradient(to bottom, transparent 0, transparent 6.4px, #fff 6.4px, #fff 7.6px);"></div>
<div class="r" style="left:1671.10px;top:922.90px;width:5.20px;height:4.70px;background:#e9242b;background-image:repeating-linear-gradient(to bottom, transparent 0, transparent 6.4px, #fff 6.4px, #fff 7.6px);"></div>
<div class="r" style="left:1680.95px;top:850.70px;width:2.60px;height:6.50px;background:#e39a3b;"></div>
<div class="r" style="left:1680.95px;top:857.20px;width:2.60px;height:55.30px;background:#3aa7db;"></div>
<div class="r" style="left:1683.45px;top:850.70px;width:4.20px;height:61.80px;background:#b9b9b9;"></div>
<div class="r" style="left:1687.65px;top:891.00px;width:6.70px;height:21.50px;background:#173c5e;"></div>
<div class="r" style="left:1684.95px;top:841.70px;width:0.80px;height:9.00px;background:#8f8f8f;"></div>
<div class="r" style="left:1690.45px;top:882.00px;width:0.80px;height:9.00px;background:#8f8f8f;"></div>
<div class="vl" style="left:1688.2px;top:832.7px">107</div>
<div class="vl" style="left:1693.7px;top:873.0px">21</div>
<div class="bk" style="left:1680.2px"><i></i><u></u><s></s></div>
<div class="r" style="left:1679.95px;top:922.90px;width:4.90px;height:11.50px;background:#9b0d16;background-image:repeating-linear-gradient(to bottom, transparent 0, transparent 6.4px, #fff 6.4px, #fff 7.6px);"></div>
<div class="r" style="left:1680.25px;top:935.40px;width:1.20px;height:2.20px;background:#9b0d16;"></div>
<div class="r" style="left:1682.15px;top:935.40px;width:1.20px;height:2.20px;background:#9b0d16;"></div>
<div class="r" style="left:1684.85px;top:922.90px;width:4.80px;height:4.70px;background:#9cc3bd;background-image:repeating-linear-gradient(to bottom, transparent 0, transparent 6.4px, #fff 6.4px, #fff 7.6px);"></div>
<div class="r" style="left:1689.65px;top:922.90px;width:5.20px;height:4.70px;background:#e9242b;background-image:repeating-linear-gradient(to bottom, transparent 0, transparent 6.4px, #fff 6.4px, #fff 7.6px);"></div>
<div class="r" style="left:1699.50px;top:895.00px;width:2.60px;height:17.50px;background:#3aa7db;"></div>
<div class="r" style="left:1702.00px;top:895.00px;width:4.20px;height:17.50px;background:#b9b9b9;"></div>
<div class="r" style="left:1706.20px;top:901.00px;width:6.70px;height:11.50px;background:#173c5e;"></div>
<div class="r" style="left:1703.50px;top:886.00px;width:0.80px;height:9.00px;background:#8f8f8f;"></div>
<div class="r" style="left:1709.00px;top:892.00px;width:0.80px;height:9.00px;background:#8f8f8f;"></div>
<div class="vl" style="left:1706.7px;top:877.0px">30</div>
<div class="vl" style="left:1712.2px;top:883.0px">11</div>
<div class="bk" style="left:1698.7px"><i></i><u></u><s></s></div>
<div class="r" style="left:1698.50px;top:922.90px;width:4.90px;height:4.70px;background:#9b0d16;background-image:repeating-linear-gradient(to bottom, transparent 0, transparent 6.4px, #fff 6.4px, #fff 7.6px);"></div>
<div class="r" style="left:1703.40px;top:922.90px;width:4.80px;height:2.10px;background:#9cc3bd;background-image:repeating-linear-gradient(to bottom, transparent 0, transparent 6.4px, #fff 6.4px, #fff 7.6px);"></div>
<div class="r" style="left:1718.05px;top:891.90px;width:2.60px;height:1.60px;background:#e39a3b;"></div>
<div class="r" style="left:1718.05px;top:893.50px;width:2.60px;height:19.00px;background:#3aa7db;"></div>
<div class="r" style="left:1720.55px;top:891.90px;width:4.20px;height:20.60px;background:#b9b9b9;"></div>
<div class="r" style="left:1724.75px;top:902.90px;width:6.70px;height:9.60px;background:#173c5e;"></div>
<div class="r" style="left:1722.05px;top:882.90px;width:0.80px;height:9.00px;background:#8f8f8f;"></div>
<div class="r" style="left:1727.55px;top:893.90px;width:0.80px;height:9.00px;background:#8f8f8f;"></div>
<div class="vl" style="left:1725.2px;top:873.9px">36</div>
<div class="vl" style="left:1730.8px;top:884.9px">10</div>
<div class="bk" style="left:1717.2px"><i></i><u></u><s></s></div>
<div class="r" style="left:1717.05px;top:922.90px;width:4.90px;height:4.70px;background:#9b0d16;background-image:repeating-linear-gradient(to bottom, transparent 0, transparent 6.4px, #fff 6.4px, #fff 7.6px);"></div>
<div class="r" style="left:1721.95px;top:922.90px;width:4.80px;height:2.10px;background:#9cc3bd;background-image:repeating-linear-gradient(to bottom, transparent 0, transparent 6.4px, #fff 6.4px, #fff 7.6px);"></div>
<div class="r" style="left:1726.75px;top:922.90px;width:5.20px;height:2.10px;background:#e9242b;background-image:repeating-linear-gradient(to bottom, transparent 0, transparent 6.4px, #fff 6.4px, #fff 7.6px);"></div>
<div class="r" style="left:1736.60px;top:900.10px;width:2.60px;height:3.40px;background:#e39a3b;"></div>
<div class="r" style="left:1736.60px;top:903.50px;width:2.60px;height:9.00px;background:#3aa7db;"></div>
<div class="r" style="left:1739.10px;top:900.10px;width:4.20px;height:12.40px;background:#b9b9b9;"></div>
<div class="r" style="left:1743.30px;top:898.00px;width:6.70px;height:14.50px;background:#173c5e;"></div>
<div class="r" style="left:1740.60px;top:891.10px;width:0.80px;height:9.00px;background:#8f8f8f;"></div>
<div class="r" style="left:1746.10px;top:889.00px;width:0.80px;height:9.00px;background:#8f8f8f;"></div>
<div class="vl" style="left:1743.8px;top:882.1px">21</div>
<div class="vl" style="left:1749.3px;top:880.0px">14</div>
<div class="bk" style="left:1735.8px"><i></i><u></u><s></s></div>
<div class="r" style="left:1735.60px;top:922.90px;width:4.90px;height:2.10px;background:#9b0d16;background-image:repeating-linear-gradient(to bottom, transparent 0, transparent 6.4px, #fff 6.4px, #fff 7.6px);"></div>
<div class="r" style="left:1745.30px;top:922.90px;width:5.20px;height:2.10px;background:#e9242b;background-image:repeating-linear-gradient(to bottom, transparent 0, transparent 6.4px, #fff 6.4px, #fff 7.6px);"></div>
<div class="r" style="left:1755.15px;top:885.90px;width:2.60px;height:26.60px;background:#3aa7db;"></div>
<div class="r" style="left:1757.65px;top:885.90px;width:4.20px;height:26.60px;background:#b9b9b9;"></div>
<div class="r" style="left:1761.85px;top:899.80px;width:6.70px;height:12.70px;background:#173c5e;"></div>
<div class="r" style="left:1759.15px;top:876.90px;width:0.80px;height:9.00px;background:#8f8f8f;"></div>
<div class="r" style="left:1764.65px;top:890.80px;width:0.80px;height:9.00px;background:#8f8f8f;"></div>
<div class="vl" style="left:1762.4px;top:867.9px">46</div>
<div class="vl" style="left:1767.9px;top:881.8px">13</div>
<div class="bk" style="left:1754.4px"><i></i><u></u><s></s></div>
<div class="r" style="left:1754.15px;top:922.90px;width:4.90px;height:4.70px;background:#9b0d16;background-image:repeating-linear-gradient(to bottom, transparent 0, transparent 6.4px, #fff 6.4px, #fff 7.6px);"></div>
<div class="r" style="left:1759.05px;top:922.90px;width:4.80px;height:2.10px;background:#9cc3bd;background-image:repeating-linear-gradient(to bottom, transparent 0, transparent 6.4px, #fff 6.4px, #fff 7.6px);"></div>
<div class="r" style="left:1773.70px;top:898.70px;width:2.60px;height:13.80px;background:#3aa7db;"></div>
<div class="r" style="left:1776.20px;top:898.70px;width:4.20px;height:13.80px;background:#b9b9b9;"></div>
<div class="r" style="left:1780.40px;top:897.00px;width:6.70px;height:15.50px;background:#173c5e;"></div>
<div class="r" style="left:1777.70px;top:889.70px;width:0.80px;height:9.00px;background:#8f8f8f;"></div>
<div class="r" style="left:1783.20px;top:888.00px;width:0.80px;height:9.00px;background:#8f8f8f;"></div>
<div class="vl" style="left:1780.9px;top:880.7px">24</div>
<div class="vl" style="left:1786.4px;top:879.0px">15</div>
<div class="bk" style="left:1772.9px"><i></i><u></u><s></s></div>
<div class="r" style="left:1772.70px;top:922.90px;width:4.90px;height:2.10px;background:#9b0d16;background-image:repeating-linear-gradient(to bottom, transparent 0, transparent 6.4px, #fff 6.4px, #fff 7.6px);"></div>
<div class="r" style="left:1792.25px;top:888.60px;width:2.60px;height:23.90px;background:#3aa7db;"></div>
<div class="r" style="left:1794.75px;top:888.60px;width:4.20px;height:23.90px;background:#b9b9b9;"></div>
<div class="r" style="left:1798.95px;top:907.80px;width:6.70px;height:4.70px;background:#173c5e;"></div>
<div class="r" style="left:1796.25px;top:879.60px;width:0.80px;height:9.00px;background:#8f8f8f;"></div>
<div class="r" style="left:1801.75px;top:898.80px;width:0.80px;height:9.00px;background:#8f8f8f;"></div>
<div class="vl" style="left:1799.5px;top:870.6px">41</div>
<div class="vl" style="left:1805.0px;top:889.8px">5</div>
<div class="bk" style="left:1791.5px"><i></i><u></u><s></s></div>
<div class="r" style="left:1791.25px;top:922.90px;width:4.90px;height:2.10px;background:#9b0d16;background-image:repeating-linear-gradient(to bottom, transparent 0, transparent 6.4px, #fff 6.4px, #fff 7.6px);"></div>
<div class="r" style="left:1796.15px;top:922.90px;width:4.80px;height:2.10px;background:#9cc3bd;background-image:repeating-linear-gradient(to bottom, transparent 0, transparent 6.4px, #fff 6.4px, #fff 7.6px);"></div>
<div class="r" style="left:1800.95px;top:922.90px;width:5.20px;height:2.10px;background:#e9242b;background-image:repeating-linear-gradient(to bottom, transparent 0, transparent 6.4px, #fff 6.4px, #fff 7.6px);"></div>
<div class="r" style="left:1832.30px;top:892.90px;width:2.60px;height:1.10px;background:#1f4b3a;"></div>
<div class="r" style="left:1832.30px;top:894.00px;width:2.60px;height:18.50px;background:#3aa7db;"></div>
<div class="r" style="left:1834.80px;top:892.90px;width:4.20px;height:19.60px;background:#b9b9b9;"></div>
<div class="r" style="left:1839.00px;top:904.00px;width:6.70px;height:8.50px;background:#173c5e;"></div>
<div class="r" style="left:1836.30px;top:883.90px;width:0.80px;height:9.00px;background:#8f8f8f;"></div>
<div class="r" style="left:1841.80px;top:895.00px;width:0.80px;height:9.00px;background:#8f8f8f;"></div>
<div class="vl" style="left:1839.5px;top:874.9px">34</div>
<div class="vl" style="left:1845.0px;top:886.0px">8</div>
<div class="bk" style="left:1831.5px"><i></i><u></u><s></s></div>
<div class="r" style="left:1831.30px;top:922.90px;width:4.90px;height:2.10px;background:#9b0d16;background-image:repeating-linear-gradient(to bottom, transparent 0, transparent 6.4px, #fff 6.4px, #fff 7.6px);"></div>
<div class="r" style="left:1850.83px;top:875.20px;width:2.60px;height:37.30px;background:#3aa7db;"></div>
<div class="r" style="left:1853.33px;top:875.20px;width:4.20px;height:37.30px;background:#b9b9b9;"></div>
<div class="r" style="left:1857.53px;top:904.00px;width:6.70px;height:8.50px;background:#173c5e;"></div>
<div class="r" style="left:1854.83px;top:866.20px;width:0.80px;height:9.00px;background:#8f8f8f;"></div>
<div class="r" style="left:1860.33px;top:895.00px;width:0.80px;height:9.00px;background:#8f8f8f;"></div>
<div class="vl" style="left:1858.0px;top:857.2px">65</div>
<div class="vl" style="left:1863.5px;top:886.0px">8</div>
<div class="st" style="left:1859.4px;top:881.0px"></div>
<div class="bk" style="left:1850.0px"><i></i><u></u><s></s></div>
<div class="r" style="left:1849.83px;top:922.90px;width:4.90px;height:5.10px;background:#9b0d16;background-image:repeating-linear-gradient(to bottom, transparent 0, transparent 6.4px, #fff 6.4px, #fff 7.6px);"></div>
<div class="r" style="left:1854.73px;top:922.90px;width:4.80px;height:2.10px;background:#9cc3bd;background-image:repeating-linear-gradient(to bottom, transparent 0, transparent 6.4px, #fff 6.4px, #fff 7.6px);"></div>
<div class="r" style="left:1869.36px;top:877.80px;width:2.60px;height:12.50px;background:#e39a3b;"></div>
<div class="r" style="left:1869.36px;top:890.30px;width:2.60px;height:0.70px;background:#1f4b3a;"></div>
<div class="r" style="left:1869.36px;top:891.00px;width:2.60px;height:21.50px;background:#3aa7db;"></div>
<div class="r" style="left:1871.86px;top:877.80px;width:4.20px;height:34.70px;background:#b9b9b9;"></div>
<div class="r" style="left:1876.06px;top:903.00px;width:6.70px;height:9.50px;background:#173c5e;"></div>
<div class="r" style="left:1873.36px;top:868.80px;width:0.80px;height:9.00px;background:#8f8f8f;"></div>
<div class="r" style="left:1878.86px;top:894.00px;width:0.80px;height:9.00px;background:#8f8f8f;"></div>
<div class="vl" style="left:1876.6px;top:859.8px">60</div>
<div class="vl" style="left:1882.1px;top:885.0px">9</div>
<div class="st" style="left:1878.0px;top:880.0px"></div>
<div class="st" style="left:1878.0px;top:875.8px"></div>
<div class="st" style="left:1878.0px;top:871.6px"></div>
<div class="bk" style="left:1868.6px"><i></i><u></u><s></s></div>
<div class="r" style="left:1868.36px;top:922.90px;width:4.90px;height:2.10px;background:#9b0d16;background-image:repeating-linear-gradient(to bottom, transparent 0, transparent 6.4px, #fff 6.4px, #fff 7.6px);"></div>
<div class="r" style="left:1887.89px;top:888.00px;width:2.60px;height:24.50px;background:#3aa7db;"></div>
<div class="r" style="left:1890.39px;top:888.00px;width:4.20px;height:24.50px;background:#b9b9b9;"></div>
<div class="r" style="left:1894.59px;top:901.20px;width:6.70px;height:11.30px;background:#173c5e;"></div>
<div class="r" style="left:1891.89px;top:879.00px;width:0.80px;height:9.00px;background:#8f8f8f;"></div>
<div class="r" style="left:1897.39px;top:892.20px;width:0.80px;height:9.00px;background:#8f8f8f;"></div>
<div class="vl" style="left:1895.1px;top:870.0px">42</div>
<div class="vl" style="left:1900.6px;top:883.2px">11</div>
<div class="bk" style="left:1887.1px"><i></i><u></u><s></s></div>
<div class="r" style="left:1886.89px;top:922.90px;width:4.90px;height:5.10px;background:#9b0d16;background-image:repeating-linear-gradient(to bottom, transparent 0, transparent 6.4px, #fff 6.4px, #fff 7.6px);"></div>
<div class="r" style="left:1891.79px;top:922.90px;width:4.80px;height:2.10px;background:#9cc3bd;background-image:repeating-linear-gradient(to bottom, transparent 0, transparent 6.4px, #fff 6.4px, #fff 7.6px);"></div>
<div class="r" style="left:1896.59px;top:922.90px;width:5.20px;height:2.10px;background:#e9242b;background-image:repeating-linear-gradient(to bottom, transparent 0, transparent 6.4px, #fff 6.4px, #fff 7.6px);"></div>
<div class="r" style="left:1906.42px;top:892.00px;width:2.60px;height:1.50px;background:#e39a3b;"></div>
<div class="r" style="left:1906.42px;top:893.50px;width:2.60px;height:19.00px;background:#3aa7db;"></div>
<div class="r" style="left:1908.92px;top:892.00px;width:4.20px;height:20.50px;background:#b9b9b9;"></div>
<div class="r" style="left:1913.12px;top:904.30px;width:6.70px;height:8.20px;background:#173c5e;"></div>
<div class="r" style="left:1910.42px;top:883.00px;width:0.80px;height:9.00px;background:#8f8f8f;"></div>
<div class="r" style="left:1915.92px;top:895.30px;width:0.80px;height:9.00px;background:#8f8f8f;"></div>
<div class="vl" style="left:1913.6px;top:874.0px">35</div>
<div class="vl" style="left:1919.1px;top:886.3px">8</div>
<div class="bk" style="left:1905.6px"><i></i><u></u><s></s></div>
<div class="r" style="left:1905.42px;top:922.90px;width:4.90px;height:5.10px;background:#9b0d16;background-image:repeating-linear-gradient(to bottom, transparent 0, transparent 6.4px, #fff 6.4px, #fff 7.6px);"></div>
<div class="r" style="left:1910.32px;top:922.90px;width:4.80px;height:2.10px;background:#9cc3bd;background-image:repeating-linear-gradient(to bottom, transparent 0, transparent 6.4px, #fff 6.4px, #fff 7.6px);"></div>
<div class="r" style="left:1924.95px;top:892.00px;width:2.60px;height:20.50px;background:#3aa7db;"></div>
<div class="r" style="left:1927.45px;top:892.00px;width:4.20px;height:20.50px;background:#b9b9b9;"></div>
<div class="r" style="left:1931.65px;top:901.20px;width:6.70px;height:11.30px;background:#173c5e;"></div>
<div class="r" style="left:1928.95px;top:883.00px;width:0.80px;height:9.00px;background:#8f8f8f;"></div>
<div class="r" style="left:1934.45px;top:892.20px;width:0.80px;height:9.00px;background:#8f8f8f;"></div>
<div class="vl" style="left:1932.2px;top:874.0px">35</div>
<div class="vl" style="left:1937.7px;top:883.2px">11</div>
<div class="bk" style="left:1924.2px"><i></i><u></u><s></s></div>
<div class="r" style="left:1943.48px;top:894.00px;width:2.60px;height:1.50px;background:#e39a3b;"></div>
<div class="r" style="left:1943.48px;top:895.50px;width:2.60px;height:17.00px;background:#3aa7db;"></div>
<div class="r" style="left:1945.98px;top:894.00px;width:4.20px;height:18.50px;background:#b9b9b9;"></div>
<div class="r" style="left:1950.18px;top:907.00px;width:6.70px;height:5.50px;background:#173c5e;"></div>
<div class="r" style="left:1947.48px;top:885.00px;width:0.80px;height:9.00px;background:#8f8f8f;"></div>
<div class="r" style="left:1952.98px;top:898.00px;width:0.80px;height:9.00px;background:#8f8f8f;"></div>
<div class="vl" style="left:1950.7px;top:876.0px">32</div>
<div class="vl" style="left:1956.2px;top:889.0px">5</div>
<div class="st" style="left:1952.1px;top:884.0px"></div>
<div class="bk" style="left:1942.7px"><i></i><u></u><s></s></div>
<div class="r" style="left:1962.01px;top:894.00px;width:2.60px;height:18.50px;background:#3aa7db;"></div>
<div class="r" style="left:1964.51px;top:894.00px;width:4.20px;height:18.50px;background:#b9b9b9;"></div>
<div class="r" style="left:1968.71px;top:908.10px;width:6.70px;height:4.40px;background:#173c5e;"></div>
<div class="r" style="left:1966.01px;top:885.00px;width:0.80px;height:9.00px;background:#8f8f8f;"></div>
<div class="r" style="left:1971.51px;top:899.10px;width:0.80px;height:9.00px;background:#8f8f8f;"></div>
<div class="vl" style="left:1969.2px;top:876.0px">32</div>
<div class="vl" style="left:1974.7px;top:890.1px">4</div>
<div class="st" style="left:1970.6px;top:885.1px"></div>
<div class="bk" style="left:1961.2px"><i></i><u></u><s></s></div>
<div class="an" style="left:167.5px;top:546.4px">President Bush</div>
<div class="an" style="left:167.5px;top:553.8px">announces the</div>
<div class="an" style="left:167.5px;top:561.2px">start of a war</div>
<div class="an" style="left:167.5px;top:568.6px">against Iraq.</div>
<div class="dt" style="left:158.2px;top:584.0px">20 MAR 2003</div>
<div class="an" style="left:204.5px;top:650.4px">President Bush de-</div>
<div class="an" style="left:204.5px;top:657.7px">clares “Mission Ac-</div>
<div class="an" style="left:204.5px;top:665.0px">complished,” over</div>
<div class="an" style="left:204.5px;top:672.3px">the battle to topple</div>
<div class="an" style="left:204.5px;top:679.6px">Saddam Hussein’s</div>
<div class="an" style="left:204.5px;top:686.9px">government</div>
<div class="dt" style="left:195.8px;top:683.5px">01 MAY 2003</div>
<div class="an" style="left:336.2px;top:636.4px">Huge Suicide</div>
<div class="an" style="left:336.2px;top:643.6px">Blast Demolishes</div>
<div class="an" style="left:336.2px;top:650.8px">U.N. Headquarters</div>
<div class="an" style="left:336.2px;top:658.0px">in Baghdad; Top</div>
<div class="an" style="left:336.2px;top:665.2px">Aid Officials</div>
<div class="an" style="left:336.2px;top:672.4px">Among 17 Dead</div>
<div class="dt" style="left:326.3px;top:671.5px">19 AUG 2003</div>
<div class="an" style="right:1640.0px;top:531.7px;text-align:right">Four Blackwater</div>
<div class="an" style="right:1640.0px;top:538.9px;text-align:right">private security</div>
<div class="an" style="right:1640.0px;top:546.1px;text-align:right">employees are</div>
<div class="an" style="right:1640.0px;top:553.3px;text-align:right">killed on Falluja</div>
<div class="an" style="right:1640.0px;top:560.5px;text-align:right">and hung from a</div>
<div class="an" style="right:1640.0px;top:567.7px;text-align:right">bridge</div>
<div class="dt" style="left:411.6px;top:567.0px">31 MAR 2004</div>
<div class="an" style="right:1621.3px;top:117.4px;text-align:right">Naked Iraqi</div>
<div class="an" style="right:1621.3px;top:124.7px;text-align:right">detainees are forced</div>
<div class="an" style="right:1621.3px;top:132.0px;text-align:right">into sexually abusive</div>
<div class="an" style="right:1621.3px;top:139.3px;text-align:right">and humiliating posi-</div>
<div class="an" style="right:1621.3px;top:146.6px;text-align:right">tions at the Abu</div>
<div class="an" style="right:1621.3px;top:153.9px;text-align:right">Ghraib prison west of</div>
<div class="an" style="right:1621.3px;top:161.2px;text-align:right">Baghdad</div>
<div class="dt" style="left:430.4px;top:152.6px">28 APR 2004</div>
<div class="an" style="left:469.1px;top:252.4px">Fifteen months after</div>
<div class="an" style="left:469.1px;top:259.7px">Saddam Hussein’s</div>
<div class="an" style="left:469.1px;top:267.0px">removal from power,</div>
<div class="an" style="left:469.1px;top:274.3px">the American au-</div>
<div class="an" style="left:469.1px;top:281.6px">thorities transfer</div>
<div class="an" style="left:469.1px;top:288.9px">formal sovereignty</div>
<div class="an" style="left:469.1px;top:296.2px">of Iraq to its new</div>
<div class="an" style="left:469.1px;top:303.5px">leaders</div>
<div class="dt" style="left:459.4px;top:288.8px">28 JUN 2004</div>
<div class="an" style="right:1490.1px;top:14.3px;text-align:right">Between 10,000 and</div>
<div class="an" style="right:1490.1px;top:21.6px;text-align:right">15,000 American sol-</div>
<div class="an" style="right:1490.1px;top:28.8px;text-align:right">diers and Marines</div>
<div class="an" style="right:1490.1px;top:36.1px;text-align:right">backed by newly</div>
<div class="an" style="right:1490.1px;top:43.3px;text-align:right">trained Iraqi forces</div>
<div class="an" style="right:1490.1px;top:50.6px;text-align:right">move on Falluja</div>
<div class="dt" style="left:561.6px;top:50.0px">07 NOV 2004</div>
<div class="an" style="left:621.0px;top:448.5px">Defying death threats,</div>
<div class="an" style="left:621.0px;top:455.6px">mortar rounds and</div>
<div class="an" style="left:621.0px;top:462.8px">suicide bombers,</div>
<div class="an" style="left:621.0px;top:469.9px">Iraqis turn out in</div>
<div class="an" style="left:621.0px;top:477.0px">great numbers to vote</div>
<div class="an" style="left:621.0px;top:484.1px">in the country’s first</div>
<div class="an" style="left:621.0px;top:491.3px">free elections in 50</div>
<div class="an" style="left:621.0px;top:498.4px">years</div>
<div class="dt" style="left:610.9px;top:483.4px">30 JAN 2005</div>
<div class="an" style="right:1227.6px;top:376.4px;text-align:right">Millions of Iraqis cast</div>
<div class="an" style="right:1227.6px;top:383.7px;text-align:right">ballots to elect a Par-</div>
<div class="an" style="right:1227.6px;top:391.0px;text-align:right">liament to a four-year</div>
<div class="an" style="right:1227.6px;top:398.3px;text-align:right">term, with Sunni</div>
<div class="an" style="right:1227.6px;top:405.6px;text-align:right">Arabs turning out in</div>
<div class="an" style="right:1227.6px;top:412.9px;text-align:right">what appear to be</div>
<div class="an" style="right:1227.6px;top:420.2px;text-align:right">heavy numbers</div>
<div class="dt" style="left:824.5px;top:411.6px">15 DEC 2005</div>
<div class="an" style="right:1265.0px;top:474.4px;text-align:right">Saddam Hussein</div>
<div class="an" style="right:1265.0px;top:481.7px;text-align:right">goes on trial for the</div>
<div class="an" style="right:1265.0px;top:489.0px;text-align:right">killing of 148 people</div>
<div class="an" style="right:1265.0px;top:496.3px;text-align:right">in 1992.</div>
<div class="dt" style="left:786.8px;top:510.0px">19 OCT 2005</div>
<div class="an" style="left:883.5px;top:250.0px">A powerful bomb</div>
<div class="an" style="left:883.5px;top:257.3px">shatters the golden</div>
<div class="an" style="left:883.5px;top:264.6px">dome at the Askariya</div>
<div class="an" style="left:883.5px;top:271.9px">Shrine in Samarra,</div>
<div class="an" style="left:883.5px;top:279.2px">one of Iraq’s most re-</div>
<div class="an" style="left:883.5px;top:286.5px">vered Shiite shrines</div>
<div class="dt" style="left:873.8px;top:285.0px">22 FEB 2006</div>
<div class="an" style="left:920.5px;top:397.3px">Shiite leaders select</div>
<div class="an" style="left:920.5px;top:404.5px">Nuri Kamal al-Maliki,</div>
<div class="an" style="left:920.5px;top:411.7px">as their nominee for</div>
<div class="an" style="left:920.5px;top:418.9px">prime minister, open-</div>
<div class="an" style="left:920.5px;top:426.1px">ing the door for him</div>
<div class="an" style="left:920.5px;top:433.2px">to become the leader</div>
<div class="an" style="left:920.5px;top:440.4px">of Iraq’s first full-term</div>
<div class="an" style="left:920.5px;top:447.6px">government since the</div>
<div class="an" style="left:920.5px;top:454.8px">fall of Saddam Hus-</div>
<div class="an" style="left:920.5px;top:462.0px">sein</div>
<div class="dt" style="left:910.4px;top:431.0px">22 APR 2006</div>
<div class="an" style="right:983.7px;top:167.4px;text-align:right">Saddam Hussein is</div>
<div class="an" style="right:983.7px;top:174.7px;text-align:right">hanged just before</div>
<div class="an" style="right:983.7px;top:181.9px;text-align:right">dawn at an execution</div>
<div class="an" style="right:983.7px;top:189.2px;text-align:right">chamber in Baghdad</div>
<div class="an" style="right:983.7px;top:196.4px;text-align:right">during the morning</div>
<div class="an" style="right:983.7px;top:203.7px;text-align:right">call to prayer</div>
<div class="dt" style="left:1068.8px;top:202.7px">30 DEC 2006</div>
<div class="an" style="left:1109.5px;top:192.4px">The list of</div>
<div class="an" style="left:1109.5px;top:199.5px">American military</div>
<div class="an" style="left:1109.5px;top:206.7px">deaths in Iraq</div>
<div class="an" style="left:1109.5px;top:213.8px">reaches the</div>
<div class="an" style="left:1109.5px;top:221.0px">somber milestone</div>
<div class="an" style="left:1109.5px;top:228.1px">of at least 3,000</div>
<div class="an" style="left:1109.5px;top:235.2px">since the March</div>
<div class="an" style="left:1109.5px;top:242.4px">2003 invasion</div>
<div class="dt" style="left:1099.8px;top:227.0px">01 JAN 2007</div>
<div class="an" style="left:1165.3px;top:282.6px">Bombings in Baghdad</div>
<div class="an" style="left:1165.3px;top:289.9px">kill nearly 200 people</div>
<div class="an" style="left:1165.3px;top:297.2px">in the worst day of</div>
<div class="an" style="left:1165.3px;top:304.5px">violence since a</div>
<div class="an" style="left:1165.3px;top:311.8px">US-led security drive</div>
<div class="an" style="left:1165.3px;top:319.1px">began in the capital in</div>
<div class="an" style="left:1165.3px;top:326.4px">March</div>
<div class="dt" style="left:1155.4px;top:319.6px">17 APR 2007</div>
<div class="an" style="left:1202.2px;top:361.7px">American commanders</div>
<div class="an" style="left:1202.2px;top:368.8px">turn to another strategy</div>
<div class="an" style="left:1202.2px;top:376.0px">that they acknowledge</div>
<div class="an" style="left:1202.2px;top:383.1px">is fraught with risk:</div>
<div class="an" style="left:1202.2px;top:390.3px">arming Sunni Arab</div>
<div class="an" style="left:1202.2px;top:397.4px">groups that have prom-</div>
<div class="an" style="left:1202.2px;top:404.5px">ised to fight militants</div>
<div class="an" style="left:1202.2px;top:411.7px">linked with Al Qaeda</div>
<div class="dt" style="left:1193.2px;top:396.7px">10 JUN 2007</div>
<div class="an" style="right:738.9px;top:501.7px;text-align:right">Britain hands over</div>
<div class="an" style="right:738.9px;top:508.8px;text-align:right">security of Basra</div>
<div class="an" style="right:738.9px;top:516.0px;text-align:right">province to Iraqi</div>
<div class="an" style="right:738.9px;top:523.1px;text-align:right">forces, effectively</div>
<div class="an" style="right:738.9px;top:530.3px;text-align:right">marking the end of</div>
<div class="an" style="right:738.9px;top:537.4px;text-align:right">nearly five years of</div>
<div class="an" style="right:738.9px;top:544.5px;text-align:right">British control of</div>
<div class="an" style="right:738.9px;top:551.7px;text-align:right">southern Iraq.</div>
<div class="dt" style="left:1313.6px;top:535.8px">16 DEC 2007</div>
<div class="an" style="right:513.8px;top:628.6px;text-align:right">Parliament approves</div>
<div class="an" style="right:513.8px;top:635.9px;text-align:right">a security pact with</div>
<div class="an" style="right:513.8px;top:643.2px;text-align:right">the United States</div>
<div class="an" style="right:513.8px;top:650.5px;text-align:right">under which all US</div>
<div class="an" style="right:513.8px;top:657.8px;text-align:right">troops are due to</div>
<div class="an" style="right:513.8px;top:665.1px;text-align:right">leave the country by</div>
<div class="an" style="right:513.8px;top:672.4px;text-align:right">the end of 2011</div>
<div class="dt" style="left:1538.3px;top:664.0px">27 NOV 2008</div>
<div class="r" style="left:72.80px;top:827.80px;width:2.80px;height:21.20px;background:#e39a3b;"></div>
<div class="r" style="left:72.80px;top:849.00px;width:2.80px;height:21.50px;background:#d5d66c;"></div>
<div class="r" style="left:72.80px;top:870.50px;width:2.80px;height:21.70px;background:#1f4b3a;"></div>
<div class="r" style="left:72.80px;top:892.20px;width:2.80px;height:20.30px;background:#3aa7db;"></div>
<div class="r" style="left:76.60px;top:827.80px;width:7.40px;height:84.70px;background:#b9b9b9;"></div>
<div class="r" style="left:84.00px;top:827.80px;width:7.30px;height:84.70px;background:#173c5e;"></div>
<div class="r" style="left:70.80px;top:827.80px;width:0.80px;height:84.70px;background:#8a8a8a;"></div>
<div class="r" style="left:61.00px;top:837.70px;width:10.00px;height:0.80px;background:#8a8a8a;"></div>
<div class="r" style="left:49.00px;top:836.50px;width:11.00px;height:2.40px;background:#9a9a9a;opacity:0.7"></div>
<div class="r" style="left:61.00px;top:859.20px;width:10.00px;height:0.80px;background:#8a8a8a;"></div>
<div class="r" style="left:49.00px;top:858.00px;width:11.00px;height:2.40px;background:#9a9a9a;opacity:0.7"></div>
<div class="r" style="left:61.00px;top:880.20px;width:10.00px;height:0.80px;background:#8a8a8a;"></div>
<div class="r" style="left:49.00px;top:879.00px;width:11.00px;height:2.40px;background:#9a9a9a;opacity:0.7"></div>
<div class="r" style="left:61.00px;top:901.20px;width:10.00px;height:0.80px;background:#8a8a8a;"></div>
<div class="r" style="left:49.00px;top:900.00px;width:11.00px;height:2.40px;background:#9a9a9a;opacity:0.7"></div>
<div class="r" style="left:76.60px;top:824.60px;width:14.70px;height:0.80px;background:#666;"></div>
<div class="r" style="left:80.30px;top:816.00px;width:0.80px;height:9.00px;background:#888;"></div>
<div class="r" style="left:87.30px;top:816.00px;width:0.80px;height:9.00px;background:#888;"></div>
<div class="vl" style="left:83px;top:790px;color:#555">WOUNDED</div>
<div class="vl" style="left:89.5px;top:792px;color:#555">DEATHS</div>
<div class="vl" style="left:76.5px;top:781px;color:#777;font-size:4px">WOUNDED/KIA/NON-HOSTILE</div>
<div class="st" style="left:86.2px;top:794.5px"></div>
<div class="r" style="left:75px;top:915.2px;width:15px;height:4.6px;border-left:1px solid #555;border-right:1px solid #555;box-sizing:border-box"><div style="position:absolute;left:2px;right:2px;top:1.5px;height:1.6px;background:#b0b0b0"></div></div>
<div class="r" style="left:77.60px;top:924.70px;width:4.90px;height:9.30px;background:#9b0d16;"></div>
<div class="r" style="left:82.50px;top:924.70px;width:3.50px;height:9.30px;background:#9cc3bd;"></div>
<div class="r" style="left:86.00px;top:924.70px;width:4.20px;height:9.30px;background:#e9242b;"></div>
<div class="r" style="left:74.5px;top:923px;width:17px;height:12px;border-left:1px solid #999;border-right:1px solid #999;box-sizing:border-box"></div>
<div class="r" style="left:20.00px;top:925.40px;width:54.00px;height:0.80px;background:#c8c8c8;"></div>
<div class="r" style="left:1834.00px;top:937.00px;width:6.00px;height:1.50px;background:#222;"></div>
<div class="r" style="left:1840.00px;top:937.00px;width:6.00px;height:1.50px;background:#c0303a;"></div>
<div class="r" style="left:92.00px;top:925.40px;width:58.00px;height:0.80px;background:#c8c8c8;"></div>
<div class="r" style="left:41.00px;top:924.50px;width:8.00px;height:2.50px;background:#8b1a1a;"></div>
<div class="r" style="left:52.00px;top:923.50px;width:1.20px;height:4.50px;background:#222;"></div>
<div class="r" style="left:113.50px;top:923.50px;width:1.20px;height:4.50px;background:#222;"></div>
<div class="r" style="left:117.00px;top:924.50px;width:4.00px;height:2.50px;background:#c0303a;"></div>
<div class="r" style="left:77.60px;top:937.20px;width:11.40px;height:0.80px;background:#888;"></div>
<div class="r" style="left:78.70px;top:938.00px;width:0.80px;height:9.70px;background:#777;"></div>
<div class="r" style="left:82.90px;top:938.00px;width:0.80px;height:9.70px;background:#777;"></div>
<div class="r" style="left:87.50px;top:938.00px;width:0.80px;height:9.70px;background:#777;"></div>
<div class="vl" style="left:81.2px;top:948px;color:#666;font-size:4.2px">KILLED IN ACTION</div>
<div class="vl" style="left:85.4px;top:948px;color:#999;font-size:4.2px">NON-HOSTILE DEATH</div>
<div class="vl" style="left:90px;top:948px;color:#666;font-size:4.2px">KILLED BY IED</div>
<div style="position:absolute;left:1316px;top:27.5px;white-space:nowrap;font:bold 29px/29px 'Liberation Serif',serif;color:#555;letter-spacing:11.17px" id="op">OPERATION IRAQI FREEDOM</div>
<div style="position:absolute;left:1318px;top:40.5px;white-space:nowrap;font:121px/121px 'Liberation Serif',serif;color:#555;-webkit-text-stroke:2px #555;transform:scaleX(1.072);transform-origin:0 0" id="vet">VETERANS</div>
<div style="position:absolute;left:1355px;top:147px;white-space:nowrap;font:bold 12px/14px 'Liberation Serif',serif;color:#4a4a4a;transform:scaleX(1.145);transform-origin:0 0" id="sub">For those veterans whom served and incurred a physical or mental injury,&nbsp; illness, or paid the ultimate price.</div>
<div style="position:absolute;white-space:nowrap;font:16.8px/16px 'Liberation Sans',sans-serif;color:#4a4a4a;transform:scaleX(0.748);transform-origin:100% 0;text-align:right;right:59px;top:211.7px">I WENT TO A FOREIGN COUNTRY AND WHEN I CAME BACK,</div>
<div style="position:absolute;white-space:nowrap;font:16.8px/16px 'Liberation Sans',sans-serif;color:#4a4a4a;transform:scaleX(0.748);transform-origin:100% 0;text-align:right;right:59px;top:231.7px">THIS WAS THE FOREIGN COUNTRY. I AM LOST, SCARED,</div>
<div style="position:absolute;white-space:nowrap;font:16.8px/16px 'Liberation Sans',sans-serif;color:#4a4a4a;transform:scaleX(0.748);transform-origin:100% 0;text-align:right;right:59px;top:251.7px">AND DON’T KNOW WHAT TO DO TO MAKE IT BETTER.</div>
<div style="position:absolute;left:1616.5px;top:209px;font:bold 17px/17px 'Liberation Serif',serif;color:#4a4a4a">“</div>
<div style="position:absolute;left:1982.5px;top:266px;font:bold 17px/17px 'Liberation Serif',serif;color:#4a4a4a">”</div>
<div style="position:absolute;right:68px;top:275px;white-space:nowrap;font:italic 11px/11px 'Liberation Sans',sans-serif;color:#4a4a4a;transform:scaleX(0.69);transform-origin:100% 0">SPC JOHN CERDA</div>
<div style="position:absolute;right:59px;top:337px;white-space:nowrap;font:10.5px/11px 'Liberation Serif',serif;color:#444;border-bottom:1.4px solid #333;transform:scaleX(0.9);transform-origin:100% 0">MARCH 2003 - AUGUST 2010</div>
<div style="position:absolute;right:59px;white-space:nowrap;font:bold 13px/13px 'Liberation Serif',serif;color:#5a5a5a;transform-origin:100% 0;top:357.5px;transform:scaleX(1.03)">Total U.S. WOUNDED</div>
<div style="position:absolute;right:58.5px;white-space:nowrap;font:46px/46px 'Liberation Sans',sans-serif;color:#5b5b5b;-webkit-text-stroke:1.3px #5b5b5b;top:366.5px">31494</div>
<div style="position:absolute;right:59px;white-space:nowrap;font:bold 13px/13px 'Liberation Serif',serif;color:#5a5a5a;transform-origin:100% 0;top:428.5px">Total U.S. DEATHS</div>
<div style="position:absolute;right:58.5px;white-space:nowrap;font:46px/46px 'Liberation Sans',sans-serif;color:#5b5b5b;-webkit-text-stroke:1.3px #5b5b5b;top:437.5px">4412</div>
<div style="position:absolute;right:59px;white-space:nowrap;font:bold 13px/13px 'Liberation Serif',serif;color:#5a5a5a;transform-origin:100% 0;top:499.5px;transform:scaleX(0.94)">KILLED BY IED</div>
<div style="position:absolute;right:58.5px;white-space:nowrap;font:46px/46px 'Liberation Sans',sans-serif;color:#5b5b5b;-webkit-text-stroke:1.3px #5b5b5b;top:508px">2192</div>
</body></html>
